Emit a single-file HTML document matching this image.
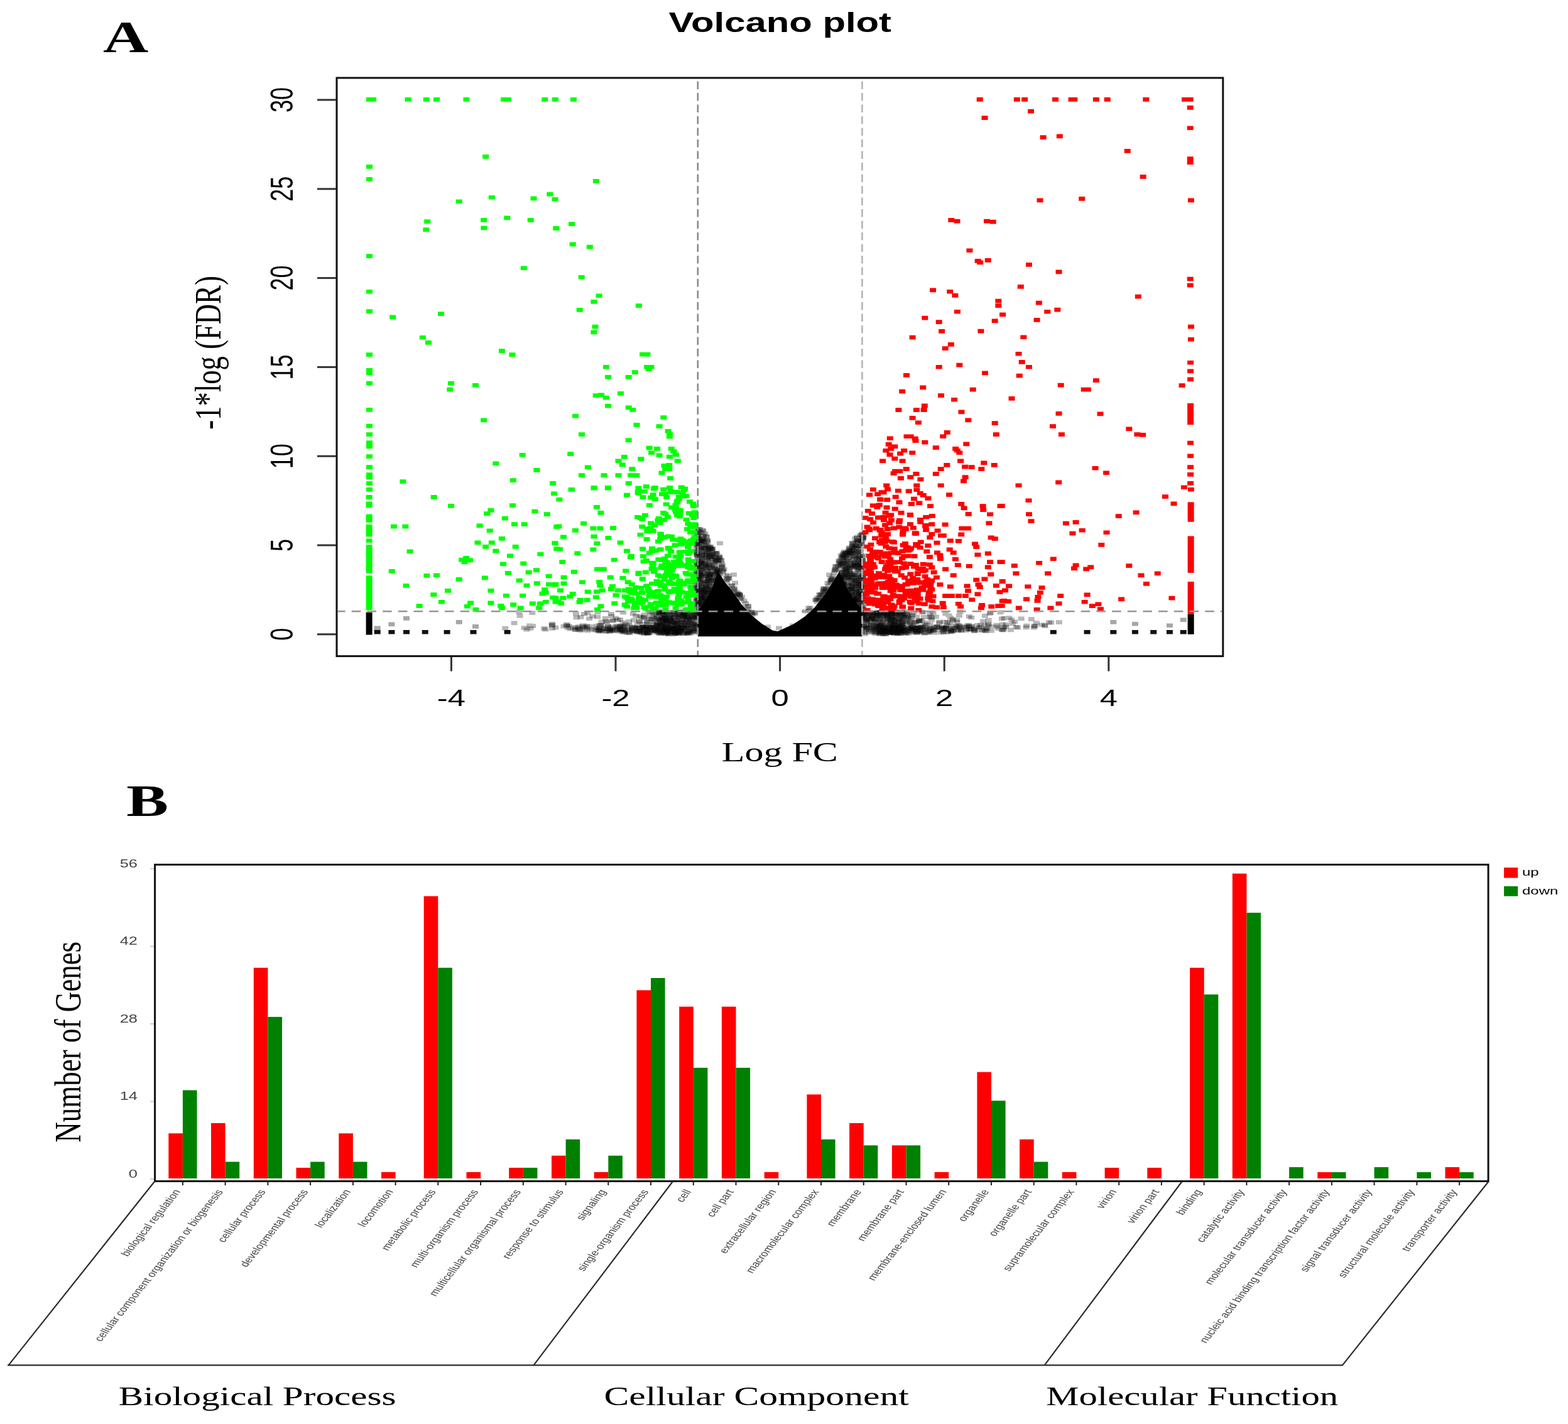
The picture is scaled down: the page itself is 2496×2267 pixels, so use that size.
<!DOCTYPE html>
<html><head><meta charset="utf-8"><title>Volcano plot and GO classification</title>
<style>html,body{margin:0;padding:0;background:#fff;overflow:hidden}svg{display:block}</style></head>
<body><svg width="2496" height="2267" viewBox="0 0 2496 2267">
<rect width="2496" height="2267" fill="#fff"/>
<text transform="translate(164.00,83.10) scale(1.4100,1)" font-family="'Liberation Serif', 'Times New Roman', serif" font-size="71" font-weight="bold" text-anchor="start" fill="#000">A</text>
<text transform="translate(1241.80,50.80) scale(1.3295,1)" font-family="'Liberation Sans', Arial, sans-serif" font-size="45" font-weight="bold" text-anchor="middle" fill="#000">Volcano plot</text>
<path d="M1143.0 910.0L1154.7 927.9L1164.7 939.4L1180.6 962.4L1195.0 978.2L1212.2 992.6L1229.5 1003.4L1238.0 1005.0L1262.5 994.0L1281.2 981.5L1297.0 966.7L1312.9 946.6L1325.8 926.4L1336.0 910.0L1350.0 940.0L1365.0 962.0L1372.0 972.0L1372.0 1013.2L1111.0 1013.2L1111.0 972.0L1119.0 962.0L1132.0 940.0Z" fill="#000"/>
<g fill="#000" fill-opacity="0.28"><path d="M1128.8 940.9h10v6.7h-10zM1122.7 916.0h10v6.7h-10zM1139.6 963.7h10v6.7h-10zM1109.1 921.9h10v6.7h-10zM1111.3 868.7h10v6.7h-10zM1115.9 922.4h10v6.7h-10zM1121.2 857.4h10v6.7h-10zM1123.0 965.1h10v6.7h-10zM1118.5 954.7h10v6.7h-10zM1122.3 871.9h10v6.7h-10zM1110.4 951.1h10v6.7h-10zM1138.6 964.5h10v6.7h-10zM1116.8 943.8h10v6.7h-10zM1119.5 930.8h10v6.7h-10zM1127.7 936.7h10v6.7h-10zM1105.0 879.1h10v6.7h-10zM1129.9 960.2h10v6.7h-10zM1135.3 960.5h10v6.7h-10zM1140.9 933.0h10v6.7h-10zM1134.0 932.0h10v6.7h-10zM1104.6 944.2h10v6.7h-10zM1107.3 867.6h10v6.7h-10zM1126.6 920.8h10v6.7h-10zM1110.1 910.1h10v6.7h-10zM1107.9 965.4h10v6.7h-10zM1107.7 969.2h10v6.7h-10zM1122.8 872.9h10v6.7h-10zM1130.1 954.9h10v6.7h-10zM1126.1 967.3h10v6.7h-10zM1117.0 856.8h10v6.7h-10zM1111.7 892.5h10v6.7h-10zM1108.8 858.3h10v6.7h-10zM1127.5 973.9h10v6.7h-10zM1123.9 911.5h10v6.7h-10zM1110.3 920.8h10v6.7h-10zM1120.5 905.3h10v6.7h-10zM1118.5 864.3h10v6.7h-10zM1106.0 938.8h10v6.7h-10zM1111.2 844.3h10v6.7h-10zM1106.8 940.5h10v6.7h-10zM1133.7 950.1h10v6.7h-10zM1104.7 938.9h10v6.7h-10zM1104.3 980.9h10v6.7h-10zM1140.6 905.2h10v6.7h-10zM1107.1 863.1h10v6.7h-10zM1139.6 954.9h10v6.7h-10zM1121.8 906.8h10v6.7h-10zM1115.6 940.3h10v6.7h-10zM1105.2 849.0h10v6.7h-10zM1121.9 869.2h10v6.7h-10zM1129.1 878.7h10v6.7h-10zM1103.9 901.5h10v6.7h-10zM1107.0 919.6h10v6.7h-10zM1109.7 897.9h10v6.7h-10zM1108.4 917.0h10v6.7h-10zM1351.9 968.2h10v6.7h-10zM1338.3 896.0h10v6.7h-10zM1352.3 963.5h10v6.7h-10zM1343.2 955.1h10v6.7h-10zM1340.1 974.9h10v6.7h-10zM1363.5 933.3h10v6.7h-10zM1354.6 922.4h10v6.7h-10zM1334.9 893.1h10v6.7h-10zM1367.6 926.7h10v6.7h-10zM1345.1 875.5h10v6.7h-10zM1369.3 963.1h10v6.7h-10zM1336.4 975.3h10v6.7h-10zM1362.6 889.4h10v6.7h-10zM1350.8 970.1h10v6.7h-10zM1362.3 930.6h10v6.7h-10zM1358.6 944.9h10v6.7h-10zM1351.4 929.6h10v6.7h-10zM1349.1 941.9h10v6.7h-10zM1358.3 962.5h10v6.7h-10zM1343.8 945.0h10v6.7h-10zM1340.0 980.6h10v6.7h-10zM1357.5 915.4h10v6.7h-10zM1356.8 883.6h10v6.7h-10zM1345.8 962.5h10v6.7h-10zM1342.9 978.4h10v6.7h-10zM1354.0 965.7h10v6.7h-10zM1345.9 963.7h10v6.7h-10zM1351.5 958.7h10v6.7h-10zM1335.7 953.2h10v6.7h-10zM1352.9 964.0h10v6.7h-10zM1358.3 926.6h10v6.7h-10zM1351.8 867.3h10v6.7h-10zM1362.4 973.7h10v6.7h-10zM1333.3 917.6h10v6.7h-10zM1359.2 946.8h10v6.7h-10zM1360.4 946.5h10v6.7h-10zM1353.6 886.8h10v6.7h-10zM1337.5 927.1h10v6.7h-10zM1355.2 952.5h10v6.7h-10zM1345.0 913.7h10v6.7h-10zM1365.1 876.3h10v6.7h-10zM1350.5 889.0h10v6.7h-10zM1355.4 877.8h10v6.7h-10zM1359.1 851.4h10v6.7h-10zM1346.6 900.5h10v6.7h-10zM1359.3 927.3h10v6.7h-10zM1339.3 898.8h10v6.7h-10zM1352.9 957.3h10v6.7h-10zM1367.8 941.2h10v6.7h-10zM1359.4 856.4h10v6.7h-10zM1154.9 917.5h10v6.7h-10zM1170.2 942.5h10v6.7h-10zM1172.5 944.4h10v6.7h-10zM1151.5 917.3h10v6.7h-10zM1145.9 906.7h10v6.7h-10zM1283.3 968.6h10v6.7h-10zM1304.7 940.9h10v6.7h-10zM1312.5 925.0h10v6.7h-10zM1338.3 877.2h10v6.7h-10zM1325.2 903.5h10v6.7h-10zM1338.1 880.2h10v6.7h-10zM1165.0 924.6h10v6.7h-10zM1083.6 997.5h10v6.7h-10zM1383.4 973.1h10v6.7h-10zM1388.8 1005.5h10v6.7h-10zM1103.5 985.0h10v6.7h-10zM1056.1 974.9h10v6.7h-10zM1414.5 979.3h10v6.7h-10zM1074.0 972.2h10v6.7h-10zM1067.2 981.9h10v6.7h-10zM1104.4 999.4h10v6.7h-10zM1061.8 971.3h10v6.7h-10zM1367.7 977.3h10v6.7h-10zM1377.2 978.8h10v6.7h-10zM1398.3 1002.1h10v6.7h-10zM1418.8 997.4h10v6.7h-10zM1425.3 993.1h10v6.7h-10zM1422.1 982.2h10v6.7h-10zM1088.1 1001.1h10v6.7h-10zM1392.7 994.3h10v6.7h-10zM1389.3 1002.7h10v6.7h-10zM1420.3 995.9h10v6.7h-10zM1080.9 982.1h10v6.7h-10zM1383.7 972.8h10v6.7h-10zM1053.8 979.7h10v6.7h-10zM1081.5 978.8h10v6.7h-10zM1053.7 977.0h10v6.7h-10zM1081.5 975.2h10v6.7h-10zM1430.2 981.7h10v6.7h-10zM1410.1 1002.6h10v6.7h-10zM1419.4 996.3h10v6.7h-10zM1390.1 979.9h10v6.7h-10zM1396.0 982.0h10v6.7h-10zM1371.7 983.1h10v6.7h-10zM1372.2 972.0h10v6.7h-10zM1104.4 990.4h10v6.7h-10zM1087.6 1002.5h10v6.7h-10zM1373.3 999.4h10v6.7h-10zM1072.8 980.3h10v6.7h-10zM1395.2 992.9h10v6.7h-10zM1095.7 980.4h10v6.7h-10zM1069.8 976.9h10v6.7h-10zM1097.5 1001.5h10v6.7h-10zM1395.1 976.1h10v6.7h-10zM1056.0 984.1h10v6.7h-10zM1429.8 978.2h10v6.7h-10zM1052.8 998.1h10v6.7h-10zM1052.5 1000.7h10v6.7h-10zM1045.5 972.3h10v6.7h-10zM1424.5 991.4h10v6.7h-10zM1067.2 986.7h10v6.7h-10zM1064.9 996.3h10v6.7h-10zM1404.9 976.8h10v6.7h-10zM1373.7 993.8h10v6.7h-10zM1043.7 1003.7h10v6.7h-10zM1054.5 1003.8h10v6.7h-10zM1502.6 1003.1h10v6.7h-10zM1572.5 994.0h10v6.7h-10zM1069.3 1000.5h10v6.7h-10zM1068.8 1000.4h10v6.7h-10zM1546.7 1000.8h10v6.7h-10zM1435.0 998.3h10v6.7h-10zM1021.2 997.7h10v6.7h-10zM1417.0 999.3h10v6.7h-10zM1449.6 1003.1h10v6.7h-10zM1456.6 1000.7h10v6.7h-10zM1450.1 997.0h10v6.7h-10zM1512.0 1001.6h10v6.7h-10zM997.6 1004.0h10v6.7h-10zM1015.0 998.6h10v6.7h-10zM1398.7 999.2h10v6.7h-10zM1519.7 998.0h10v6.7h-10zM1394.0 996.9h10v6.7h-10zM1443.8 997.6h10v6.7h-10zM1021.1 998.2h10v6.7h-10zM1423.0 1002.2h10v6.7h-10zM874.1 989.8h10v6.7h-10zM1494.0 995.0h10v6.7h-10zM1041.8 1002.8h10v6.7h-10zM964.5 1001.5h10v6.7h-10zM1020.4 1004.7h10v6.7h-10zM1519.8 1000.1h10v6.7h-10zM1658.2 993.4h10v6.7h-10zM1029.6 995.4h10v6.7h-10zM1534.3 992.4h10v6.7h-10zM1492.6 1003.6h10v6.7h-10zM1402.8 996.5h10v6.7h-10zM1007.9 996.0h10v6.7h-10zM1596.1 994.4h10v6.7h-10zM950.5 1001.9h10v6.7h-10zM1424.6 997.9h10v6.7h-10zM1041.6 999.1h10v6.7h-10zM1480.6 1000.7h10v6.7h-10zM1429.1 999.9h10v6.7h-10zM1001.5 999.9h10v6.7h-10zM874.0 997.0h10v6.7h-10zM1401.1 1001.1h10v6.7h-10zM1052.3 998.8h10v6.7h-10zM1537.9 998.3h10v6.7h-10zM1483.7 999.9h10v6.7h-10zM1024.0 999.2h10v6.7h-10zM1078.7 994.7h10v6.7h-10zM1430.6 988.7h10v6.7h-10zM1540.1 996.8h10v6.7h-10zM1458.0 996.0h10v6.7h-10zM1523.6 970.3h10v6.7h-10zM984.4 1000.3h10v6.7h-10zM1475.7 991.2h10v6.7h-10zM1438.8 973.5h10v6.7h-10zM986.3 996.3h10v6.7h-10zM1039.5 992.7h10v6.7h-10zM983.3 992.9h10v6.7h-10zM1417.5 991.7h10v6.7h-10zM1593.7 980.8h10v6.7h-10zM1004.0 984.1h10v6.7h-10zM1026.5 982.1h10v6.7h-10zM1443.3 987.4h10v6.7h-10zM1427.6 976.4h10v6.7h-10zM1518.6 987.1h10v6.7h-10zM933.1 998.5h10v6.7h-10zM971.0 984.4h10v6.7h-10zM1601.5 980.3h10v6.7h-10zM1055.7 973.2h10v6.7h-10zM1434.3 972.9h10v6.7h-10zM1022.4 1004.0h10v6.7h-10zM1468.7 991.9h10v6.7h-10zM1434.6 1004.9h10v6.7h-10zM1438.7 977.7h10v6.7h-10z"/><path d="M1110.9 924.1h10v6.7h-10zM1104.3 877.3h10v6.7h-10zM1104.4 895.0h10v6.7h-10zM1140.7 978.4h10v6.7h-10zM1107.6 895.4h10v6.7h-10zM1121.1 964.2h10v6.7h-10zM1111.0 947.8h10v6.7h-10zM1117.1 883.9h10v6.7h-10zM1105.1 953.6h10v6.7h-10zM1135.9 963.5h10v6.7h-10zM1111.6 845.3h10v6.7h-10zM1119.0 914.2h10v6.7h-10zM1105.6 932.0h10v6.7h-10zM1113.9 976.9h10v6.7h-10zM1126.8 886.5h10v6.7h-10zM1119.7 969.1h10v6.7h-10zM1107.8 973.4h10v6.7h-10zM1119.9 928.3h10v6.7h-10zM1122.7 930.4h10v6.7h-10zM1113.0 881.2h10v6.7h-10zM1132.9 917.2h10v6.7h-10zM1134.3 931.0h10v6.7h-10zM1104.6 894.2h10v6.7h-10zM1114.0 978.9h10v6.7h-10zM1134.8 921.3h10v6.7h-10zM1123.6 929.9h10v6.7h-10zM1118.3 899.3h10v6.7h-10zM1103.7 852.9h10v6.7h-10zM1107.7 854.9h10v6.7h-10zM1122.5 919.4h10v6.7h-10zM1119.9 930.2h10v6.7h-10zM1126.3 885.8h10v6.7h-10zM1138.5 943.3h10v6.7h-10zM1134.6 911.6h10v6.7h-10zM1103.1 953.7h10v6.7h-10zM1137.5 978.9h10v6.7h-10zM1125.1 911.9h10v6.7h-10zM1105.8 916.7h10v6.7h-10zM1113.3 888.5h10v6.7h-10zM1133.5 934.2h10v6.7h-10zM1103.5 976.7h10v6.7h-10zM1114.3 881.1h10v6.7h-10zM1132.3 935.6h10v6.7h-10zM1117.0 926.1h10v6.7h-10zM1140.5 937.9h10v6.7h-10zM1106.0 940.2h10v6.7h-10zM1112.8 939.9h10v6.7h-10zM1112.8 955.6h10v6.7h-10zM1113.4 858.3h10v6.7h-10zM1116.8 859.6h10v6.7h-10zM1113.2 968.9h10v6.7h-10zM1128.5 870.0h10v6.7h-10zM1117.6 846.2h10v6.7h-10zM1105.6 896.6h10v6.7h-10zM1103.2 981.5h10v6.7h-10zM1369.8 942.1h10v6.7h-10zM1352.6 975.1h10v6.7h-10zM1336.3 926.5h10v6.7h-10zM1341.9 910.5h10v6.7h-10zM1359.3 979.1h10v6.7h-10zM1360.4 950.3h10v6.7h-10zM1363.2 981.5h10v6.7h-10zM1346.8 936.1h10v6.7h-10zM1365.5 925.6h10v6.7h-10zM1368.2 961.6h10v6.7h-10zM1334.2 919.1h10v6.7h-10zM1365.0 930.2h10v6.7h-10zM1335.6 907.0h10v6.7h-10zM1340.7 884.4h10v6.7h-10zM1358.5 939.8h10v6.7h-10zM1345.7 964.6h10v6.7h-10zM1366.6 961.1h10v6.7h-10zM1362.0 965.6h10v6.7h-10zM1363.6 976.4h10v6.7h-10zM1351.0 872.9h10v6.7h-10zM1339.0 966.1h10v6.7h-10zM1346.9 946.3h10v6.7h-10zM1334.7 940.5h10v6.7h-10zM1354.8 882.8h10v6.7h-10zM1366.6 893.4h10v6.7h-10zM1367.8 914.4h10v6.7h-10zM1365.4 890.5h10v6.7h-10zM1366.3 972.4h10v6.7h-10zM1345.0 966.8h10v6.7h-10zM1365.9 858.8h10v6.7h-10zM1349.8 954.1h10v6.7h-10zM1368.0 852.8h10v6.7h-10zM1363.4 929.2h10v6.7h-10zM1362.1 966.1h10v6.7h-10zM1335.5 925.0h10v6.7h-10zM1352.3 861.1h10v6.7h-10zM1364.0 876.5h10v6.7h-10zM1340.7 948.2h10v6.7h-10zM1349.9 934.2h10v6.7h-10zM1355.1 874.3h10v6.7h-10zM1356.2 909.1h10v6.7h-10zM1358.6 952.0h10v6.7h-10zM1358.4 978.9h10v6.7h-10zM1338.8 973.0h10v6.7h-10zM1337.1 934.6h10v6.7h-10zM1346.4 874.1h10v6.7h-10zM1340.9 969.3h10v6.7h-10zM1351.5 898.0h10v6.7h-10zM1358.1 920.4h10v6.7h-10zM1364.2 886.6h10v6.7h-10zM1172.4 942.8h10v6.7h-10zM1182.3 956.8h10v6.7h-10zM1166.7 941.4h10v6.7h-10zM1138.7 884.4h10v6.7h-10zM1181.6 958.8h10v6.7h-10zM1324.1 905.2h10v6.7h-10zM1304.2 943.4h10v6.7h-10zM1338.8 874.7h10v6.7h-10zM1340.4 880.6h10v6.7h-10zM1300.7 942.9h10v6.7h-10zM1333.7 881.1h10v6.7h-10zM1315.0 911.6h10v6.7h-10zM1075.1 970.5h10v6.7h-10zM1432.2 980.0h10v6.7h-10zM1090.9 1003.9h10v6.7h-10zM1058.9 990.9h10v6.7h-10zM1045.4 998.9h10v6.7h-10zM1413.9 996.6h10v6.7h-10zM1092.9 985.0h10v6.7h-10zM1044.0 986.5h10v6.7h-10zM1053.1 1001.1h10v6.7h-10zM1041.8 990.7h10v6.7h-10zM1401.1 1006.2h10v6.7h-10zM1046.5 985.2h10v6.7h-10zM1096.3 981.8h10v6.7h-10zM1381.9 973.5h10v6.7h-10zM1431.6 1001.4h10v6.7h-10zM1428.0 970.4h10v6.7h-10zM1410.7 971.8h10v6.7h-10zM1381.9 982.1h10v6.7h-10zM1058.9 987.9h10v6.7h-10zM1052.5 989.3h10v6.7h-10zM1370.2 993.6h10v6.7h-10zM1081.3 995.9h10v6.7h-10zM1081.7 996.7h10v6.7h-10zM1061.4 983.8h10v6.7h-10zM1418.2 989.1h10v6.7h-10zM1048.4 993.5h10v6.7h-10zM1073.3 989.3h10v6.7h-10zM1369.6 972.5h10v6.7h-10zM1052.8 979.9h10v6.7h-10zM1079.2 987.4h10v6.7h-10zM1093.4 1002.8h10v6.7h-10zM1377.4 986.5h10v6.7h-10zM1396.2 990.6h10v6.7h-10zM1066.7 994.2h10v6.7h-10zM1076.4 974.7h10v6.7h-10zM1096.8 976.6h10v6.7h-10zM1078.8 974.0h10v6.7h-10zM1057.4 982.8h10v6.7h-10zM1422.9 994.5h10v6.7h-10zM1070.5 996.8h10v6.7h-10zM1389.3 972.0h10v6.7h-10zM1430.6 976.1h10v6.7h-10zM1402.9 972.8h10v6.7h-10zM1089.6 987.7h10v6.7h-10zM1049.1 976.5h10v6.7h-10zM1083.0 974.5h10v6.7h-10zM1068.7 975.1h10v6.7h-10zM1369.0 975.7h10v6.7h-10zM1089.4 995.0h10v6.7h-10zM1090.6 999.7h10v6.7h-10zM1081.0 970.6h10v6.7h-10zM1405.2 1000.2h10v6.7h-10zM1057.1 998.8h10v6.7h-10zM1452.5 1003.2h10v6.7h-10zM1041.6 996.4h10v6.7h-10zM1404.6 1000.6h10v6.7h-10zM1592.6 995.2h10v6.7h-10zM1035.2 999.0h10v6.7h-10zM981.1 999.0h10v6.7h-10zM1046.7 1004.7h10v6.7h-10zM1418.4 1003.6h10v6.7h-10zM1010.5 1000.3h10v6.7h-10zM1070.4 1003.2h10v6.7h-10zM1400.8 1001.5h10v6.7h-10zM1045.4 997.6h10v6.7h-10zM1509.0 1001.7h10v6.7h-10zM1073.4 998.9h10v6.7h-10zM1497.7 996.3h10v6.7h-10zM863.2 998.7h10v6.7h-10zM1668.2 987.8h10v6.7h-10zM1044.1 1004.8h10v6.7h-10zM1036.4 1003.0h10v6.7h-10zM1545.7 997.6h10v6.7h-10zM1020.0 1004.8h10v6.7h-10zM970.7 1001.1h10v6.7h-10zM1059.4 998.9h10v6.7h-10zM1056.0 1002.4h10v6.7h-10zM1411.1 995.8h10v6.7h-10zM1014.1 998.6h10v6.7h-10zM1025.9 994.9h10v6.7h-10zM1653.3 991.4h10v6.7h-10zM1056.2 1003.4h10v6.7h-10zM1074.0 1000.8h10v6.7h-10zM1454.4 1004.0h10v6.7h-10zM1014.8 998.5h10v6.7h-10zM1001.7 1001.5h10v6.7h-10zM1030.0 999.5h10v6.7h-10zM949.2 999.2h10v6.7h-10zM1031.3 1002.1h10v6.7h-10zM1427.6 1004.6h10v6.7h-10zM897.4 990.6h10v6.7h-10zM1062.6 998.2h10v6.7h-10zM1640.8 995.8h10v6.7h-10zM1049.7 999.3h10v6.7h-10zM1042.9 998.1h10v6.7h-10zM1533.0 1000.3h10v6.7h-10zM1016.5 1002.9h10v6.7h-10zM1530.4 994.4h10v6.7h-10zM1038.0 997.6h10v6.7h-10zM1017.7 994.7h10v6.7h-10zM1465.7 979.0h10v6.7h-10zM1568.6 983.7h10v6.7h-10zM1045.0 997.8h10v6.7h-10zM1467.9 979.3h10v6.7h-10zM1428.7 1001.3h10v6.7h-10zM1044.9 971.7h10v6.7h-10zM1040.5 1002.7h10v6.7h-10zM1423.8 974.6h10v6.7h-10zM1431.7 970.2h10v6.7h-10zM1537.7 978.1h10v6.7h-10zM1414.1 977.5h10v6.7h-10zM961.2 987.0h10v6.7h-10zM1413.5 980.4h10v6.7h-10zM1027.5 1004.2h10v6.7h-10zM946.2 978.7h10v6.7h-10zM986.2 989.2h10v6.7h-10zM1590.0 981.6h10v6.7h-10zM1065.6 987.9h10v6.7h-10zM1430.8 1002.7h10v6.7h-10zM1473.9 978.9h10v6.7h-10zM1429.7 991.9h10v6.7h-10zM822.6 977.1h10v6.7h-10zM1037.0 982.4h10v6.7h-10zM1056.6 997.2h10v6.7h-10zM996.8 991.9h10v6.7h-10zM986.2 987.5h10v6.7h-10z"/><path d="M1130.9 895.1h10v6.7h-10zM1117.2 981.4h10v6.7h-10zM1109.1 886.5h10v6.7h-10zM1104.4 889.9h10v6.7h-10zM1109.4 926.0h10v6.7h-10zM1108.4 943.3h10v6.7h-10zM1113.9 925.6h10v6.7h-10zM1111.3 973.1h10v6.7h-10zM1115.7 962.9h10v6.7h-10zM1130.0 904.9h10v6.7h-10zM1122.9 937.4h10v6.7h-10zM1123.0 965.9h10v6.7h-10zM1122.2 920.0h10v6.7h-10zM1127.6 902.6h10v6.7h-10zM1123.8 923.5h10v6.7h-10zM1111.1 858.8h10v6.7h-10zM1103.2 969.0h10v6.7h-10zM1112.8 883.6h10v6.7h-10zM1117.8 949.6h10v6.7h-10zM1134.4 979.6h10v6.7h-10zM1129.2 902.8h10v6.7h-10zM1133.7 941.6h10v6.7h-10zM1135.5 975.0h10v6.7h-10zM1107.4 935.7h10v6.7h-10zM1109.1 962.3h10v6.7h-10zM1132.3 897.5h10v6.7h-10zM1132.4 972.8h10v6.7h-10zM1109.1 879.7h10v6.7h-10zM1123.7 869.9h10v6.7h-10zM1107.9 974.7h10v6.7h-10zM1116.4 975.4h10v6.7h-10zM1107.3 921.9h10v6.7h-10zM1112.6 946.0h10v6.7h-10zM1104.5 892.7h10v6.7h-10zM1135.5 966.0h10v6.7h-10zM1140.0 968.5h10v6.7h-10zM1123.1 917.8h10v6.7h-10zM1135.8 920.8h10v6.7h-10zM1119.2 952.0h10v6.7h-10zM1127.4 870.3h10v6.7h-10zM1108.7 907.9h10v6.7h-10zM1124.9 924.4h10v6.7h-10zM1132.4 969.2h10v6.7h-10zM1111.6 893.3h10v6.7h-10zM1132.4 909.9h10v6.7h-10zM1136.3 962.8h10v6.7h-10zM1103.5 923.8h10v6.7h-10zM1132.0 952.5h10v6.7h-10zM1109.9 934.9h10v6.7h-10zM1135.8 915.9h10v6.7h-10zM1134.3 956.7h10v6.7h-10zM1114.4 841.7h10v6.7h-10zM1136.4 904.2h10v6.7h-10zM1112.4 853.7h10v6.7h-10zM1367.3 943.8h10v6.7h-10zM1356.3 898.0h10v6.7h-10zM1352.5 934.7h10v6.7h-10zM1369.9 919.6h10v6.7h-10zM1336.4 966.4h10v6.7h-10zM1357.6 916.7h10v6.7h-10zM1334.5 920.4h10v6.7h-10zM1338.4 970.0h10v6.7h-10zM1351.1 927.8h10v6.7h-10zM1357.4 866.1h10v6.7h-10zM1357.4 922.0h10v6.7h-10zM1356.7 917.7h10v6.7h-10zM1353.0 942.7h10v6.7h-10zM1336.5 938.5h10v6.7h-10zM1337.3 970.6h10v6.7h-10zM1360.8 897.2h10v6.7h-10zM1350.1 964.2h10v6.7h-10zM1356.5 958.4h10v6.7h-10zM1344.1 969.9h10v6.7h-10zM1336.2 920.9h10v6.7h-10zM1349.4 953.4h10v6.7h-10zM1333.0 935.0h10v6.7h-10zM1358.0 934.5h10v6.7h-10zM1360.7 919.2h10v6.7h-10zM1339.0 970.5h10v6.7h-10zM1364.0 926.2h10v6.7h-10zM1342.0 902.5h10v6.7h-10zM1352.3 935.5h10v6.7h-10zM1363.4 957.6h10v6.7h-10zM1366.0 848.1h10v6.7h-10zM1361.1 858.2h10v6.7h-10zM1340.0 912.8h10v6.7h-10zM1356.3 955.5h10v6.7h-10zM1342.9 880.7h10v6.7h-10zM1334.6 927.8h10v6.7h-10zM1335.0 955.8h10v6.7h-10zM1362.7 979.5h10v6.7h-10zM1366.9 971.6h10v6.7h-10zM1337.1 923.7h10v6.7h-10zM1355.6 921.1h10v6.7h-10zM1357.2 979.9h10v6.7h-10zM1352.9 916.1h10v6.7h-10zM1360.9 957.9h10v6.7h-10zM1361.5 903.6h10v6.7h-10zM1354.7 949.1h10v6.7h-10zM1362.5 900.0h10v6.7h-10zM1339.4 929.6h10v6.7h-10zM1351.3 871.8h10v6.7h-10zM1357.1 943.5h10v6.7h-10zM1369.3 852.6h10v6.7h-10zM1135.6 876.7h10v6.7h-10zM1191.6 972.3h10v6.7h-10zM1191.6 972.9h10v6.7h-10zM1195.4 972.5h10v6.7h-10zM1192.4 970.9h10v6.7h-10zM1186.1 961.6h10v6.7h-10zM1325.6 903.7h10v6.7h-10zM1293.9 951.4h10v6.7h-10zM1331.6 893.7h10v6.7h-10zM1317.8 923.0h10v6.7h-10zM1322.8 908.8h10v6.7h-10zM1340.8 876.8h10v6.7h-10zM1325.0 898.6h10v6.7h-10zM1049.9 994.8h10v6.7h-10zM1420.6 997.3h10v6.7h-10zM1057.3 999.2h10v6.7h-10zM1401.6 976.7h10v6.7h-10zM1400.3 973.8h10v6.7h-10zM1427.9 1004.5h10v6.7h-10zM1378.5 1003.8h10v6.7h-10zM1379.3 1002.3h10v6.7h-10zM1371.2 996.9h10v6.7h-10zM1384.0 998.0h10v6.7h-10zM1394.5 982.2h10v6.7h-10zM1428.4 1003.3h10v6.7h-10zM1432.0 986.8h10v6.7h-10zM1430.9 978.5h10v6.7h-10zM1430.6 992.5h10v6.7h-10zM1059.2 1006.4h10v6.7h-10zM1432.4 983.8h10v6.7h-10zM1397.0 988.2h10v6.7h-10zM1411.2 990.7h10v6.7h-10zM1399.0 1001.8h10v6.7h-10zM1432.6 994.9h10v6.7h-10zM1059.5 976.7h10v6.7h-10zM1414.0 973.9h10v6.7h-10zM1368.7 982.0h10v6.7h-10zM1102.2 992.6h10v6.7h-10zM1065.6 986.0h10v6.7h-10zM1378.7 983.0h10v6.7h-10zM1415.0 996.7h10v6.7h-10zM1373.4 972.9h10v6.7h-10zM1427.5 989.3h10v6.7h-10zM1072.5 1001.0h10v6.7h-10zM1374.0 976.0h10v6.7h-10zM1051.5 989.2h10v6.7h-10zM1411.2 996.0h10v6.7h-10zM1077.0 978.8h10v6.7h-10zM1383.9 997.7h10v6.7h-10zM1431.6 974.0h10v6.7h-10zM1068.6 987.7h10v6.7h-10zM1086.0 996.7h10v6.7h-10zM1379.9 980.7h10v6.7h-10zM1396.5 977.7h10v6.7h-10zM1067.8 1006.0h10v6.7h-10zM1427.1 985.9h10v6.7h-10zM1083.2 977.3h10v6.7h-10zM1417.5 978.4h10v6.7h-10zM1101.0 979.1h10v6.7h-10zM1384.3 1002.7h10v6.7h-10zM1081.3 976.4h10v6.7h-10zM1396.6 970.9h10v6.7h-10zM1420.7 990.0h10v6.7h-10zM1424.8 1005.4h10v6.7h-10zM1069.9 996.9h10v6.7h-10zM1422.1 999.4h10v6.7h-10zM1401.5 998.3h10v6.7h-10zM1524.9 999.6h10v6.7h-10zM1079.4 1000.5h10v6.7h-10zM1487.4 996.2h10v6.7h-10zM1040.7 1000.4h10v6.7h-10zM1074.7 997.1h10v6.7h-10zM1015.1 1003.2h10v6.7h-10zM1044.7 997.5h10v6.7h-10zM969.8 999.9h10v6.7h-10zM1450.2 999.9h10v6.7h-10zM1550.3 992.0h10v6.7h-10zM1548.7 993.8h10v6.7h-10zM898.3 993.0h10v6.7h-10zM1055.9 1000.2h10v6.7h-10zM1029.7 1000.0h10v6.7h-10zM1019.6 994.7h10v6.7h-10zM1418.8 999.4h10v6.7h-10zM1414.8 998.7h10v6.7h-10zM1456.2 995.4h10v6.7h-10zM1428.3 998.4h10v6.7h-10zM1427.2 1004.3h10v6.7h-10zM1046.8 994.4h10v6.7h-10zM1418.1 1003.4h10v6.7h-10zM1037.6 1001.2h10v6.7h-10zM1533.8 998.4h10v6.7h-10zM1509.9 1000.7h10v6.7h-10zM1044.9 1004.8h10v6.7h-10zM941.4 999.0h10v6.7h-10zM1397.6 1003.3h10v6.7h-10zM1416.8 997.0h10v6.7h-10zM1439.9 1001.5h10v6.7h-10zM1466.8 998.2h10v6.7h-10zM1023.6 999.3h10v6.7h-10zM1030.7 994.9h10v6.7h-10zM922.1 994.3h10v6.7h-10zM981.2 1001.5h10v6.7h-10zM892.5 993.8h10v6.7h-10zM1022.9 1003.9h10v6.7h-10zM1015.0 997.1h10v6.7h-10zM1028.5 1003.5h10v6.7h-10zM1480.5 999.9h10v6.7h-10zM962.9 994.0h10v6.7h-10zM1016.1 1001.5h10v6.7h-10zM1497.9 1002.0h10v6.7h-10zM1417.4 995.2h10v6.7h-10zM1486.1 994.1h10v6.7h-10zM1074.5 1002.8h10v6.7h-10zM1043.2 983.4h10v6.7h-10zM1053.2 993.8h10v6.7h-10zM1568.7 990.0h10v6.7h-10zM1443.4 987.6h10v6.7h-10zM1427.3 971.6h10v6.7h-10zM1446.0 994.0h10v6.7h-10zM1016.3 1004.5h10v6.7h-10zM982.1 982.9h10v6.7h-10zM1440.0 980.6h10v6.7h-10zM1431.7 995.8h10v6.7h-10zM951.3 991.9h10v6.7h-10zM1009.5 990.5h10v6.7h-10zM987.5 995.5h10v6.7h-10zM947.6 999.0h10v6.7h-10zM1496.1 997.1h10v6.7h-10zM1021.2 1000.7h10v6.7h-10zM1009.3 1000.4h10v6.7h-10zM842.3 972.2h10v6.7h-10zM1507.6 987.7h10v6.7h-10zM1424.7 1002.3h10v6.7h-10zM1012.7 994.8h10v6.7h-10zM1013.2 977.7h10v6.7h-10zM1454.4 995.6h10v6.7h-10zM1449.0 995.1h10v6.7h-10zM946.4 971.2h10v6.7h-10zM938.5 977.9h10v6.7h-10z"/><path d="M1120.5 960.9h10v6.7h-10zM1119.2 868.9h10v6.7h-10zM1104.2 864.0h10v6.7h-10zM1116.1 895.3h10v6.7h-10zM1108.2 892.5h10v6.7h-10zM1105.0 889.9h10v6.7h-10zM1110.5 895.6h10v6.7h-10zM1108.2 936.8h10v6.7h-10zM1135.9 966.1h10v6.7h-10zM1131.6 913.2h10v6.7h-10zM1106.9 951.5h10v6.7h-10zM1138.8 915.1h10v6.7h-10zM1105.1 846.5h10v6.7h-10zM1119.1 871.8h10v6.7h-10zM1120.8 941.6h10v6.7h-10zM1130.9 920.8h10v6.7h-10zM1125.3 958.2h10v6.7h-10zM1119.8 876.5h10v6.7h-10zM1125.6 910.0h10v6.7h-10zM1107.2 929.9h10v6.7h-10zM1106.3 838.7h10v6.7h-10zM1103.3 858.8h10v6.7h-10zM1137.2 904.0h10v6.7h-10zM1117.7 932.4h10v6.7h-10zM1130.5 909.3h10v6.7h-10zM1128.0 913.7h10v6.7h-10zM1135.7 970.2h10v6.7h-10zM1117.5 902.3h10v6.7h-10zM1134.2 888.0h10v6.7h-10zM1104.7 957.8h10v6.7h-10zM1136.6 901.8h10v6.7h-10zM1120.8 905.4h10v6.7h-10zM1108.1 893.7h10v6.7h-10zM1126.9 936.3h10v6.7h-10zM1119.2 960.4h10v6.7h-10zM1126.6 978.0h10v6.7h-10zM1118.1 936.1h10v6.7h-10zM1130.2 934.4h10v6.7h-10zM1126.6 970.8h10v6.7h-10zM1112.7 948.5h10v6.7h-10zM1136.2 928.5h10v6.7h-10zM1116.4 914.1h10v6.7h-10zM1127.1 943.9h10v6.7h-10zM1108.2 908.8h10v6.7h-10zM1136.0 919.4h10v6.7h-10zM1108.2 907.7h10v6.7h-10zM1124.4 974.4h10v6.7h-10zM1114.8 959.3h10v6.7h-10zM1116.9 975.8h10v6.7h-10zM1114.7 858.3h10v6.7h-10zM1115.6 899.3h10v6.7h-10zM1124.9 877.6h10v6.7h-10zM1116.2 871.8h10v6.7h-10zM1124.2 916.7h10v6.7h-10zM1355.6 901.0h10v6.7h-10zM1347.0 957.6h10v6.7h-10zM1341.8 964.4h10v6.7h-10zM1349.6 952.8h10v6.7h-10zM1364.8 946.8h10v6.7h-10zM1335.6 911.2h10v6.7h-10zM1353.5 951.3h10v6.7h-10zM1352.2 911.9h10v6.7h-10zM1346.5 941.2h10v6.7h-10zM1334.8 947.1h10v6.7h-10zM1366.5 901.4h10v6.7h-10zM1353.2 896.4h10v6.7h-10zM1347.5 873.0h10v6.7h-10zM1362.2 937.7h10v6.7h-10zM1352.8 931.5h10v6.7h-10zM1345.9 885.2h10v6.7h-10zM1333.4 974.5h10v6.7h-10zM1356.2 892.6h10v6.7h-10zM1352.7 978.1h10v6.7h-10zM1363.9 948.4h10v6.7h-10zM1362.9 949.3h10v6.7h-10zM1368.1 888.8h10v6.7h-10zM1351.4 973.2h10v6.7h-10zM1343.4 947.3h10v6.7h-10zM1339.3 957.1h10v6.7h-10zM1361.8 946.9h10v6.7h-10zM1359.2 868.9h10v6.7h-10zM1366.4 950.2h10v6.7h-10zM1365.5 948.1h10v6.7h-10zM1347.3 882.6h10v6.7h-10zM1335.3 923.1h10v6.7h-10zM1343.5 920.5h10v6.7h-10zM1346.1 902.3h10v6.7h-10zM1351.8 939.0h10v6.7h-10zM1352.8 971.6h10v6.7h-10zM1347.8 928.6h10v6.7h-10zM1351.4 861.0h10v6.7h-10zM1368.5 847.3h10v6.7h-10zM1353.2 979.5h10v6.7h-10zM1366.9 948.0h10v6.7h-10zM1361.2 975.5h10v6.7h-10zM1339.0 978.6h10v6.7h-10zM1342.5 900.1h10v6.7h-10zM1338.6 889.2h10v6.7h-10zM1339.7 949.3h10v6.7h-10zM1347.1 905.3h10v6.7h-10zM1349.3 897.5h10v6.7h-10zM1350.1 974.8h10v6.7h-10zM1363.7 883.7h10v6.7h-10zM1350.7 897.8h10v6.7h-10zM1145.5 902.4h10v6.7h-10zM1191.2 970.9h10v6.7h-10zM1140.8 884.3h10v6.7h-10zM1144.2 899.9h10v6.7h-10zM1151.4 912.2h10v6.7h-10zM1162.6 935.5h10v6.7h-10zM1318.7 919.5h10v6.7h-10zM1336.3 881.1h10v6.7h-10zM1305.9 935.6h10v6.7h-10zM1282.3 964.8h10v6.7h-10zM1282.3 964.4h10v6.7h-10zM1300.8 948.4h10v6.7h-10zM1235.0 996.6h10v6.7h-10zM1057.1 994.0h10v6.7h-10zM1080.9 976.0h10v6.7h-10zM1393.7 977.3h10v6.7h-10zM1390.7 998.4h10v6.7h-10zM1429.9 987.9h10v6.7h-10zM1076.9 1003.3h10v6.7h-10zM1042.6 991.8h10v6.7h-10zM1053.4 1005.5h10v6.7h-10zM1414.5 973.4h10v6.7h-10zM1040.7 980.8h10v6.7h-10zM1415.0 991.6h10v6.7h-10zM1099.1 996.4h10v6.7h-10zM1097.2 983.3h10v6.7h-10zM1070.9 975.4h10v6.7h-10zM1085.3 1005.4h10v6.7h-10zM1077.9 971.3h10v6.7h-10zM1377.9 980.1h10v6.7h-10zM1066.3 999.9h10v6.7h-10zM1099.8 973.7h10v6.7h-10zM1413.0 985.5h10v6.7h-10zM1418.8 975.0h10v6.7h-10zM1058.0 998.7h10v6.7h-10zM1049.1 990.5h10v6.7h-10zM1386.6 999.2h10v6.7h-10zM1408.3 978.2h10v6.7h-10zM1100.3 971.8h10v6.7h-10zM1088.9 983.1h10v6.7h-10zM1379.0 976.4h10v6.7h-10zM1065.8 975.2h10v6.7h-10zM1418.9 999.3h10v6.7h-10zM1049.1 992.4h10v6.7h-10zM1102.5 997.4h10v6.7h-10zM1079.2 974.1h10v6.7h-10zM1387.4 986.6h10v6.7h-10zM1095.8 987.6h10v6.7h-10zM1102.7 979.5h10v6.7h-10zM1429.1 997.1h10v6.7h-10zM1429.5 971.4h10v6.7h-10zM1105.0 990.6h10v6.7h-10zM1418.4 983.6h10v6.7h-10zM1094.5 971.2h10v6.7h-10zM1088.7 983.9h10v6.7h-10zM1369.3 989.8h10v6.7h-10zM1403.9 978.4h10v6.7h-10zM1051.4 970.7h10v6.7h-10zM1062.1 1003.4h10v6.7h-10zM1055.5 1000.8h10v6.7h-10zM1056.6 989.4h10v6.7h-10zM1092.3 1004.5h10v6.7h-10zM1390.1 977.2h10v6.7h-10zM1080.4 978.5h10v6.7h-10zM1401.5 1002.3h10v6.7h-10zM1494.6 1000.2h10v6.7h-10zM1404.2 1002.7h10v6.7h-10zM1077.6 999.8h10v6.7h-10zM1402.2 994.8h10v6.7h-10zM1051.5 997.2h10v6.7h-10zM799.3 996.7h10v6.7h-10zM949.7 995.7h10v6.7h-10zM1469.2 995.0h10v6.7h-10zM1020.9 1002.8h10v6.7h-10zM1056.4 995.9h10v6.7h-10zM977.8 994.2h10v6.7h-10zM1453.8 996.5h10v6.7h-10zM1428.9 1002.1h10v6.7h-10zM1444.7 1002.0h10v6.7h-10zM1581.6 991.8h10v6.7h-10zM1396.8 1000.0h10v6.7h-10zM1077.6 994.8h10v6.7h-10zM1496.4 996.6h10v6.7h-10zM1412.0 1004.2h10v6.7h-10zM1015.8 1001.5h10v6.7h-10zM1055.7 996.6h10v6.7h-10zM896.6 992.2h10v6.7h-10zM1438.4 1003.7h10v6.7h-10zM1001.1 994.6h10v6.7h-10zM1395.1 996.0h10v6.7h-10zM1417.2 998.8h10v6.7h-10zM1452.8 1001.4h10v6.7h-10zM1020.0 1001.7h10v6.7h-10zM1641.6 993.0h10v6.7h-10zM1012.7 995.7h10v6.7h-10zM1405.3 999.6h10v6.7h-10zM987.4 1002.9h10v6.7h-10zM1022.5 1003.8h10v6.7h-10zM966.0 998.0h10v6.7h-10zM1079.5 1001.2h10v6.7h-10zM1398.7 999.0h10v6.7h-10zM1027.7 997.9h10v6.7h-10zM1545.2 999.0h10v6.7h-10zM1399.6 999.6h10v6.7h-10zM1505.5 993.0h10v6.7h-10zM1024.2 996.4h10v6.7h-10zM1420.6 1000.1h10v6.7h-10zM1043.1 999.5h10v6.7h-10zM1445.9 999.4h10v6.7h-10zM1078.3 1004.8h10v6.7h-10zM1628.5 995.6h10v6.7h-10zM1018.2 1001.2h10v6.7h-10zM930.1 996.6h10v6.7h-10zM1452.9 986.5h10v6.7h-10zM1050.9 983.6h10v6.7h-10zM1502.3 994.6h10v6.7h-10zM1424.1 995.9h10v6.7h-10zM1051.2 980.2h10v6.7h-10zM912.6 979.9h10v6.7h-10zM1020.5 981.3h10v6.7h-10zM1562.9 977.1h10v6.7h-10zM1419.2 983.1h10v6.7h-10zM1418.0 971.3h10v6.7h-10zM1414.1 979.8h10v6.7h-10zM1030.5 997.3h10v6.7h-10zM1511.8 982.0h10v6.7h-10zM1012.9 986.7h10v6.7h-10zM1065.4 998.3h10v6.7h-10zM1430.2 999.0h10v6.7h-10zM1411.3 998.7h10v6.7h-10zM1455.9 1001.4h10v6.7h-10zM1049.9 996.2h10v6.7h-10zM1449.8 1000.7h10v6.7h-10zM1478.3 979.8h10v6.7h-10zM1462.4 985.2h10v6.7h-10zM1490.5 986.5h10v6.7h-10zM910.6 999.3h10v6.7h-10zM1048.6 970.3h10v6.7h-10zM1007.2 977.0h10v6.7h-10z"/><path d="M1122.2 864.9h10v6.7h-10zM1108.9 960.5h10v6.7h-10zM1136.1 935.2h10v6.7h-10zM1137.4 972.2h10v6.7h-10zM1103.5 948.8h10v6.7h-10zM1124.0 952.7h10v6.7h-10zM1140.7 910.9h10v6.7h-10zM1127.6 882.9h10v6.7h-10zM1103.6 927.5h10v6.7h-10zM1121.2 858.6h10v6.7h-10zM1130.2 968.9h10v6.7h-10zM1115.9 959.4h10v6.7h-10zM1132.5 978.7h10v6.7h-10zM1122.5 977.4h10v6.7h-10zM1112.2 903.4h10v6.7h-10zM1108.8 869.5h10v6.7h-10zM1139.6 928.1h10v6.7h-10zM1106.3 938.0h10v6.7h-10zM1139.0 909.1h10v6.7h-10zM1129.2 971.4h10v6.7h-10zM1125.3 966.1h10v6.7h-10zM1115.3 958.7h10v6.7h-10zM1114.5 963.4h10v6.7h-10zM1105.5 916.1h10v6.7h-10zM1139.4 912.6h10v6.7h-10zM1114.8 936.4h10v6.7h-10zM1110.8 874.1h10v6.7h-10zM1108.6 852.6h10v6.7h-10zM1106.3 956.5h10v6.7h-10zM1133.6 951.5h10v6.7h-10zM1119.3 876.0h10v6.7h-10zM1109.4 910.7h10v6.7h-10zM1115.5 848.9h10v6.7h-10zM1129.8 963.8h10v6.7h-10zM1128.1 899.4h10v6.7h-10zM1105.3 963.0h10v6.7h-10zM1107.8 870.5h10v6.7h-10zM1107.4 957.3h10v6.7h-10zM1124.4 969.1h10v6.7h-10zM1117.7 885.1h10v6.7h-10zM1104.3 961.8h10v6.7h-10zM1109.7 839.9h10v6.7h-10zM1113.7 910.7h10v6.7h-10zM1113.4 840.6h10v6.7h-10zM1113.5 860.2h10v6.7h-10zM1120.5 884.3h10v6.7h-10zM1105.1 980.5h10v6.7h-10zM1140.1 959.0h10v6.7h-10zM1108.3 877.4h10v6.7h-10zM1137.9 917.0h10v6.7h-10zM1136.9 926.6h10v6.7h-10zM1107.2 867.0h10v6.7h-10zM1115.2 874.8h10v6.7h-10zM1103.4 910.7h10v6.7h-10zM1341.9 917.3h10v6.7h-10zM1347.6 954.5h10v6.7h-10zM1363.9 888.3h10v6.7h-10zM1362.5 929.5h10v6.7h-10zM1348.7 893.0h10v6.7h-10zM1347.0 958.9h10v6.7h-10zM1361.5 960.2h10v6.7h-10zM1369.9 849.6h10v6.7h-10zM1340.4 963.3h10v6.7h-10zM1335.7 969.1h10v6.7h-10zM1338.7 951.9h10v6.7h-10zM1355.7 874.0h10v6.7h-10zM1366.0 903.3h10v6.7h-10zM1350.1 942.5h10v6.7h-10zM1354.4 878.7h10v6.7h-10zM1358.9 859.0h10v6.7h-10zM1348.2 976.3h10v6.7h-10zM1362.1 967.5h10v6.7h-10zM1337.3 976.8h10v6.7h-10zM1355.0 912.5h10v6.7h-10zM1360.6 879.3h10v6.7h-10zM1362.9 926.7h10v6.7h-10zM1369.1 915.6h10v6.7h-10zM1343.8 959.5h10v6.7h-10zM1335.0 908.9h10v6.7h-10zM1338.6 909.3h10v6.7h-10zM1358.1 958.7h10v6.7h-10zM1349.6 881.7h10v6.7h-10zM1360.9 881.3h10v6.7h-10zM1357.5 866.4h10v6.7h-10zM1359.8 946.1h10v6.7h-10zM1360.4 891.9h10v6.7h-10zM1357.6 886.9h10v6.7h-10zM1342.3 894.2h10v6.7h-10zM1353.7 869.2h10v6.7h-10zM1359.4 950.5h10v6.7h-10zM1367.4 898.9h10v6.7h-10zM1363.4 938.2h10v6.7h-10zM1336.5 914.2h10v6.7h-10zM1362.5 956.6h10v6.7h-10zM1369.8 966.7h10v6.7h-10zM1357.0 935.4h10v6.7h-10zM1364.5 858.0h10v6.7h-10zM1348.1 907.7h10v6.7h-10zM1341.3 883.5h10v6.7h-10zM1341.3 959.7h10v6.7h-10zM1342.6 878.9h10v6.7h-10zM1335.8 956.4h10v6.7h-10zM1360.4 976.8h10v6.7h-10zM1368.1 933.3h10v6.7h-10zM1163.9 932.8h10v6.7h-10zM1139.9 881.8h10v6.7h-10zM1160.9 933.7h10v6.7h-10zM1191.3 972.4h10v6.7h-10zM1151.2 920.4h10v6.7h-10zM1135.7 878.2h10v6.7h-10zM1342.0 877.1h10v6.7h-10zM1330.3 890.8h10v6.7h-10zM1306.1 933.1h10v6.7h-10zM1320.0 917.8h10v6.7h-10zM1311.4 933.5h10v6.7h-10zM1339.3 882.3h10v6.7h-10zM1217.0 994.6h10v6.7h-10zM1394.8 976.6h10v6.7h-10zM1402.7 994.2h10v6.7h-10zM1387.7 983.5h10v6.7h-10zM1419.8 998.5h10v6.7h-10zM1404.0 1001.2h10v6.7h-10zM1053.7 981.9h10v6.7h-10zM1395.2 993.7h10v6.7h-10zM1074.4 988.5h10v6.7h-10zM1069.8 973.0h10v6.7h-10zM1094.0 1000.9h10v6.7h-10zM1429.9 972.7h10v6.7h-10zM1424.4 990.4h10v6.7h-10zM1089.5 976.9h10v6.7h-10zM1373.8 973.3h10v6.7h-10zM1375.5 996.1h10v6.7h-10zM1068.6 1006.1h10v6.7h-10zM1082.3 973.8h10v6.7h-10zM1100.4 994.4h10v6.7h-10zM1091.2 992.0h10v6.7h-10zM1370.4 980.5h10v6.7h-10zM1430.8 983.1h10v6.7h-10zM1082.4 995.3h10v6.7h-10zM1085.3 971.1h10v6.7h-10zM1426.9 998.0h10v6.7h-10zM1403.3 992.4h10v6.7h-10zM1374.9 982.6h10v6.7h-10zM1407.5 1000.2h10v6.7h-10zM1104.8 974.1h10v6.7h-10zM1413.1 989.6h10v6.7h-10zM1082.7 977.0h10v6.7h-10zM1093.8 985.5h10v6.7h-10zM1089.3 1003.3h10v6.7h-10zM1062.6 986.1h10v6.7h-10zM1098.2 979.9h10v6.7h-10zM1044.4 973.9h10v6.7h-10zM1429.2 991.6h10v6.7h-10zM1407.4 999.0h10v6.7h-10zM1432.3 989.5h10v6.7h-10zM1105.0 975.2h10v6.7h-10zM1427.7 977.0h10v6.7h-10zM1100.8 990.0h10v6.7h-10zM1070.3 992.8h10v6.7h-10zM1414.9 971.3h10v6.7h-10zM1104.6 996.6h10v6.7h-10zM1051.3 973.0h10v6.7h-10zM1062.4 974.7h10v6.7h-10zM1041.0 989.0h10v6.7h-10zM1380.3 977.4h10v6.7h-10zM1390.0 978.0h10v6.7h-10zM1410.2 992.2h10v6.7h-10zM1381.0 978.0h10v6.7h-10zM1418.3 995.5h10v6.7h-10zM956.7 997.0h10v6.7h-10zM1029.8 995.0h10v6.7h-10zM925.8 994.7h10v6.7h-10zM1496.8 1003.3h10v6.7h-10zM1457.1 998.6h10v6.7h-10zM979.3 999.6h10v6.7h-10zM1567.9 991.3h10v6.7h-10zM1056.6 998.7h10v6.7h-10zM1425.7 997.7h10v6.7h-10zM1476.6 1000.6h10v6.7h-10zM1076.3 996.1h10v6.7h-10zM1069.8 1002.3h10v6.7h-10zM953.0 999.7h10v6.7h-10zM959.9 995.9h10v6.7h-10zM1439.7 1001.7h10v6.7h-10zM1409.7 995.8h10v6.7h-10zM1458.1 1001.1h10v6.7h-10zM1434.8 999.0h10v6.7h-10zM1070.7 1002.6h10v6.7h-10zM1001.5 996.7h10v6.7h-10zM1416.1 1001.6h10v6.7h-10zM1436.0 1003.8h10v6.7h-10zM1447.4 997.5h10v6.7h-10zM1055.6 999.5h10v6.7h-10zM1026.3 1005.0h10v6.7h-10zM1058.8 1000.9h10v6.7h-10zM1433.1 1000.5h10v6.7h-10zM1027.7 1004.3h10v6.7h-10zM1074.2 997.0h10v6.7h-10zM1028.3 1000.0h10v6.7h-10zM907.3 996.5h10v6.7h-10zM1397.8 1002.2h10v6.7h-10zM996.6 1003.6h10v6.7h-10zM1416.5 996.0h10v6.7h-10zM1003.0 999.2h10v6.7h-10zM1004.2 995.3h10v6.7h-10zM1054.8 994.6h10v6.7h-10zM1476.2 998.0h10v6.7h-10zM966.8 999.5h10v6.7h-10zM1516.3 992.9h10v6.7h-10zM1074.9 995.0h10v6.7h-10zM980.2 996.9h10v6.7h-10zM1412.0 1003.6h10v6.7h-10zM1061.8 1003.0h10v6.7h-10zM1476.8 997.9h10v6.7h-10zM1482.7 995.2h10v6.7h-10zM1401.2 999.2h10v6.7h-10zM1054.8 999.5h10v6.7h-10zM1053.3 975.8h10v6.7h-10zM1511.6 984.3h10v6.7h-10zM1407.3 972.5h10v6.7h-10zM1541.3 979.9h10v6.7h-10zM1460.5 1002.4h10v6.7h-10zM1498.9 986.7h10v6.7h-10zM1057.1 993.5h10v6.7h-10zM1470.9 987.7h10v6.7h-10zM1440.5 974.4h10v6.7h-10zM1009.4 1003.1h10v6.7h-10zM962.8 996.7h10v6.7h-10zM967.7 974.0h10v6.7h-10zM1059.8 978.0h10v6.7h-10zM1058.1 981.4h10v6.7h-10zM1035.3 979.3h10v6.7h-10zM1439.0 974.5h10v6.7h-10zM1032.1 1000.3h10v6.7h-10zM1459.3 999.2h10v6.7h-10zM1477.8 984.0h10v6.7h-10zM1428.8 995.9h10v6.7h-10zM1030.2 975.1h10v6.7h-10zM1436.8 983.9h10v6.7h-10zM1476.8 1001.6h10v6.7h-10zM1058.0 994.2h10v6.7h-10zM1448.7 994.2h10v6.7h-10zM1453.1 988.1h10v6.7h-10z"/><path d="M1111.8 958.9h10v6.7h-10zM1116.1 939.8h10v6.7h-10zM1139.0 923.2h10v6.7h-10zM1104.8 965.6h10v6.7h-10zM1110.4 953.1h10v6.7h-10zM1128.5 876.5h10v6.7h-10zM1138.2 981.5h10v6.7h-10zM1110.5 952.5h10v6.7h-10zM1121.1 972.9h10v6.7h-10zM1121.8 977.2h10v6.7h-10zM1105.3 854.3h10v6.7h-10zM1115.1 892.8h10v6.7h-10zM1127.1 975.6h10v6.7h-10zM1120.7 897.2h10v6.7h-10zM1120.9 889.8h10v6.7h-10zM1131.1 977.7h10v6.7h-10zM1118.9 936.9h10v6.7h-10zM1115.3 973.9h10v6.7h-10zM1123.0 948.7h10v6.7h-10zM1140.6 963.9h10v6.7h-10zM1110.5 947.8h10v6.7h-10zM1116.4 952.9h10v6.7h-10zM1139.5 940.4h10v6.7h-10zM1125.5 872.4h10v6.7h-10zM1135.3 887.6h10v6.7h-10zM1106.3 914.4h10v6.7h-10zM1114.2 849.6h10v6.7h-10zM1109.8 944.4h10v6.7h-10zM1118.0 950.7h10v6.7h-10zM1123.5 896.1h10v6.7h-10zM1134.0 906.7h10v6.7h-10zM1103.2 861.2h10v6.7h-10zM1114.3 965.9h10v6.7h-10zM1138.9 972.4h10v6.7h-10zM1119.0 930.1h10v6.7h-10zM1126.1 948.7h10v6.7h-10zM1123.8 970.9h10v6.7h-10zM1130.4 980.8h10v6.7h-10zM1136.1 973.6h10v6.7h-10zM1125.1 965.7h10v6.7h-10zM1129.3 883.3h10v6.7h-10zM1103.8 906.7h10v6.7h-10zM1136.2 961.3h10v6.7h-10zM1119.9 922.5h10v6.7h-10zM1113.5 971.8h10v6.7h-10zM1127.3 969.5h10v6.7h-10zM1130.5 941.7h10v6.7h-10zM1113.6 922.5h10v6.7h-10zM1138.0 955.3h10v6.7h-10zM1126.8 976.3h10v6.7h-10zM1123.9 879.6h10v6.7h-10zM1106.4 949.4h10v6.7h-10zM1124.9 882.7h10v6.7h-10zM1127.8 949.9h10v6.7h-10zM1337.6 892.5h10v6.7h-10zM1355.7 934.9h10v6.7h-10zM1356.7 927.4h10v6.7h-10zM1338.5 959.1h10v6.7h-10zM1355.9 962.4h10v6.7h-10zM1351.4 934.9h10v6.7h-10zM1347.1 878.8h10v6.7h-10zM1342.7 903.8h10v6.7h-10zM1353.6 974.4h10v6.7h-10zM1339.7 942.5h10v6.7h-10zM1363.3 865.9h10v6.7h-10zM1348.9 956.1h10v6.7h-10zM1341.4 967.5h10v6.7h-10zM1360.8 859.8h10v6.7h-10zM1354.3 887.0h10v6.7h-10zM1343.8 934.0h10v6.7h-10zM1336.3 921.0h10v6.7h-10zM1362.5 873.8h10v6.7h-10zM1362.1 978.8h10v6.7h-10zM1362.3 966.6h10v6.7h-10zM1366.5 862.0h10v6.7h-10zM1346.0 900.4h10v6.7h-10zM1366.3 865.9h10v6.7h-10zM1348.6 936.9h10v6.7h-10zM1347.2 907.0h10v6.7h-10zM1350.4 959.0h10v6.7h-10zM1362.9 921.7h10v6.7h-10zM1356.3 868.0h10v6.7h-10zM1355.7 953.7h10v6.7h-10zM1362.9 938.1h10v6.7h-10zM1347.8 941.3h10v6.7h-10zM1349.2 933.8h10v6.7h-10zM1344.3 980.9h10v6.7h-10zM1368.5 855.8h10v6.7h-10zM1365.8 945.5h10v6.7h-10zM1357.0 898.8h10v6.7h-10zM1357.9 895.8h10v6.7h-10zM1355.9 932.2h10v6.7h-10zM1364.4 956.3h10v6.7h-10zM1364.0 973.8h10v6.7h-10zM1343.1 958.5h10v6.7h-10zM1367.7 936.3h10v6.7h-10zM1342.6 894.2h10v6.7h-10zM1349.5 952.2h10v6.7h-10zM1347.2 980.1h10v6.7h-10zM1341.7 891.8h10v6.7h-10zM1350.4 915.3h10v6.7h-10zM1344.8 926.5h10v6.7h-10zM1346.6 968.6h10v6.7h-10zM1369.7 931.1h10v6.7h-10zM1138.9 890.4h10v6.7h-10zM1135.9 887.1h10v6.7h-10zM1170.3 945.9h10v6.7h-10zM1155.5 917.6h10v6.7h-10zM1152.1 924.8h10v6.7h-10zM1172.7 949.2h10v6.7h-10zM1336.2 887.9h10v6.7h-10zM1293.4 952.1h10v6.7h-10zM1332.4 892.1h10v6.7h-10zM1335.5 883.6h10v6.7h-10zM1317.3 917.2h10v6.7h-10zM1333.0 888.0h10v6.7h-10zM1257.0 992.6h10v6.7h-10zM1405.0 1006.1h10v6.7h-10zM1390.0 975.8h10v6.7h-10zM1398.2 973.8h10v6.7h-10zM1040.9 990.7h10v6.7h-10zM1419.9 991.1h10v6.7h-10zM1397.5 983.3h10v6.7h-10zM1393.0 1000.9h10v6.7h-10zM1425.9 993.8h10v6.7h-10zM1045.3 990.7h10v6.7h-10zM1415.6 1004.3h10v6.7h-10zM1085.1 992.8h10v6.7h-10zM1384.2 979.9h10v6.7h-10zM1398.7 1003.3h10v6.7h-10zM1061.2 979.4h10v6.7h-10zM1404.2 972.0h10v6.7h-10zM1426.4 985.1h10v6.7h-10zM1096.5 1000.7h10v6.7h-10zM1063.4 991.1h10v6.7h-10zM1373.1 981.5h10v6.7h-10zM1098.4 994.8h10v6.7h-10zM1404.4 999.3h10v6.7h-10zM1056.4 979.8h10v6.7h-10zM1377.7 996.3h10v6.7h-10zM1068.2 994.8h10v6.7h-10zM1374.2 997.0h10v6.7h-10zM1388.8 994.5h10v6.7h-10zM1085.3 986.5h10v6.7h-10zM1421.7 981.5h10v6.7h-10zM1397.2 999.3h10v6.7h-10zM1087.8 983.4h10v6.7h-10zM1074.7 986.9h10v6.7h-10zM1089.4 995.6h10v6.7h-10zM1405.0 997.6h10v6.7h-10zM1428.6 1005.5h10v6.7h-10zM1069.1 991.3h10v6.7h-10zM1049.3 1002.8h10v6.7h-10zM1409.8 977.1h10v6.7h-10zM1383.1 979.5h10v6.7h-10zM1105.8 971.6h10v6.7h-10zM1084.5 972.8h10v6.7h-10zM1398.8 991.5h10v6.7h-10zM1393.8 1002.7h10v6.7h-10zM1398.7 983.4h10v6.7h-10zM1428.6 1000.5h10v6.7h-10zM1412.1 981.6h10v6.7h-10zM1076.4 1005.3h10v6.7h-10zM1050.9 974.1h10v6.7h-10zM1100.0 970.9h10v6.7h-10zM1090.3 978.1h10v6.7h-10zM1379.9 971.1h10v6.7h-10zM1056.4 988.7h10v6.7h-10zM1419.7 997.0h10v6.7h-10zM1424.9 1003.6h10v6.7h-10zM1039.8 994.7h10v6.7h-10zM1680.9 987.2h10v6.7h-10zM1026.3 999.7h10v6.7h-10zM1408.0 1001.3h10v6.7h-10zM1009.3 1001.0h10v6.7h-10zM1071.4 998.7h10v6.7h-10zM960.0 1001.5h10v6.7h-10zM1079.5 997.4h10v6.7h-10zM1052.0 1003.9h10v6.7h-10zM1423.6 1003.5h10v6.7h-10zM916.4 998.2h10v6.7h-10zM1062.6 994.6h10v6.7h-10zM1496.8 998.5h10v6.7h-10zM1427.0 994.5h10v6.7h-10zM928.9 993.3h10v6.7h-10zM1606.7 989.8h10v6.7h-10zM1062.2 995.8h10v6.7h-10zM1048.9 1001.6h10v6.7h-10zM987.6 993.4h10v6.7h-10zM1025.1 1004.6h10v6.7h-10zM1523.7 994.3h10v6.7h-10zM965.3 999.8h10v6.7h-10zM1051.4 999.2h10v6.7h-10zM898.5 996.1h10v6.7h-10zM954.6 1001.0h10v6.7h-10zM1537.2 991.7h10v6.7h-10zM1439.6 1001.3h10v6.7h-10zM1474.4 1001.5h10v6.7h-10zM1417.6 995.1h10v6.7h-10zM1441.4 999.5h10v6.7h-10zM1664.8 987.5h10v6.7h-10zM1416.2 996.4h10v6.7h-10zM861.2 997.1h10v6.7h-10zM874.1 992.0h10v6.7h-10zM1012.3 1003.1h10v6.7h-10zM963.7 1000.0h10v6.7h-10zM1418.0 996.0h10v6.7h-10zM1603.9 999.5h10v6.7h-10zM1455.8 996.1h10v6.7h-10zM1562.8 1001.0h10v6.7h-10zM1072.6 1003.8h10v6.7h-10zM1449.4 994.7h10v6.7h-10zM1520.9 1000.4h10v6.7h-10zM995.0 998.8h10v6.7h-10zM1441.1 1000.8h10v6.7h-10zM1551.4 999.9h10v6.7h-10zM1050.9 995.3h10v6.7h-10zM1433.7 975.4h10v6.7h-10zM1413.2 975.5h10v6.7h-10zM1058.0 986.9h10v6.7h-10zM1458.0 985.0h10v6.7h-10zM1518.0 983.9h10v6.7h-10zM1414.8 984.2h10v6.7h-10zM1416.0 1001.4h10v6.7h-10zM1461.4 995.3h10v6.7h-10zM1434.4 1000.0h10v6.7h-10zM1027.0 970.8h10v6.7h-10zM1423.7 975.4h10v6.7h-10zM1541.0 998.2h10v6.7h-10zM996.0 986.1h10v6.7h-10zM1059.6 988.3h10v6.7h-10zM1557.0 998.8h10v6.7h-10zM1570.8 973.4h10v6.7h-10zM1062.1 983.9h10v6.7h-10zM1063.4 998.3h10v6.7h-10zM959.6 985.7h10v6.7h-10zM1475.9 978.8h10v6.7h-10zM1416.6 1004.4h10v6.7h-10zM1441.2 981.3h10v6.7h-10zM1454.2 978.6h10v6.7h-10zM1447.3 992.4h10v6.7h-10zM1021.0 975.2h10v6.7h-10zM1502.3 992.4h10v6.7h-10z"/><path d="M1137.1 937.8h10v6.7h-10zM1103.8 930.7h10v6.7h-10zM1105.4 972.9h10v6.7h-10zM1130.0 960.4h10v6.7h-10zM1119.2 851.6h10v6.7h-10zM1118.6 896.9h10v6.7h-10zM1110.2 867.0h10v6.7h-10zM1105.0 862.9h10v6.7h-10zM1113.1 969.1h10v6.7h-10zM1123.2 929.9h10v6.7h-10zM1122.0 927.5h10v6.7h-10zM1140.3 920.3h10v6.7h-10zM1136.6 962.8h10v6.7h-10zM1108.6 932.4h10v6.7h-10zM1125.3 913.4h10v6.7h-10zM1113.1 878.3h10v6.7h-10zM1136.2 960.1h10v6.7h-10zM1134.8 966.2h10v6.7h-10zM1112.3 867.3h10v6.7h-10zM1119.0 970.7h10v6.7h-10zM1124.0 928.1h10v6.7h-10zM1111.3 881.0h10v6.7h-10zM1139.1 927.8h10v6.7h-10zM1112.3 909.1h10v6.7h-10zM1111.6 928.9h10v6.7h-10zM1130.0 882.4h10v6.7h-10zM1116.4 947.3h10v6.7h-10zM1124.7 965.8h10v6.7h-10zM1134.5 956.3h10v6.7h-10zM1127.2 978.7h10v6.7h-10zM1131.9 934.1h10v6.7h-10zM1131.5 980.9h10v6.7h-10zM1123.7 883.9h10v6.7h-10zM1122.0 927.6h10v6.7h-10zM1119.7 907.4h10v6.7h-10zM1124.7 901.4h10v6.7h-10zM1125.6 870.1h10v6.7h-10zM1124.0 868.0h10v6.7h-10zM1126.2 880.8h10v6.7h-10zM1103.6 870.4h10v6.7h-10zM1117.9 949.0h10v6.7h-10zM1140.5 923.3h10v6.7h-10zM1128.9 975.7h10v6.7h-10zM1114.5 936.5h10v6.7h-10zM1103.9 895.5h10v6.7h-10zM1111.1 974.2h10v6.7h-10zM1106.6 906.0h10v6.7h-10zM1138.8 931.1h10v6.7h-10zM1103.9 879.7h10v6.7h-10zM1111.8 890.3h10v6.7h-10zM1120.2 939.8h10v6.7h-10zM1137.9 907.5h10v6.7h-10zM1124.8 877.1h10v6.7h-10zM1123.9 933.6h10v6.7h-10zM1362.0 967.3h10v6.7h-10zM1344.9 951.0h10v6.7h-10zM1366.1 965.8h10v6.7h-10zM1346.6 951.3h10v6.7h-10zM1334.6 916.6h10v6.7h-10zM1361.0 972.7h10v6.7h-10zM1365.5 870.6h10v6.7h-10zM1342.4 909.0h10v6.7h-10zM1355.3 864.5h10v6.7h-10zM1353.8 974.6h10v6.7h-10zM1366.7 862.0h10v6.7h-10zM1337.2 951.2h10v6.7h-10zM1334.2 974.8h10v6.7h-10zM1360.4 874.8h10v6.7h-10zM1346.6 932.7h10v6.7h-10zM1336.1 971.7h10v6.7h-10zM1360.1 899.5h10v6.7h-10zM1339.0 913.8h10v6.7h-10zM1364.0 900.6h10v6.7h-10zM1364.2 848.7h10v6.7h-10zM1344.2 890.3h10v6.7h-10zM1357.7 875.5h10v6.7h-10zM1353.6 951.6h10v6.7h-10zM1357.0 979.7h10v6.7h-10zM1368.6 978.7h10v6.7h-10zM1357.8 938.5h10v6.7h-10zM1350.2 877.5h10v6.7h-10zM1364.5 932.2h10v6.7h-10zM1335.5 903.9h10v6.7h-10zM1366.6 861.4h10v6.7h-10zM1354.8 933.3h10v6.7h-10zM1359.2 892.4h10v6.7h-10zM1353.1 862.7h10v6.7h-10zM1368.0 954.3h10v6.7h-10zM1356.7 930.2h10v6.7h-10zM1350.5 952.5h10v6.7h-10zM1356.6 975.4h10v6.7h-10zM1362.6 942.4h10v6.7h-10zM1336.8 967.8h10v6.7h-10zM1334.1 955.0h10v6.7h-10zM1348.3 900.3h10v6.7h-10zM1366.8 921.1h10v6.7h-10zM1356.8 978.5h10v6.7h-10zM1336.5 956.1h10v6.7h-10zM1354.1 948.4h10v6.7h-10zM1346.5 918.2h10v6.7h-10zM1353.5 975.9h10v6.7h-10zM1357.5 893.6h10v6.7h-10zM1339.7 972.8h10v6.7h-10zM1341.0 945.2h10v6.7h-10zM1143.2 888.7h10v6.7h-10zM1145.7 905.6h10v6.7h-10zM1144.0 900.3h10v6.7h-10zM1186.2 966.7h10v6.7h-10zM1168.5 944.2h10v6.7h-10zM1134.3 883.7h10v6.7h-10zM1306.9 934.1h10v6.7h-10zM1332.5 894.8h10v6.7h-10zM1307.5 937.9h10v6.7h-10zM1315.8 923.8h10v6.7h-10zM1330.3 899.5h10v6.7h-10zM1295.5 955.0h10v6.7h-10zM1042.2 1002.2h10v6.7h-10zM1407.1 973.8h10v6.7h-10zM1424.9 1001.4h10v6.7h-10zM1387.8 974.7h10v6.7h-10zM1059.4 972.7h10v6.7h-10zM1088.9 996.4h10v6.7h-10zM1083.8 978.6h10v6.7h-10zM1404.8 1006.2h10v6.7h-10zM1045.0 983.2h10v6.7h-10zM1056.9 975.3h10v6.7h-10zM1061.3 1005.2h10v6.7h-10zM1426.5 977.7h10v6.7h-10zM1373.8 988.5h10v6.7h-10zM1047.4 1005.2h10v6.7h-10zM1397.7 976.6h10v6.7h-10zM1391.1 972.0h10v6.7h-10zM1104.9 999.1h10v6.7h-10zM1067.3 977.4h10v6.7h-10zM1072.3 972.4h10v6.7h-10zM1389.3 996.8h10v6.7h-10zM1067.7 980.2h10v6.7h-10zM1074.2 994.2h10v6.7h-10zM1382.7 978.0h10v6.7h-10zM1423.2 994.4h10v6.7h-10zM1388.7 983.1h10v6.7h-10zM1077.0 970.4h10v6.7h-10zM1389.5 991.3h10v6.7h-10zM1074.2 984.1h10v6.7h-10zM1423.8 999.1h10v6.7h-10zM1385.8 979.4h10v6.7h-10zM1081.2 985.4h10v6.7h-10zM1072.9 976.1h10v6.7h-10zM1391.7 977.8h10v6.7h-10zM1049.2 1003.6h10v6.7h-10zM1081.7 999.9h10v6.7h-10zM1076.7 973.2h10v6.7h-10zM1412.8 985.1h10v6.7h-10zM1100.6 975.1h10v6.7h-10zM1428.8 976.2h10v6.7h-10zM1089.3 1005.6h10v6.7h-10zM1374.1 994.4h10v6.7h-10zM1394.5 975.6h10v6.7h-10zM1053.5 984.7h10v6.7h-10zM1059.7 972.1h10v6.7h-10zM1393.4 986.6h10v6.7h-10zM1068.7 996.4h10v6.7h-10zM1383.2 977.8h10v6.7h-10zM1375.5 983.3h10v6.7h-10zM1391.9 991.4h10v6.7h-10zM1070.6 987.1h10v6.7h-10zM1071.0 983.3h10v6.7h-10zM1055.4 998.5h10v6.7h-10zM1458.2 1002.3h10v6.7h-10zM1467.1 1003.7h10v6.7h-10zM813.5 988.5h10v6.7h-10zM1400.3 997.4h10v6.7h-10zM1023.3 996.4h10v6.7h-10zM951.5 992.4h10v6.7h-10zM1394.8 995.6h10v6.7h-10zM1416.1 995.0h10v6.7h-10zM1034.3 995.2h10v6.7h-10zM1074.0 1002.2h10v6.7h-10zM1522.1 992.4h10v6.7h-10zM960.1 1001.8h10v6.7h-10zM1454.2 1003.9h10v6.7h-10zM1523.9 997.1h10v6.7h-10zM1429.1 995.5h10v6.7h-10zM977.8 994.9h10v6.7h-10zM1408.7 1002.1h10v6.7h-10zM1056.4 996.2h10v6.7h-10zM1019.2 998.8h10v6.7h-10zM1407.5 1000.7h10v6.7h-10zM1612.8 995.0h10v6.7h-10zM1005.8 996.1h10v6.7h-10zM1069.5 1004.9h10v6.7h-10zM1500.6 996.1h10v6.7h-10zM1582.2 994.6h10v6.7h-10zM945.1 993.1h10v6.7h-10zM1419.1 998.1h10v6.7h-10zM1454.3 997.3h10v6.7h-10zM1020.4 1000.8h10v6.7h-10zM1429.7 1002.1h10v6.7h-10zM1449.4 998.5h10v6.7h-10zM1409.7 1002.0h10v6.7h-10zM1404.0 996.5h10v6.7h-10zM1428.2 994.6h10v6.7h-10zM1471.9 1004.4h10v6.7h-10zM1396.0 997.5h10v6.7h-10zM1067.0 1000.0h10v6.7h-10zM1445.8 995.7h10v6.7h-10zM968.6 994.5h10v6.7h-10zM1545.6 1001.3h10v6.7h-10zM1001.8 997.4h10v6.7h-10zM1067.2 1002.2h10v6.7h-10zM1409.5 1003.1h10v6.7h-10zM1556.3 991.5h10v6.7h-10zM1396.1 1004.1h10v6.7h-10zM1642.4 993.5h10v6.7h-10zM1477.0 998.6h10v6.7h-10zM1522.7 997.7h10v6.7h-10zM1058.8 998.6h10v6.7h-10zM1033.7 971.8h10v6.7h-10zM1478.6 996.2h10v6.7h-10zM1486.6 994.3h10v6.7h-10zM1407.2 989.6h10v6.7h-10zM1036.7 1000.6h10v6.7h-10zM958.7 980.9h10v6.7h-10zM1558.7 1000.3h10v6.7h-10zM1423.9 1004.9h10v6.7h-10zM1027.9 992.8h10v6.7h-10zM1471.1 1002.0h10v6.7h-10zM1054.5 979.7h10v6.7h-10zM968.4 977.4h10v6.7h-10zM1445.7 981.7h10v6.7h-10zM1063.0 998.7h10v6.7h-10zM1620.7 981.5h10v6.7h-10zM1449.4 996.5h10v6.7h-10zM1424.3 982.8h10v6.7h-10zM1417.4 995.7h10v6.7h-10zM987.1 971.9h10v6.7h-10zM1025.3 989.3h10v6.7h-10zM1459.9 997.1h10v6.7h-10zM1033.4 986.7h10v6.7h-10zM1035.4 975.4h10v6.7h-10zM821.2 970.8h10v6.7h-10zM1446.1 977.0h10v6.7h-10zM1032.7 981.5h10v6.7h-10z"/><path d="M1122.8 970.4h10v6.7h-10zM1119.9 850.8h10v6.7h-10zM1118.1 939.9h10v6.7h-10zM1140.4 945.4h10v6.7h-10zM1135.6 889.7h10v6.7h-10zM1111.2 878.5h10v6.7h-10zM1105.2 971.5h10v6.7h-10zM1121.8 941.1h10v6.7h-10zM1130.0 883.9h10v6.7h-10zM1103.8 932.8h10v6.7h-10zM1107.6 898.9h10v6.7h-10zM1137.7 962.3h10v6.7h-10zM1104.3 970.4h10v6.7h-10zM1106.6 872.5h10v6.7h-10zM1107.6 842.9h10v6.7h-10zM1128.7 909.3h10v6.7h-10zM1117.4 941.0h10v6.7h-10zM1110.8 977.7h10v6.7h-10zM1124.3 915.8h10v6.7h-10zM1111.8 878.7h10v6.7h-10zM1127.5 896.8h10v6.7h-10zM1125.6 867.4h10v6.7h-10zM1117.2 893.2h10v6.7h-10zM1112.3 884.8h10v6.7h-10zM1108.0 922.5h10v6.7h-10zM1128.2 904.9h10v6.7h-10zM1128.0 917.3h10v6.7h-10zM1112.7 953.0h10v6.7h-10zM1106.4 899.1h10v6.7h-10zM1112.5 933.6h10v6.7h-10zM1123.8 881.0h10v6.7h-10zM1119.8 864.0h10v6.7h-10zM1138.2 966.5h10v6.7h-10zM1112.1 878.9h10v6.7h-10zM1134.4 947.5h10v6.7h-10zM1121.3 977.1h10v6.7h-10zM1106.5 894.9h10v6.7h-10zM1109.5 914.6h10v6.7h-10zM1132.0 907.8h10v6.7h-10zM1123.9 869.7h10v6.7h-10zM1109.0 925.4h10v6.7h-10zM1105.7 854.3h10v6.7h-10zM1132.0 902.4h10v6.7h-10zM1105.1 880.9h10v6.7h-10zM1111.3 880.1h10v6.7h-10zM1131.5 905.7h10v6.7h-10zM1107.3 878.6h10v6.7h-10zM1103.3 874.0h10v6.7h-10zM1112.2 959.5h10v6.7h-10zM1119.3 896.2h10v6.7h-10zM1136.5 937.7h10v6.7h-10zM1136.5 953.0h10v6.7h-10zM1107.3 928.4h10v6.7h-10zM1140.3 950.2h10v6.7h-10zM1334.8 973.4h10v6.7h-10zM1353.1 946.0h10v6.7h-10zM1334.6 969.6h10v6.7h-10zM1341.8 934.3h10v6.7h-10zM1346.6 925.3h10v6.7h-10zM1362.9 857.3h10v6.7h-10zM1344.8 875.7h10v6.7h-10zM1353.6 968.8h10v6.7h-10zM1348.1 935.7h10v6.7h-10zM1351.4 963.2h10v6.7h-10zM1341.6 906.4h10v6.7h-10zM1337.5 965.9h10v6.7h-10zM1368.8 942.8h10v6.7h-10zM1357.0 881.4h10v6.7h-10zM1348.2 892.4h10v6.7h-10zM1341.7 940.6h10v6.7h-10zM1338.6 951.2h10v6.7h-10zM1357.9 978.6h10v6.7h-10zM1340.3 897.7h10v6.7h-10zM1356.2 854.1h10v6.7h-10zM1346.4 977.9h10v6.7h-10zM1352.0 969.1h10v6.7h-10zM1360.8 925.9h10v6.7h-10zM1358.0 963.6h10v6.7h-10zM1345.3 890.7h10v6.7h-10zM1343.2 958.5h10v6.7h-10zM1368.8 947.6h10v6.7h-10zM1354.4 950.0h10v6.7h-10zM1363.5 943.3h10v6.7h-10zM1347.9 877.4h10v6.7h-10zM1365.1 896.8h10v6.7h-10zM1343.2 892.3h10v6.7h-10zM1366.3 914.6h10v6.7h-10zM1349.2 979.9h10v6.7h-10zM1342.0 893.7h10v6.7h-10zM1367.1 883.1h10v6.7h-10zM1342.7 974.4h10v6.7h-10zM1346.5 870.7h10v6.7h-10zM1344.2 916.1h10v6.7h-10zM1364.4 951.4h10v6.7h-10zM1357.2 855.7h10v6.7h-10zM1368.8 952.3h10v6.7h-10zM1357.3 942.0h10v6.7h-10zM1345.7 975.5h10v6.7h-10zM1335.4 896.3h10v6.7h-10zM1350.5 947.3h10v6.7h-10zM1351.3 869.3h10v6.7h-10zM1337.4 915.3h10v6.7h-10zM1355.1 896.9h10v6.7h-10zM1340.5 966.4h10v6.7h-10zM1138.6 891.6h10v6.7h-10zM1196.7 973.3h10v6.7h-10zM1160.3 929.0h10v6.7h-10zM1174.0 950.2h10v6.7h-10zM1153.8 913.6h10v6.7h-10zM1143.6 894.0h10v6.7h-10zM1325.9 897.9h10v6.7h-10zM1305.3 938.0h10v6.7h-10zM1335.5 887.4h10v6.7h-10zM1302.2 943.3h10v6.7h-10zM1276.8 969.8h10v6.7h-10zM1330.8 889.0h10v6.7h-10zM1415.8 974.1h10v6.7h-10zM1388.8 975.6h10v6.7h-10zM1416.1 981.9h10v6.7h-10zM1374.3 985.1h10v6.7h-10zM1387.1 994.5h10v6.7h-10zM1072.2 989.5h10v6.7h-10zM1092.8 1000.6h10v6.7h-10zM1415.0 993.6h10v6.7h-10zM1389.2 992.4h10v6.7h-10zM1373.5 974.8h10v6.7h-10zM1054.1 985.6h10v6.7h-10zM1421.1 970.5h10v6.7h-10zM1091.8 982.7h10v6.7h-10zM1398.1 980.4h10v6.7h-10zM1427.8 1000.6h10v6.7h-10zM1402.9 975.1h10v6.7h-10zM1421.8 1002.8h10v6.7h-10zM1400.3 985.6h10v6.7h-10zM1095.7 995.4h10v6.7h-10zM1382.0 991.9h10v6.7h-10zM1412.9 993.1h10v6.7h-10zM1072.4 985.1h10v6.7h-10zM1411.6 983.4h10v6.7h-10zM1047.5 990.9h10v6.7h-10zM1072.4 1002.0h10v6.7h-10zM1075.6 998.7h10v6.7h-10zM1082.2 991.9h10v6.7h-10zM1387.6 981.8h10v6.7h-10zM1083.6 1005.5h10v6.7h-10zM1089.6 981.2h10v6.7h-10zM1396.0 1006.4h10v6.7h-10zM1045.0 999.2h10v6.7h-10zM1098.3 998.3h10v6.7h-10zM1048.2 970.9h10v6.7h-10zM1073.0 991.4h10v6.7h-10zM1067.5 980.7h10v6.7h-10zM1087.6 988.4h10v6.7h-10zM1088.9 984.1h10v6.7h-10zM1088.3 977.9h10v6.7h-10zM1413.8 985.3h10v6.7h-10zM1428.3 983.0h10v6.7h-10zM1067.5 997.8h10v6.7h-10zM1406.6 974.8h10v6.7h-10zM1084.8 974.6h10v6.7h-10zM1101.6 994.5h10v6.7h-10zM1402.9 1001.5h10v6.7h-10zM1418.7 987.1h10v6.7h-10zM1045.4 982.5h10v6.7h-10zM1425.6 972.1h10v6.7h-10zM1371.7 982.2h10v6.7h-10zM1389.3 998.1h10v6.7h-10zM1367.4 997.0h10v6.7h-10zM833.6 998.7h10v6.7h-10zM1564.7 1001.1h10v6.7h-10zM1017.7 994.9h10v6.7h-10zM1466.6 1004.7h10v6.7h-10zM915.7 997.1h10v6.7h-10zM1412.1 1003.9h10v6.7h-10zM1053.2 1000.0h10v6.7h-10zM1069.5 1002.6h10v6.7h-10zM1062.9 1003.6h10v6.7h-10zM943.8 996.7h10v6.7h-10zM989.8 1001.2h10v6.7h-10zM930.2 994.7h10v6.7h-10zM1518.1 994.5h10v6.7h-10zM1454.4 1000.6h10v6.7h-10zM1440.6 999.0h10v6.7h-10zM1069.3 1001.3h10v6.7h-10zM1070.4 1005.0h10v6.7h-10zM1037.4 994.9h10v6.7h-10zM879.4 995.7h10v6.7h-10zM1048.9 996.4h10v6.7h-10zM921.6 999.7h10v6.7h-10zM1512.1 999.0h10v6.7h-10zM1538.6 993.4h10v6.7h-10zM1422.6 995.9h10v6.7h-10zM1010.6 996.5h10v6.7h-10zM1025.1 999.0h10v6.7h-10zM1451.9 995.8h10v6.7h-10zM1644.8 988.2h10v6.7h-10zM1395.0 999.0h10v6.7h-10zM1059.9 1002.1h10v6.7h-10zM838.3 992.6h10v6.7h-10zM1078.7 998.4h10v6.7h-10zM1443.8 994.3h10v6.7h-10zM1415.0 998.9h10v6.7h-10zM990.4 1000.6h10v6.7h-10zM996.7 999.1h10v6.7h-10zM1477.4 997.5h10v6.7h-10zM1397.4 997.5h10v6.7h-10zM1038.1 1001.1h10v6.7h-10zM998.1 1000.3h10v6.7h-10zM1426.0 1001.5h10v6.7h-10zM969.1 998.8h10v6.7h-10zM1046.9 995.2h10v6.7h-10zM1395.5 1003.6h10v6.7h-10zM1025.7 1003.8h10v6.7h-10zM1076.3 996.0h10v6.7h-10zM1077.1 1004.9h10v6.7h-10zM1409.8 1001.4h10v6.7h-10zM1022.0 998.1h10v6.7h-10zM843.0 993.3h10v6.7h-10zM1444.1 979.9h10v6.7h-10zM1476.7 1002.0h10v6.7h-10zM1050.0 988.7h10v6.7h-10zM969.7 984.7h10v6.7h-10zM1453.5 995.7h10v6.7h-10zM933.1 981.4h10v6.7h-10zM919.5 979.0h10v6.7h-10zM1500.4 973.7h10v6.7h-10zM1505.6 976.4h10v6.7h-10zM1451.8 996.1h10v6.7h-10zM1419.9 971.5h10v6.7h-10zM1412.4 987.3h10v6.7h-10zM1464.3 971.5h10v6.7h-10zM1610.1 986.5h10v6.7h-10zM1039.7 976.1h10v6.7h-10zM1407.6 980.1h10v6.7h-10zM1037.1 972.6h10v6.7h-10zM1454.5 1000.2h10v6.7h-10zM1438.5 977.9h10v6.7h-10zM1406.9 1003.8h10v6.7h-10zM935.3 993.7h10v6.7h-10zM1482.2 1004.1h10v6.7h-10zM1480.8 999.8h10v6.7h-10zM1507.9 980.0h10v6.7h-10zM1571.7 972.0h10v6.7h-10z"/><path d="M1125.4 925.5h10v6.7h-10zM1121.5 968.5h10v6.7h-10zM1128.9 871.7h10v6.7h-10zM1105.9 857.2h10v6.7h-10zM1136.8 968.6h10v6.7h-10zM1115.7 965.9h10v6.7h-10zM1114.2 954.1h10v6.7h-10zM1110.8 898.0h10v6.7h-10zM1109.2 911.3h10v6.7h-10zM1111.5 978.5h10v6.7h-10zM1108.2 916.4h10v6.7h-10zM1135.2 963.4h10v6.7h-10zM1113.1 944.8h10v6.7h-10zM1118.4 900.9h10v6.7h-10zM1112.1 968.1h10v6.7h-10zM1135.3 942.0h10v6.7h-10zM1120.4 922.4h10v6.7h-10zM1137.6 919.1h10v6.7h-10zM1136.4 937.1h10v6.7h-10zM1122.2 929.7h10v6.7h-10zM1140.9 932.1h10v6.7h-10zM1116.3 938.1h10v6.7h-10zM1111.4 953.2h10v6.7h-10zM1104.3 892.3h10v6.7h-10zM1112.9 951.9h10v6.7h-10zM1117.6 869.4h10v6.7h-10zM1112.4 951.2h10v6.7h-10zM1129.0 920.2h10v6.7h-10zM1119.1 976.5h10v6.7h-10zM1110.4 858.1h10v6.7h-10zM1120.5 940.0h10v6.7h-10zM1124.4 979.8h10v6.7h-10zM1127.4 880.8h10v6.7h-10zM1106.0 937.9h10v6.7h-10zM1109.2 972.3h10v6.7h-10zM1114.4 945.5h10v6.7h-10zM1112.6 932.0h10v6.7h-10zM1124.4 977.8h10v6.7h-10zM1134.4 949.1h10v6.7h-10zM1120.9 883.8h10v6.7h-10zM1117.9 966.4h10v6.7h-10zM1113.4 948.1h10v6.7h-10zM1122.3 955.5h10v6.7h-10zM1114.7 902.1h10v6.7h-10zM1111.3 951.7h10v6.7h-10zM1118.4 945.6h10v6.7h-10zM1106.4 958.4h10v6.7h-10zM1127.9 925.4h10v6.7h-10zM1122.0 980.0h10v6.7h-10zM1110.2 891.4h10v6.7h-10zM1133.2 887.9h10v6.7h-10zM1104.3 979.7h10v6.7h-10zM1121.9 909.4h10v6.7h-10zM1130.3 969.3h10v6.7h-10zM1345.0 952.7h10v6.7h-10zM1355.7 896.3h10v6.7h-10zM1363.8 917.9h10v6.7h-10zM1345.6 916.5h10v6.7h-10zM1343.9 954.6h10v6.7h-10zM1350.1 927.6h10v6.7h-10zM1353.9 958.6h10v6.7h-10zM1348.5 933.2h10v6.7h-10zM1345.0 939.2h10v6.7h-10zM1358.0 950.6h10v6.7h-10zM1344.8 941.0h10v6.7h-10zM1369.9 974.7h10v6.7h-10zM1367.9 913.2h10v6.7h-10zM1346.9 914.3h10v6.7h-10zM1337.7 893.3h10v6.7h-10zM1362.0 942.4h10v6.7h-10zM1338.2 913.2h10v6.7h-10zM1338.0 957.8h10v6.7h-10zM1341.8 927.1h10v6.7h-10zM1348.5 964.3h10v6.7h-10zM1365.9 896.5h10v6.7h-10zM1367.4 917.3h10v6.7h-10zM1360.0 971.8h10v6.7h-10zM1368.6 917.8h10v6.7h-10zM1340.3 976.6h10v6.7h-10zM1366.9 915.5h10v6.7h-10zM1358.6 946.5h10v6.7h-10zM1354.2 920.6h10v6.7h-10zM1340.9 903.6h10v6.7h-10zM1345.6 946.1h10v6.7h-10zM1362.8 981.3h10v6.7h-10zM1358.9 938.7h10v6.7h-10zM1349.8 963.6h10v6.7h-10zM1347.2 956.5h10v6.7h-10zM1347.2 973.1h10v6.7h-10zM1335.3 942.8h10v6.7h-10zM1337.9 885.2h10v6.7h-10zM1343.8 937.0h10v6.7h-10zM1338.5 959.5h10v6.7h-10zM1365.5 923.9h10v6.7h-10zM1367.1 971.3h10v6.7h-10zM1349.3 873.2h10v6.7h-10zM1358.7 942.7h10v6.7h-10zM1334.1 966.2h10v6.7h-10zM1367.8 853.5h10v6.7h-10zM1334.9 969.8h10v6.7h-10zM1353.8 957.7h10v6.7h-10zM1350.8 980.2h10v6.7h-10zM1336.0 972.7h10v6.7h-10zM1349.9 981.6h10v6.7h-10zM1159.5 928.9h10v6.7h-10zM1152.9 918.7h10v6.7h-10zM1139.6 884.0h10v6.7h-10zM1171.9 943.0h10v6.7h-10zM1179.5 953.3h10v6.7h-10zM1133.1 877.0h10v6.7h-10zM1302.5 944.5h10v6.7h-10zM1336.7 885.5h10v6.7h-10zM1295.7 948.8h10v6.7h-10zM1300.5 949.2h10v6.7h-10zM1335.3 884.5h10v6.7h-10zM1320.8 914.2h10v6.7h-10zM1398.3 971.7h10v6.7h-10zM1088.4 993.2h10v6.7h-10zM1370.5 974.9h10v6.7h-10zM1071.9 988.9h10v6.7h-10zM1379.6 986.6h10v6.7h-10zM1367.8 994.1h10v6.7h-10zM1065.4 995.4h10v6.7h-10zM1045.6 991.9h10v6.7h-10zM1054.4 997.0h10v6.7h-10zM1066.8 971.0h10v6.7h-10zM1048.2 984.6h10v6.7h-10zM1085.0 979.0h10v6.7h-10zM1391.6 973.1h10v6.7h-10zM1083.4 972.6h10v6.7h-10zM1069.6 991.7h10v6.7h-10zM1082.2 984.5h10v6.7h-10zM1384.9 974.5h10v6.7h-10zM1078.8 986.7h10v6.7h-10zM1046.3 980.8h10v6.7h-10zM1077.6 1000.8h10v6.7h-10zM1087.7 970.9h10v6.7h-10zM1385.5 988.2h10v6.7h-10zM1088.0 1004.2h10v6.7h-10zM1055.3 992.9h10v6.7h-10zM1085.4 991.3h10v6.7h-10zM1099.7 1003.1h10v6.7h-10zM1062.5 982.3h10v6.7h-10zM1407.7 978.1h10v6.7h-10zM1371.7 1003.8h10v6.7h-10zM1382.1 998.6h10v6.7h-10zM1384.0 976.3h10v6.7h-10zM1417.6 985.8h10v6.7h-10zM1388.9 1002.5h10v6.7h-10zM1408.4 983.5h10v6.7h-10zM1401.6 995.6h10v6.7h-10zM1045.4 1002.5h10v6.7h-10zM1396.0 996.2h10v6.7h-10zM1075.5 980.5h10v6.7h-10zM1387.8 993.1h10v6.7h-10zM1383.5 996.0h10v6.7h-10zM1044.5 978.2h10v6.7h-10zM1399.5 992.1h10v6.7h-10zM1417.0 1004.8h10v6.7h-10zM1419.1 1005.3h10v6.7h-10zM1376.2 995.4h10v6.7h-10zM1425.6 997.7h10v6.7h-10zM1097.5 992.5h10v6.7h-10zM1072.1 996.0h10v6.7h-10zM1081.9 1002.6h10v6.7h-10zM1392.3 973.1h10v6.7h-10zM1368.2 990.3h10v6.7h-10zM1055.8 983.3h10v6.7h-10zM1049.3 1002.9h10v6.7h-10zM1414.9 999.3h10v6.7h-10zM1541.8 993.9h10v6.7h-10zM1438.9 998.6h10v6.7h-10zM1415.0 1000.1h10v6.7h-10zM1500.9 996.6h10v6.7h-10zM1398.3 995.4h10v6.7h-10zM1012.9 1001.5h10v6.7h-10zM1425.3 1000.8h10v6.7h-10zM1057.2 1001.9h10v6.7h-10zM1072.5 994.4h10v6.7h-10zM988.6 995.6h10v6.7h-10zM1423.5 1003.5h10v6.7h-10zM1072.2 995.1h10v6.7h-10zM1020.5 994.7h10v6.7h-10zM1436.7 994.4h10v6.7h-10zM1045.9 998.6h10v6.7h-10zM1043.7 998.8h10v6.7h-10zM1038.0 998.7h10v6.7h-10zM1071.2 998.3h10v6.7h-10zM1074.3 1001.7h10v6.7h-10zM1436.5 1000.3h10v6.7h-10zM1058.7 995.8h10v6.7h-10zM1460.4 1000.6h10v6.7h-10zM1393.6 994.5h10v6.7h-10zM1423.8 998.4h10v6.7h-10zM1061.2 999.3h10v6.7h-10zM1060.5 998.9h10v6.7h-10zM1053.7 1001.2h10v6.7h-10zM1403.2 1002.8h10v6.7h-10zM918.4 1000.0h10v6.7h-10zM1502.5 999.0h10v6.7h-10zM1069.8 1002.7h10v6.7h-10zM1429.6 1000.3h10v6.7h-10zM989.5 1002.5h10v6.7h-10zM1440.7 996.0h10v6.7h-10zM1508.3 1002.6h10v6.7h-10zM1445.2 997.9h10v6.7h-10zM916.1 994.3h10v6.7h-10zM1467.2 999.1h10v6.7h-10zM1512.9 1000.1h10v6.7h-10zM1039.2 999.4h10v6.7h-10zM1057.5 1003.1h10v6.7h-10zM1556.0 995.1h10v6.7h-10zM1615.0 995.5h10v6.7h-10zM1060.5 1000.7h10v6.7h-10zM1071.6 996.0h10v6.7h-10zM977.8 999.0h10v6.7h-10zM1463.9 994.2h10v6.7h-10zM1509.9 998.0h10v6.7h-10zM1417.5 994.5h10v6.7h-10zM1562.0 992.0h10v6.7h-10zM1045.4 976.3h10v6.7h-10zM1046.7 988.5h10v6.7h-10zM1443.0 989.1h10v6.7h-10zM943.2 1000.0h10v6.7h-10zM1457.7 984.7h10v6.7h-10zM962.0 997.5h10v6.7h-10zM1052.3 996.6h10v6.7h-10zM975.3 980.8h10v6.7h-10zM990.4 992.5h10v6.7h-10zM1415.6 973.9h10v6.7h-10zM1058.0 986.2h10v6.7h-10zM1409.2 977.8h10v6.7h-10zM993.7 992.8h10v6.7h-10zM1018.6 990.3h10v6.7h-10zM1426.2 994.2h10v6.7h-10zM1447.3 975.8h10v6.7h-10zM1041.1 980.2h10v6.7h-10zM1562.7 999.3h10v6.7h-10zM1030.7 982.3h10v6.7h-10zM1024.1 989.2h10v6.7h-10zM911.9 973.8h10v6.7h-10zM1587.6 971.6h10v6.7h-10zM1032.0 992.8h10v6.7h-10z"/><path d="M1109.3 884.5h10v6.7h-10zM1112.9 936.3h10v6.7h-10zM1124.1 895.5h10v6.7h-10zM1138.7 957.1h10v6.7h-10zM1115.9 875.6h10v6.7h-10zM1118.3 880.7h10v6.7h-10zM1103.6 979.6h10v6.7h-10zM1129.9 941.5h10v6.7h-10zM1125.6 911.8h10v6.7h-10zM1106.3 883.3h10v6.7h-10zM1135.7 939.2h10v6.7h-10zM1113.3 856.6h10v6.7h-10zM1113.4 948.9h10v6.7h-10zM1112.2 900.1h10v6.7h-10zM1121.7 935.1h10v6.7h-10zM1122.7 964.0h10v6.7h-10zM1114.1 953.7h10v6.7h-10zM1103.6 842.3h10v6.7h-10zM1121.5 978.2h10v6.7h-10zM1108.9 884.3h10v6.7h-10zM1118.6 937.2h10v6.7h-10zM1117.7 922.1h10v6.7h-10zM1136.3 903.2h10v6.7h-10zM1116.0 947.3h10v6.7h-10zM1125.3 971.9h10v6.7h-10zM1122.0 910.5h10v6.7h-10zM1116.4 966.6h10v6.7h-10zM1103.0 908.8h10v6.7h-10zM1129.3 974.9h10v6.7h-10zM1110.7 917.2h10v6.7h-10zM1134.6 958.3h10v6.7h-10zM1115.7 869.4h10v6.7h-10zM1131.2 964.9h10v6.7h-10zM1109.2 949.9h10v6.7h-10zM1119.8 901.2h10v6.7h-10zM1136.6 908.0h10v6.7h-10zM1124.1 927.0h10v6.7h-10zM1108.2 959.2h10v6.7h-10zM1113.2 872.2h10v6.7h-10zM1129.1 900.4h10v6.7h-10zM1126.2 969.2h10v6.7h-10zM1122.0 897.9h10v6.7h-10zM1116.3 944.1h10v6.7h-10zM1123.9 954.1h10v6.7h-10zM1110.6 915.6h10v6.7h-10zM1115.8 948.9h10v6.7h-10zM1119.1 963.2h10v6.7h-10zM1116.8 959.1h10v6.7h-10zM1116.1 944.2h10v6.7h-10zM1127.4 957.5h10v6.7h-10zM1132.6 910.4h10v6.7h-10zM1131.4 891.9h10v6.7h-10zM1116.3 973.8h10v6.7h-10zM1115.1 915.6h10v6.7h-10zM1353.3 947.8h10v6.7h-10zM1366.6 902.4h10v6.7h-10zM1337.6 964.9h10v6.7h-10zM1333.7 917.8h10v6.7h-10zM1357.0 921.1h10v6.7h-10zM1348.4 966.9h10v6.7h-10zM1363.0 865.4h10v6.7h-10zM1355.1 864.5h10v6.7h-10zM1362.5 903.6h10v6.7h-10zM1340.8 906.6h10v6.7h-10zM1338.7 938.7h10v6.7h-10zM1352.5 976.2h10v6.7h-10zM1334.9 948.9h10v6.7h-10zM1339.1 949.5h10v6.7h-10zM1365.2 898.8h10v6.7h-10zM1335.3 954.4h10v6.7h-10zM1341.4 892.5h10v6.7h-10zM1367.7 965.9h10v6.7h-10zM1366.6 931.1h10v6.7h-10zM1349.9 943.4h10v6.7h-10zM1366.1 944.0h10v6.7h-10zM1357.7 972.0h10v6.7h-10zM1334.3 958.3h10v6.7h-10zM1358.6 954.3h10v6.7h-10zM1349.2 910.1h10v6.7h-10zM1343.7 935.3h10v6.7h-10zM1347.6 960.7h10v6.7h-10zM1364.3 903.7h10v6.7h-10zM1336.5 896.4h10v6.7h-10zM1354.0 911.4h10v6.7h-10zM1345.2 978.2h10v6.7h-10zM1360.7 979.2h10v6.7h-10zM1345.3 875.7h10v6.7h-10zM1364.1 964.3h10v6.7h-10zM1358.6 876.1h10v6.7h-10zM1369.5 898.6h10v6.7h-10zM1336.8 959.0h10v6.7h-10zM1333.3 919.8h10v6.7h-10zM1369.2 943.6h10v6.7h-10zM1368.0 889.6h10v6.7h-10zM1361.5 911.1h10v6.7h-10zM1366.5 905.6h10v6.7h-10zM1335.4 907.8h10v6.7h-10zM1341.4 965.9h10v6.7h-10zM1368.9 881.0h10v6.7h-10zM1363.9 949.6h10v6.7h-10zM1368.6 969.8h10v6.7h-10zM1335.3 889.6h10v6.7h-10zM1334.3 895.4h10v6.7h-10zM1368.6 896.8h10v6.7h-10zM1183.7 965.3h10v6.7h-10zM1185.5 961.5h10v6.7h-10zM1167.1 939.1h10v6.7h-10zM1138.3 889.4h10v6.7h-10zM1169.5 940.9h10v6.7h-10zM1147.6 903.2h10v6.7h-10zM1318.6 920.8h10v6.7h-10zM1313.7 929.9h10v6.7h-10zM1299.2 943.3h10v6.7h-10zM1339.0 878.7h10v6.7h-10zM1310.0 933.6h10v6.7h-10zM1337.2 884.0h10v6.7h-10zM1386.3 989.6h10v6.7h-10zM1082.7 992.7h10v6.7h-10zM1397.2 994.1h10v6.7h-10zM1048.2 982.3h10v6.7h-10zM1411.1 1001.2h10v6.7h-10zM1056.9 997.8h10v6.7h-10zM1091.5 1003.4h10v6.7h-10zM1386.9 986.3h10v6.7h-10zM1392.8 993.3h10v6.7h-10zM1102.1 1001.9h10v6.7h-10zM1393.3 972.2h10v6.7h-10zM1407.4 1000.7h10v6.7h-10zM1432.7 991.0h10v6.7h-10zM1096.9 976.9h10v6.7h-10zM1096.8 989.4h10v6.7h-10zM1430.8 997.6h10v6.7h-10zM1084.6 971.4h10v6.7h-10zM1102.0 991.1h10v6.7h-10zM1094.9 1004.8h10v6.7h-10zM1402.9 970.5h10v6.7h-10zM1367.6 1003.1h10v6.7h-10zM1078.4 982.3h10v6.7h-10zM1369.5 971.5h10v6.7h-10zM1046.8 990.5h10v6.7h-10zM1426.4 1002.2h10v6.7h-10zM1077.5 988.0h10v6.7h-10zM1393.9 998.0h10v6.7h-10zM1381.9 990.4h10v6.7h-10zM1097.9 1000.7h10v6.7h-10zM1391.5 987.9h10v6.7h-10zM1066.5 983.7h10v6.7h-10zM1091.6 978.1h10v6.7h-10zM1054.8 970.3h10v6.7h-10zM1075.1 1001.7h10v6.7h-10zM1080.7 990.6h10v6.7h-10zM1059.0 1005.7h10v6.7h-10zM1387.0 996.5h10v6.7h-10zM1062.6 1002.7h10v6.7h-10zM1422.5 975.8h10v6.7h-10zM1391.7 970.5h10v6.7h-10zM1075.6 978.9h10v6.7h-10zM1400.5 994.7h10v6.7h-10zM1410.9 996.4h10v6.7h-10zM1053.5 997.8h10v6.7h-10zM1405.4 1002.0h10v6.7h-10zM1411.4 1002.0h10v6.7h-10zM1087.3 979.6h10v6.7h-10zM1398.0 973.3h10v6.7h-10zM1071.9 985.3h10v6.7h-10zM1387.1 1004.0h10v6.7h-10zM1054.6 980.4h10v6.7h-10zM1057.9 982.2h10v6.7h-10zM1572.9 1000.9h10v6.7h-10zM1427.4 999.7h10v6.7h-10zM1465.6 1003.8h10v6.7h-10zM1418.8 1004.7h10v6.7h-10zM1459.8 995.4h10v6.7h-10zM1450.5 999.0h10v6.7h-10zM1415.2 1002.3h10v6.7h-10zM1525.3 1000.8h10v6.7h-10zM1039.1 999.9h10v6.7h-10zM1426.9 996.5h10v6.7h-10zM1005.3 1001.0h10v6.7h-10zM1066.4 997.9h10v6.7h-10zM986.9 1000.1h10v6.7h-10zM1405.3 997.8h10v6.7h-10zM901.1 993.5h10v6.7h-10zM829.5 996.3h10v6.7h-10zM1539.3 998.7h10v6.7h-10zM982.9 997.0h10v6.7h-10zM1393.8 1004.0h10v6.7h-10zM1590.0 999.4h10v6.7h-10zM1500.8 996.8h10v6.7h-10zM1590.8 990.6h10v6.7h-10zM1424.4 1005.0h10v6.7h-10zM1073.4 1004.0h10v6.7h-10zM1069.0 1003.8h10v6.7h-10zM1001.9 998.0h10v6.7h-10zM1057.9 1003.4h10v6.7h-10zM1059.0 996.6h10v6.7h-10zM1500.0 998.3h10v6.7h-10zM1399.7 1000.6h10v6.7h-10zM1405.1 999.5h10v6.7h-10zM1059.8 995.6h10v6.7h-10zM1467.6 998.1h10v6.7h-10zM1473.4 1002.6h10v6.7h-10zM1514.9 995.8h10v6.7h-10zM1397.1 1003.7h10v6.7h-10zM1018.2 994.9h10v6.7h-10zM1063.8 997.5h10v6.7h-10zM1017.8 995.6h10v6.7h-10zM902.6 997.7h10v6.7h-10zM1074.9 1004.4h10v6.7h-10zM839.5 997.0h10v6.7h-10zM989.7 998.0h10v6.7h-10zM1034.7 1000.5h10v6.7h-10zM1036.8 999.6h10v6.7h-10zM1461.8 1002.6h10v6.7h-10zM911.8 999.1h10v6.7h-10zM921.3 997.6h10v6.7h-10zM1475.5 973.3h10v6.7h-10zM1066.1 1000.7h10v6.7h-10zM1407.8 983.0h10v6.7h-10zM925.0 973.9h10v6.7h-10zM1522.0 976.8h10v6.7h-10zM1063.3 989.3h10v6.7h-10zM1002.7 973.9h10v6.7h-10zM1629.2 992.8h10v6.7h-10zM1451.0 987.3h10v6.7h-10zM1066.1 998.0h10v6.7h-10zM1008.9 1002.1h10v6.7h-10zM1409.8 982.7h10v6.7h-10zM1467.4 990.8h10v6.7h-10zM1036.4 997.7h10v6.7h-10zM978.2 983.5h10v6.7h-10zM958.8 998.2h10v6.7h-10zM1462.9 970.8h10v6.7h-10zM1035.4 986.8h10v6.7h-10zM1414.4 981.5h10v6.7h-10zM1636.8 982.2h10v6.7h-10zM1407.2 981.1h10v6.7h-10zM1457.7 986.3h10v6.7h-10zM1016.3 979.5h10v6.7h-10zM1440.2 997.0h10v6.7h-10zM1419.7 973.6h10v6.7h-10zM1441.9 1004.8h10v6.7h-10zM1473.4 1003.4h10v6.7h-10z"/><path d="M1125.5 883.0h10v6.7h-10zM1119.2 959.6h10v6.7h-10zM1139.3 944.7h10v6.7h-10zM1114.4 948.7h10v6.7h-10zM1126.0 866.9h10v6.7h-10zM1137.3 904.5h10v6.7h-10zM1116.0 962.5h10v6.7h-10zM1125.2 963.0h10v6.7h-10zM1108.8 839.1h10v6.7h-10zM1133.1 894.4h10v6.7h-10zM1119.9 877.0h10v6.7h-10zM1138.5 977.6h10v6.7h-10zM1138.1 933.4h10v6.7h-10zM1116.0 864.9h10v6.7h-10zM1140.5 899.6h10v6.7h-10zM1131.2 955.4h10v6.7h-10zM1124.1 914.5h10v6.7h-10zM1121.9 936.1h10v6.7h-10zM1126.7 920.9h10v6.7h-10zM1125.9 943.5h10v6.7h-10zM1107.3 872.0h10v6.7h-10zM1120.9 856.9h10v6.7h-10zM1133.1 926.4h10v6.7h-10zM1124.3 878.6h10v6.7h-10zM1112.4 911.4h10v6.7h-10zM1105.5 901.4h10v6.7h-10zM1109.9 943.4h10v6.7h-10zM1132.5 965.3h10v6.7h-10zM1134.5 955.4h10v6.7h-10zM1108.2 903.4h10v6.7h-10zM1110.7 870.6h10v6.7h-10zM1110.2 920.1h10v6.7h-10zM1110.0 905.7h10v6.7h-10zM1139.9 921.3h10v6.7h-10zM1116.2 935.9h10v6.7h-10zM1106.1 849.0h10v6.7h-10zM1123.2 890.6h10v6.7h-10zM1105.2 959.3h10v6.7h-10zM1139.0 955.2h10v6.7h-10zM1108.5 913.1h10v6.7h-10zM1110.4 862.2h10v6.7h-10zM1124.4 896.2h10v6.7h-10zM1118.4 934.4h10v6.7h-10zM1115.9 975.6h10v6.7h-10zM1135.8 940.4h10v6.7h-10zM1111.4 857.6h10v6.7h-10zM1125.4 933.0h10v6.7h-10zM1111.7 980.6h10v6.7h-10zM1120.5 961.9h10v6.7h-10zM1140.8 901.6h10v6.7h-10zM1109.9 968.3h10v6.7h-10zM1104.4 950.1h10v6.7h-10zM1136.4 888.8h10v6.7h-10zM1140.0 918.2h10v6.7h-10zM1368.9 909.4h10v6.7h-10zM1359.7 928.9h10v6.7h-10zM1345.5 885.2h10v6.7h-10zM1354.2 892.9h10v6.7h-10zM1346.0 964.2h10v6.7h-10zM1365.9 928.9h10v6.7h-10zM1350.9 954.4h10v6.7h-10zM1362.7 969.5h10v6.7h-10zM1359.3 906.1h10v6.7h-10zM1338.4 966.8h10v6.7h-10zM1345.0 973.7h10v6.7h-10zM1345.9 906.0h10v6.7h-10zM1349.6 911.7h10v6.7h-10zM1368.0 887.9h10v6.7h-10zM1366.0 932.2h10v6.7h-10zM1355.2 899.7h10v6.7h-10zM1369.1 911.4h10v6.7h-10zM1360.6 973.0h10v6.7h-10zM1359.3 951.8h10v6.7h-10zM1340.9 912.0h10v6.7h-10zM1351.5 919.5h10v6.7h-10zM1360.7 870.3h10v6.7h-10zM1338.1 910.7h10v6.7h-10zM1339.0 904.2h10v6.7h-10zM1349.0 877.0h10v6.7h-10zM1342.6 946.1h10v6.7h-10zM1360.5 976.3h10v6.7h-10zM1364.0 962.0h10v6.7h-10zM1369.1 950.9h10v6.7h-10zM1362.4 895.5h10v6.7h-10zM1335.6 980.4h10v6.7h-10zM1367.0 977.0h10v6.7h-10zM1362.7 885.2h10v6.7h-10zM1339.5 881.7h10v6.7h-10zM1345.9 880.3h10v6.7h-10zM1347.5 897.2h10v6.7h-10zM1359.3 979.2h10v6.7h-10zM1333.9 957.8h10v6.7h-10zM1333.3 960.1h10v6.7h-10zM1359.1 925.2h10v6.7h-10zM1365.9 960.7h10v6.7h-10zM1359.1 853.0h10v6.7h-10zM1346.8 868.3h10v6.7h-10zM1362.7 968.4h10v6.7h-10zM1359.7 915.6h10v6.7h-10zM1334.1 898.1h10v6.7h-10zM1337.1 968.7h10v6.7h-10zM1352.0 948.5h10v6.7h-10zM1338.2 924.9h10v6.7h-10zM1348.1 910.2h10v6.7h-10zM1142.5 900.1h10v6.7h-10zM1169.4 942.0h10v6.7h-10zM1172.7 943.9h10v6.7h-10zM1142.3 898.1h10v6.7h-10zM1176.1 947.1h10v6.7h-10zM1192.8 975.4h10v6.7h-10zM1284.8 964.5h10v6.7h-10zM1309.5 935.0h10v6.7h-10zM1297.5 951.1h10v6.7h-10zM1318.6 920.0h10v6.7h-10zM1336.6 878.5h10v6.7h-10zM1141.0 861.6h10v6.7h-10zM1057.8 1001.7h10v6.7h-10zM1090.9 973.4h10v6.7h-10zM1054.6 974.9h10v6.7h-10zM1391.1 993.3h10v6.7h-10zM1432.8 986.1h10v6.7h-10zM1401.2 1000.1h10v6.7h-10zM1085.1 988.1h10v6.7h-10zM1057.7 972.0h10v6.7h-10zM1070.6 996.4h10v6.7h-10zM1059.5 983.6h10v6.7h-10zM1046.0 986.1h10v6.7h-10zM1399.4 996.5h10v6.7h-10zM1052.9 978.9h10v6.7h-10zM1093.6 988.3h10v6.7h-10zM1384.9 993.1h10v6.7h-10zM1371.6 1006.1h10v6.7h-10zM1413.0 1004.0h10v6.7h-10zM1416.9 997.7h10v6.7h-10zM1050.4 982.9h10v6.7h-10zM1099.3 988.2h10v6.7h-10zM1049.2 983.3h10v6.7h-10zM1402.2 996.4h10v6.7h-10zM1411.2 971.4h10v6.7h-10zM1066.9 997.2h10v6.7h-10zM1090.1 975.4h10v6.7h-10zM1413.3 987.7h10v6.7h-10zM1075.9 976.3h10v6.7h-10zM1068.7 979.1h10v6.7h-10zM1385.6 973.0h10v6.7h-10zM1369.1 979.1h10v6.7h-10zM1418.2 995.8h10v6.7h-10zM1414.9 998.2h10v6.7h-10zM1103.4 979.0h10v6.7h-10zM1059.2 980.0h10v6.7h-10zM1430.8 994.8h10v6.7h-10zM1097.5 989.3h10v6.7h-10zM1100.2 977.4h10v6.7h-10zM1063.3 981.5h10v6.7h-10zM1378.5 1000.8h10v6.7h-10zM1097.7 975.7h10v6.7h-10zM1374.6 984.0h10v6.7h-10zM1040.6 999.1h10v6.7h-10zM1051.8 974.0h10v6.7h-10zM1382.2 980.9h10v6.7h-10zM1400.6 1001.3h10v6.7h-10zM1055.7 995.3h10v6.7h-10zM1388.7 996.2h10v6.7h-10zM1428.0 989.1h10v6.7h-10zM1041.5 991.4h10v6.7h-10zM1063.0 998.3h10v6.7h-10zM1090.6 980.9h10v6.7h-10zM1402.4 984.7h10v6.7h-10zM1422.6 1004.9h10v6.7h-10zM1062.9 998.3h10v6.7h-10zM1402.0 996.6h10v6.7h-10zM1054.9 1004.6h10v6.7h-10zM1023.2 994.4h10v6.7h-10zM1475.6 997.4h10v6.7h-10zM954.6 998.0h10v6.7h-10zM1425.1 994.9h10v6.7h-10zM962.8 993.6h10v6.7h-10zM1487.6 994.6h10v6.7h-10zM1034.7 995.0h10v6.7h-10zM1068.4 1003.3h10v6.7h-10zM1066.5 996.1h10v6.7h-10zM1522.5 995.4h10v6.7h-10zM930.8 1000.6h10v6.7h-10zM1077.8 1002.1h10v6.7h-10zM1048.3 1001.7h10v6.7h-10zM1591.9 999.7h10v6.7h-10zM1404.7 1002.3h10v6.7h-10zM992.7 1000.3h10v6.7h-10zM992.7 1004.3h10v6.7h-10zM985.1 1002.6h10v6.7h-10zM1435.6 996.7h10v6.7h-10zM1403.9 1004.5h10v6.7h-10zM995.4 1003.0h10v6.7h-10zM1399.2 1004.9h10v6.7h-10zM1427.4 995.5h10v6.7h-10zM982.6 998.7h10v6.7h-10zM1079.2 1003.6h10v6.7h-10zM981.8 995.4h10v6.7h-10zM1031.2 1000.0h10v6.7h-10zM1075.8 1004.1h10v6.7h-10zM1394.4 1004.9h10v6.7h-10zM1424.0 999.9h10v6.7h-10zM1071.1 1002.7h10v6.7h-10zM1455.3 1003.3h10v6.7h-10zM1073.0 997.4h10v6.7h-10zM1422.7 995.9h10v6.7h-10zM1428.3 997.6h10v6.7h-10zM1511.9 996.3h10v6.7h-10zM1073.3 994.8h10v6.7h-10zM1456.0 1001.2h10v6.7h-10zM949.2 995.6h10v6.7h-10zM1017.3 1002.1h10v6.7h-10zM911.3 995.3h10v6.7h-10zM1408.5 997.6h10v6.7h-10zM969.7 996.2h10v6.7h-10zM1413.4 999.8h10v6.7h-10zM1421.2 998.6h10v6.7h-10zM1060.2 988.6h10v6.7h-10zM976.3 992.7h10v6.7h-10zM1537.1 994.4h10v6.7h-10zM1045.2 972.5h10v6.7h-10zM1564.7 997.4h10v6.7h-10zM1043.4 998.6h10v6.7h-10zM965.6 1001.8h10v6.7h-10zM1559.9 985.4h10v6.7h-10zM1052.5 988.4h10v6.7h-10zM1420.4 972.9h10v6.7h-10zM1407.3 975.8h10v6.7h-10zM1484.9 978.5h10v6.7h-10zM1424.5 990.4h10v6.7h-10zM1025.3 986.7h10v6.7h-10zM1459.9 983.9h10v6.7h-10zM1438.4 971.6h10v6.7h-10zM1436.5 975.5h10v6.7h-10zM948.6 1001.2h10v6.7h-10zM949.7 991.8h10v6.7h-10zM1435.4 970.3h10v6.7h-10zM1480.4 972.2h10v6.7h-10zM1408.6 991.6h10v6.7h-10zM995.6 1002.6h10v6.7h-10zM1510.0 1001.1h10v6.7h-10zM1438.2 1005.0h10v6.7h-10z"/><path d="M1124.4 910.7h10v6.7h-10zM1132.2 976.5h10v6.7h-10zM1117.9 947.9h10v6.7h-10zM1131.8 939.1h10v6.7h-10zM1126.9 966.1h10v6.7h-10zM1128.9 870.5h10v6.7h-10zM1103.1 875.6h10v6.7h-10zM1105.2 886.7h10v6.7h-10zM1122.6 921.6h10v6.7h-10zM1104.6 849.7h10v6.7h-10zM1109.2 956.2h10v6.7h-10zM1118.5 894.2h10v6.7h-10zM1112.5 942.5h10v6.7h-10zM1126.2 965.9h10v6.7h-10zM1132.3 901.2h10v6.7h-10zM1121.1 957.6h10v6.7h-10zM1115.2 913.6h10v6.7h-10zM1132.4 973.9h10v6.7h-10zM1116.0 981.3h10v6.7h-10zM1140.8 909.4h10v6.7h-10zM1107.1 957.6h10v6.7h-10zM1139.5 938.1h10v6.7h-10zM1109.3 893.3h10v6.7h-10zM1109.6 866.0h10v6.7h-10zM1111.1 941.1h10v6.7h-10zM1111.6 903.5h10v6.7h-10zM1127.2 870.7h10v6.7h-10zM1104.6 899.9h10v6.7h-10zM1120.2 943.3h10v6.7h-10zM1128.5 952.0h10v6.7h-10zM1110.8 910.4h10v6.7h-10zM1103.3 933.5h10v6.7h-10zM1115.2 964.4h10v6.7h-10zM1104.0 865.3h10v6.7h-10zM1105.8 885.5h10v6.7h-10zM1120.0 948.9h10v6.7h-10zM1116.5 870.3h10v6.7h-10zM1116.4 892.3h10v6.7h-10zM1104.7 953.6h10v6.7h-10zM1123.5 969.5h10v6.7h-10zM1133.9 889.0h10v6.7h-10zM1139.4 931.7h10v6.7h-10zM1110.0 858.4h10v6.7h-10zM1125.2 974.0h10v6.7h-10zM1110.5 945.5h10v6.7h-10zM1114.8 854.4h10v6.7h-10zM1128.0 934.9h10v6.7h-10zM1106.4 957.3h10v6.7h-10zM1137.3 905.3h10v6.7h-10zM1122.7 889.0h10v6.7h-10zM1140.8 968.3h10v6.7h-10zM1111.8 928.9h10v6.7h-10zM1130.8 970.2h10v6.7h-10zM1117.6 914.0h10v6.7h-10zM1367.7 846.1h10v6.7h-10zM1350.6 934.4h10v6.7h-10zM1352.2 875.9h10v6.7h-10zM1351.7 866.1h10v6.7h-10zM1354.4 918.4h10v6.7h-10zM1351.2 925.0h10v6.7h-10zM1363.2 865.4h10v6.7h-10zM1342.5 968.5h10v6.7h-10zM1354.9 963.4h10v6.7h-10zM1340.7 974.2h10v6.7h-10zM1338.6 967.1h10v6.7h-10zM1351.4 958.3h10v6.7h-10zM1360.5 899.9h10v6.7h-10zM1364.2 911.5h10v6.7h-10zM1369.1 853.6h10v6.7h-10zM1334.5 980.1h10v6.7h-10zM1362.3 981.4h10v6.7h-10zM1362.7 966.3h10v6.7h-10zM1362.0 919.2h10v6.7h-10zM1364.2 914.4h10v6.7h-10zM1351.7 977.7h10v6.7h-10zM1368.4 925.5h10v6.7h-10zM1366.0 977.4h10v6.7h-10zM1363.6 940.3h10v6.7h-10zM1347.3 919.4h10v6.7h-10zM1334.5 960.4h10v6.7h-10zM1347.5 912.8h10v6.7h-10zM1359.3 884.8h10v6.7h-10zM1346.3 963.4h10v6.7h-10zM1364.1 894.2h10v6.7h-10zM1337.9 929.4h10v6.7h-10zM1359.6 955.6h10v6.7h-10zM1369.7 928.7h10v6.7h-10zM1354.7 894.9h10v6.7h-10zM1354.7 926.9h10v6.7h-10zM1363.5 962.0h10v6.7h-10zM1363.1 890.7h10v6.7h-10zM1363.0 966.0h10v6.7h-10zM1348.3 870.1h10v6.7h-10zM1344.1 900.7h10v6.7h-10zM1352.7 962.6h10v6.7h-10zM1369.6 954.9h10v6.7h-10zM1338.3 915.4h10v6.7h-10zM1343.3 950.3h10v6.7h-10zM1363.4 882.5h10v6.7h-10zM1337.3 924.8h10v6.7h-10zM1352.4 976.6h10v6.7h-10zM1360.9 856.9h10v6.7h-10zM1360.9 891.4h10v6.7h-10zM1357.7 913.0h10v6.7h-10zM1164.1 935.2h10v6.7h-10zM1138.0 888.3h10v6.7h-10zM1135.1 877.6h10v6.7h-10zM1133.8 880.2h10v6.7h-10zM1145.0 896.3h10v6.7h-10zM1142.7 888.1h10v6.7h-10zM1341.7 876.8h10v6.7h-10zM1328.7 897.5h10v6.7h-10zM1323.7 903.2h10v6.7h-10zM1307.4 938.5h10v6.7h-10zM1298.5 948.7h10v6.7h-10zM1163.0 911.6h10v6.7h-10zM1430.1 1002.6h10v6.7h-10zM1409.0 974.2h10v6.7h-10zM1083.5 997.4h10v6.7h-10zM1412.9 1001.9h10v6.7h-10zM1379.4 973.4h10v6.7h-10zM1426.5 999.1h10v6.7h-10zM1398.8 990.5h10v6.7h-10zM1391.3 975.5h10v6.7h-10zM1421.1 1000.6h10v6.7h-10zM1378.0 999.9h10v6.7h-10zM1378.8 992.5h10v6.7h-10zM1372.8 972.7h10v6.7h-10zM1423.9 991.9h10v6.7h-10zM1095.1 972.7h10v6.7h-10zM1056.0 985.1h10v6.7h-10zM1092.3 988.0h10v6.7h-10zM1431.6 1002.4h10v6.7h-10zM1090.0 1003.1h10v6.7h-10zM1408.3 1004.3h10v6.7h-10zM1093.1 982.1h10v6.7h-10zM1048.8 980.4h10v6.7h-10zM1413.4 978.1h10v6.7h-10zM1090.8 994.2h10v6.7h-10zM1080.3 992.7h10v6.7h-10zM1067.4 992.8h10v6.7h-10zM1094.7 987.9h10v6.7h-10zM1057.8 1005.4h10v6.7h-10zM1396.7 971.2h10v6.7h-10zM1048.9 970.5h10v6.7h-10zM1048.5 993.5h10v6.7h-10zM1418.8 981.8h10v6.7h-10zM1063.4 993.0h10v6.7h-10zM1044.9 992.2h10v6.7h-10zM1409.4 982.6h10v6.7h-10zM1421.9 992.2h10v6.7h-10zM1095.9 998.4h10v6.7h-10zM1382.4 1002.3h10v6.7h-10zM1093.3 971.6h10v6.7h-10zM1091.9 994.2h10v6.7h-10zM1413.9 977.1h10v6.7h-10zM1383.6 981.6h10v6.7h-10zM1105.0 1003.0h10v6.7h-10zM1068.1 992.7h10v6.7h-10zM1407.0 994.6h10v6.7h-10zM1421.1 998.6h10v6.7h-10zM1087.4 978.4h10v6.7h-10zM1064.0 989.0h10v6.7h-10zM1376.5 973.0h10v6.7h-10zM1394.7 1000.2h10v6.7h-10zM1399.3 1005.2h10v6.7h-10zM1414.7 993.7h10v6.7h-10zM1092.9 995.2h10v6.7h-10zM1054.7 1002.7h10v6.7h-10zM1063.3 997.4h10v6.7h-10zM1049.7 997.7h10v6.7h-10zM974.0 1001.4h10v6.7h-10zM1078.3 1001.5h10v6.7h-10zM1447.0 996.9h10v6.7h-10zM1414.4 996.4h10v6.7h-10zM1048.5 998.5h10v6.7h-10zM1593.0 997.7h10v6.7h-10zM1070.2 1004.6h10v6.7h-10zM1407.7 998.2h10v6.7h-10zM1404.2 1000.9h10v6.7h-10zM948.4 999.1h10v6.7h-10zM1075.5 1004.9h10v6.7h-10zM981.4 995.1h10v6.7h-10zM1452.5 1001.8h10v6.7h-10zM1658.2 991.8h10v6.7h-10zM1046.0 1003.5h10v6.7h-10zM924.4 992.5h10v6.7h-10zM1005.4 996.6h10v6.7h-10zM1076.7 1000.4h10v6.7h-10zM1533.0 995.3h10v6.7h-10zM1461.8 994.4h10v6.7h-10zM976.5 997.1h10v6.7h-10zM1026.2 1005.0h10v6.7h-10zM922.6 992.2h10v6.7h-10zM1400.8 1002.7h10v6.7h-10zM1489.8 996.2h10v6.7h-10zM1043.5 1000.7h10v6.7h-10zM1566.7 997.5h10v6.7h-10zM980.3 998.1h10v6.7h-10zM1041.0 994.6h10v6.7h-10zM1417.4 1002.2h10v6.7h-10zM1078.0 999.6h10v6.7h-10zM1396.1 998.1h10v6.7h-10zM1596.6 991.0h10v6.7h-10zM1018.8 995.3h10v6.7h-10zM1023.5 997.4h10v6.7h-10zM1025.7 1002.2h10v6.7h-10zM1399.6 1004.2h10v6.7h-10zM1432.1 995.8h10v6.7h-10zM1076.5 997.7h10v6.7h-10zM1006.2 997.7h10v6.7h-10zM1553.9 995.6h10v6.7h-10zM1419.8 1003.0h10v6.7h-10zM982.0 993.7h10v6.7h-10zM1464.7 998.9h10v6.7h-10zM1044.4 997.9h10v6.7h-10zM947.0 1000.7h10v6.7h-10zM1503.1 987.1h10v6.7h-10zM1020.0 978.9h10v6.7h-10zM1490.1 988.2h10v6.7h-10zM1449.7 971.9h10v6.7h-10zM1520.5 992.6h10v6.7h-10zM930.4 972.7h10v6.7h-10zM1481.4 999.3h10v6.7h-10zM984.6 1000.0h10v6.7h-10zM990.4 990.2h10v6.7h-10zM1042.4 971.2h10v6.7h-10zM1438.9 986.9h10v6.7h-10zM1507.2 999.0h10v6.7h-10zM1605.3 983.3h10v6.7h-10zM1006.8 1001.7h10v6.7h-10zM1420.8 985.2h10v6.7h-10zM1012.8 985.4h10v6.7h-10zM952.7 986.8h10v6.7h-10zM1048.9 1000.8h10v6.7h-10zM1589.7 998.6h10v6.7h-10zM1434.5 978.5h10v6.7h-10zM1584.2 997.2h10v6.7h-10zM1413.5 970.8h10v6.7h-10zM873.5 991.7h10v6.7h-10zM1408.3 979.3h10v6.7h-10zM1040.1 972.5h10v6.7h-10z"/></g>
<path d="M595.7 1002.9h10v6.7h-10zM618.4 1002.9h10v6.7h-10zM642.0 1002.9h10v6.7h-10zM671.7 1002.9h10v6.7h-10zM706.6 1002.9h10v6.7h-10zM748.5 1002.9h10v6.7h-10zM802.6 1002.9h10v6.7h-10zM1671.8 1002.9h10v6.7h-10zM1725.6 1002.9h10v6.7h-10zM1767.3 1002.9h10v6.7h-10zM1801.9 1002.9h10v6.7h-10zM1831.2 1002.9h10v6.7h-10zM1856.9 1002.9h10v6.7h-10zM1878.7 1002.9h10v6.7h-10z" fill="#111"/>
<path d="M642.0 981.0h10v6.7h-10zM618.4 990.6h10v6.7h-10zM725.8 987.1h10v6.7h-10zM752.0 994.1h10v6.7h-10zM595.7 996.6h10v6.7h-10zM1767.3 987.1h10v6.7h-10zM1801.9 989.9h10v6.7h-10zM1856.9 992.4h10v6.7h-10zM1878.7 983.6h10v6.7h-10z" fill="#000" fill-opacity="0.35"/>
<rect x="582.6" y="974.8" width="10" height="35.8" fill="#000"/>
<rect x="1890.6" y="977.5" width="10" height="32.3" fill="#000"/>
<g fill="#00ff00"><path d="M583.0 155.0h10v6.7h-10zM589.1 155.0h10v6.7h-10zM644.6 155.0h10v6.7h-10zM673.8 155.0h10v6.7h-10zM690.0 155.0h10v6.7h-10zM737.5 155.0h10v6.7h-10zM797.0 155.0h10v6.7h-10zM803.9 155.0h10v6.7h-10zM862.3 155.0h10v6.7h-10zM878.9 155.0h10v6.7h-10zM768.1 246.1h10v6.7h-10zM583.0 262.0h10v6.7h-10zM583.0 281.9h10v6.7h-10zM725.8 317.4h10v6.7h-10zM777.8 310.9h10v6.7h-10zM844.5 312.6h10v6.7h-10zM870.4 305.7h10v6.7h-10zM878.6 313.9h10v6.7h-10zM675.2 349.3h10v6.7h-10zM765.1 347.0h10v6.7h-10zM802.3 343.6h10v6.7h-10zM839.7 347.0h10v6.7h-10zM907.9 155.0h10v6.7h-10zM943.9 285.1h10v6.7h-10zM673.4 362.3h10v6.7h-10zM765.4 359.6h10v6.7h-10zM880.3 360.0h10v6.7h-10zM583.0 404.2h10v6.7h-10zM828.8 423.4h10v6.7h-10zM583.0 460.9h10v6.7h-10zM583.0 492.3h10v6.7h-10zM620.2 501.6h10v6.7h-10zM697.0 496.3h10v6.7h-10zM667.8 533.9h10v6.7h-10zM676.9 542.1h10v6.7h-10zM793.9 555.2h10v6.7h-10zM810.5 561.3h10v6.7h-10zM583.0 561.3h10v6.7h-10zM905.0 353.2h10v6.7h-10zM906.7 385.5h10v6.7h-10zM933.8 389.8h10v6.7h-10zM920.7 437.9h10v6.7h-10zM948.6 467.4h10v6.7h-10zM940.4 477.0h10v6.7h-10zM917.7 490.1h10v6.7h-10zM1011.8 483.3h10v6.7h-10zM942.5 516.8h10v6.7h-10zM940.4 525.5h10v6.7h-10zM1018.1 560.8h10v6.7h-10zM1025.4 560.8h10v6.7h-10zM583.0 586.1h10v6.7h-10zM583.0 590.5h10v6.7h-10zM583.0 606.7h10v6.7h-10zM583.0 649.0h10v6.7h-10zM583.0 674.8h10v6.7h-10zM583.0 688.3h10v6.7h-10zM583.0 701.3h10v6.7h-10zM583.0 707.5h10v6.7h-10zM583.0 723.2h10v6.7h-10zM583.0 740.3h10v6.7h-10zM583.0 752.3h10v6.7h-10zM583.0 756.7h10v6.7h-10zM583.0 766.3h10v6.7h-10zM583.0 776.1h10v6.7h-10zM713.1 606.7h10v6.7h-10zM711.3 616.7h10v6.7h-10zM752.0 610.0h10v6.7h-10zM765.1 665.6h10v6.7h-10zM826.7 720.9h10v6.7h-10zM784.3 734.5h10v6.7h-10zM849.4 745.0h10v6.7h-10zM811.9 761.2h10v6.7h-10zM636.4 763.3h10v6.7h-10zM875.1 766.0h10v6.7h-10zM960.0 580.9h10v6.7h-10zM1025.1 580.9h10v6.7h-10zM1031.5 580.9h10v6.7h-10zM1027.5 584.4h10v6.7h-10zM1005.7 589.3h10v6.7h-10zM963.1 596.9h10v6.7h-10zM995.7 596.9h10v6.7h-10zM943.7 626.3h10v6.7h-10zM952.1 625.4h10v6.7h-10zM960.0 629.8h10v6.7h-10zM983.0 623.1h10v6.7h-10zM963.1 642.9h10v6.7h-10zM995.7 645.5h10v6.7h-10zM1002.2 649.0h10v6.7h-10zM911.1 658.9h10v6.7h-10zM1051.3 661.2h10v6.7h-10zM1008.5 673.1h10v6.7h-10zM1044.6 675.2h10v6.7h-10zM1058.6 683.0h10v6.7h-10zM1060.9 687.4h10v6.7h-10zM1060.9 691.7h10v6.7h-10zM921.0 688.3h10v6.7h-10zM995.7 697.5h10v6.7h-10zM1028.6 709.7h10v6.7h-10zM1041.1 711.0h10v6.7h-10zM1032.1 717.4h10v6.7h-10zM1044.6 721.4h10v6.7h-10zM1063.8 711.0h10v6.7h-10zM1067.3 715.3h10v6.7h-10zM1070.8 720.6h10v6.7h-10zM1060.9 723.7h10v6.7h-10zM903.2 719.2h10v6.7h-10zM988.8 724.0h10v6.7h-10zM979.5 730.5h10v6.7h-10zM985.8 736.6h10v6.7h-10zM1015.3 727.2h10v6.7h-10zM1073.8 730.5h10v6.7h-10zM930.8 740.6h10v6.7h-10zM1001.3 743.3h10v6.7h-10zM1052.5 738.0h10v6.7h-10zM1060.3 737.1h10v6.7h-10zM1054.2 743.3h10v6.7h-10zM1060.3 743.3h10v6.7h-10zM1048.5 749.4h10v6.7h-10zM921.0 753.2h10v6.7h-10zM956.5 753.2h10v6.7h-10zM979.5 753.2h10v6.7h-10zM999.2 753.2h10v6.7h-10zM1008.3 753.2h10v6.7h-10zM1062.1 758.1h10v6.7h-10zM995.7 766.0h10v6.7h-10zM904.6 776.1h10v6.7h-10zM940.7 772.9h10v6.7h-10zM963.1 772.9h10v6.7h-10zM1011.5 776.1h10v6.7h-10zM1023.7 771.2h10v6.7h-10zM1037.7 772.9h10v6.7h-10zM685.7 788.1h10v6.7h-10zM713.1 802.1h10v6.7h-10zM811.0 801.2h10v6.7h-10zM776.4 809.1h10v6.7h-10zM770.3 814.3h10v6.7h-10zM846.3 810.8h10v6.7h-10zM865.8 815.2h10v6.7h-10zM798.8 821.8h10v6.7h-10zM621.9 834.8h10v6.7h-10zM640.3 834.8h10v6.7h-10zM758.5 833.5h10v6.7h-10zM814.0 831.3h10v6.7h-10zM829.7 831.3h10v6.7h-10zM774.7 841.4h10v6.7h-10zM881.2 835.3h10v6.7h-10zM793.9 854.0h10v6.7h-10zM755.5 860.6h10v6.7h-10zM777.8 860.6h10v6.7h-10zM768.1 867.1h10v6.7h-10zM815.7 867.1h10v6.7h-10zM784.3 873.7h10v6.7h-10zM878.6 861.5h10v6.7h-10zM881.2 870.2h10v6.7h-10zM647.6 874.6h10v6.7h-10zM807.0 881.6h10v6.7h-10zM855.4 878.9h10v6.7h-10zM730.2 887.7h10v6.7h-10zM737.2 885.0h10v6.7h-10zM743.3 888.5h10v6.7h-10zM734.5 891.2h10v6.7h-10zM796.0 894.6h10v6.7h-10zM828.3 893.8h10v6.7h-10zM618.8 906.0h10v6.7h-10zM803.9 909.1h10v6.7h-10zM836.7 907.7h10v6.7h-10zM848.9 904.3h10v6.7h-10zM868.6 913.9h10v6.7h-10zM674.3 913.0h10v6.7h-10zM690.0 912.5h10v6.7h-10zM725.8 919.1h10v6.7h-10zM766.8 916.5h10v6.7h-10zM821.8 920.8h10v6.7h-10zM833.5 928.7h10v6.7h-10zM849.8 925.2h10v6.7h-10zM869.0 927.0h10v6.7h-10zM878.6 927.8h10v6.7h-10zM641.5 929.0h10v6.7h-10zM708.0 937.1h10v6.7h-10zM776.4 937.1h10v6.7h-10zM862.0 935.2h10v6.7h-10zM685.3 943.2h10v6.7h-10zM800.9 944.9h10v6.7h-10zM827.1 944.9h10v6.7h-10zM858.5 941.8h10v6.7h-10zM863.7 940.0h10v6.7h-10zM875.1 947.9h10v6.7h-10zM697.9 954.9h10v6.7h-10zM744.1 956.6h10v6.7h-10zM738.9 961.9h10v6.7h-10zM776.4 956.6h10v6.7h-10zM792.2 961.0h10v6.7h-10zM793.9 964.5h10v6.7h-10zM812.2 959.3h10v6.7h-10zM823.6 964.5h10v6.7h-10zM842.8 957.5h10v6.7h-10zM855.0 957.5h10v6.7h-10zM853.3 964.5h10v6.7h-10zM863.7 954.9h10v6.7h-10zM879.5 954.9h10v6.7h-10zM662.6 961.3h10v6.7h-10zM752.3 967.1h10v6.7h-10zM905.0 776.0h10v6.7h-10zM940.5 773.8h10v6.7h-10zM962.9 773.8h10v6.7h-10zM877.2 782.6h10v6.7h-10zM885.4 791.9h10v6.7h-10zM944.9 803.9h10v6.7h-10zM951.4 813.1h10v6.7h-10zM924.1 830.1h10v6.7h-10zM884.3 834.4h10v6.7h-10zM939.4 837.7h10v6.7h-10zM950.3 837.7h10v6.7h-10zM971.1 837.2h10v6.7h-10zM911.0 841.0h10v6.7h-10zM891.9 851.4h10v6.7h-10zM940.5 850.8h10v6.7h-10zM963.4 853.0h10v6.7h-10zM878.3 861.2h10v6.7h-10zM885.9 871.0h10v6.7h-10zM945.4 861.7h10v6.7h-10zM939.4 871.6h10v6.7h-10zM982.6 860.6h10v6.7h-10zM914.3 877.6h10v6.7h-10zM992.9 873.7h10v6.7h-10zM890.3 891.2h10v6.7h-10zM972.7 887.9h10v6.7h-10zM946.0 902.7h10v6.7h-10zM955.8 902.7h10v6.7h-10zM908.8 907.0h10v6.7h-10zM892.5 915.8h10v6.7h-10zM892.5 925.6h10v6.7h-10zM879.4 926.7h10v6.7h-10zM922.0 923.4h10v6.7h-10zM966.7 915.8h10v6.7h-10zM986.4 916.9h10v6.7h-10zM949.2 922.9h10v6.7h-10zM950.3 928.9h10v6.7h-10zM970.0 930.0h10v6.7h-10zM887.0 936.5h10v6.7h-10zM930.7 938.7h10v6.7h-10zM944.9 938.7h10v6.7h-10zM953.6 936.5h10v6.7h-10zM967.8 934.3h10v6.7h-10zM978.7 936.5h10v6.7h-10zM989.6 936.5h10v6.7h-10zM906.7 942.0h10v6.7h-10zM879.4 948.5h10v6.7h-10zM891.4 948.5h10v6.7h-10zM902.3 946.4h10v6.7h-10zM883.7 955.1h10v6.7h-10zM888.1 957.3h10v6.7h-10zM918.7 951.8h10v6.7h-10zM929.6 951.8h10v6.7h-10zM917.6 955.1h10v6.7h-10zM943.8 947.4h10v6.7h-10zM975.5 944.2h10v6.7h-10zM989.6 946.4h10v6.7h-10zM973.3 957.3h10v6.7h-10zM989.6 959.5h10v6.7h-10zM951.4 961.6h10v6.7h-10zM946.0 967.1h10v6.7h-10zM993.0 784.7h10v6.7h-10zM1020.7 779.0h10v6.7h-10zM1011.2 781.8h10v6.7h-10zM1010.7 780.3h10v6.7h-10zM1011.4 773.5h10v6.7h-10zM1018.5 788.2h10v6.7h-10zM1034.5 784.2h10v6.7h-10zM1049.0 783.2h10v6.7h-10zM1037.9 791.2h10v6.7h-10zM1030.9 788.8h10v6.7h-10zM1035.8 774.5h10v6.7h-10zM1056.2 788.0h10v6.7h-10zM1053.6 783.3h10v6.7h-10zM1062.8 779.1h10v6.7h-10zM1061.0 772.9h10v6.7h-10zM1051.2 775.8h10v6.7h-10zM1063.6 780.2h10v6.7h-10zM1081.7 780.7h10v6.7h-10zM1076.0 787.5h10v6.7h-10zM1084.0 776.5h10v6.7h-10zM1081.5 782.2h10v6.7h-10zM1087.5 786.2h10v6.7h-10zM1075.8 791.3h10v6.7h-10zM1072.4 780.0h10v6.7h-10zM1085.1 774.7h10v6.7h-10zM1079.8 772.4h10v6.7h-10zM1083.4 786.9h10v6.7h-10zM1028.9 801.1h10v6.7h-10zM1064.0 804.6h10v6.7h-10zM1069.9 808.1h10v6.7h-10zM1055.7 799.4h10v6.7h-10zM1070.5 800.9h10v6.7h-10zM1073.4 794.0h10v6.7h-10zM1071.2 807.0h10v6.7h-10zM1072.6 796.6h10v6.7h-10zM1077.8 809.1h10v6.7h-10zM1099.0 802.6h10v6.7h-10zM1098.3 798.8h10v6.7h-10zM1093.0 795.2h10v6.7h-10zM1014.7 821.3h10v6.7h-10zM1021.8 816.9h10v6.7h-10zM1010.1 820.0h10v6.7h-10zM1017.4 823.0h10v6.7h-10zM1043.8 822.0h10v6.7h-10zM1042.4 825.2h10v6.7h-10zM1031.1 829.6h10v6.7h-10zM1045.6 829.1h10v6.7h-10zM1057.8 819.6h10v6.7h-10zM1052.1 824.3h10v6.7h-10zM1051.2 813.0h10v6.7h-10zM1054.2 814.9h10v6.7h-10zM1071.1 811.7h10v6.7h-10zM1073.0 813.7h10v6.7h-10zM1077.3 812.2h10v6.7h-10zM1087.5 823.9h10v6.7h-10zM1073.0 816.7h10v6.7h-10zM1076.9 818.9h10v6.7h-10zM1099.3 821.3h10v6.7h-10zM1091.7 813.7h10v6.7h-10zM1096.9 816.9h10v6.7h-10zM1090.5 830.7h10v6.7h-10zM1100.6 814.6h10v6.7h-10zM1100.9 812.2h10v6.7h-10zM1100.6 831.2h10v6.7h-10zM1017.3 835.0h10v6.7h-10zM1025.4 842.3h10v6.7h-10zM1025.6 838.2h10v6.7h-10zM1014.5 847.9h10v6.7h-10zM1047.1 847.8h10v6.7h-10zM1046.4 846.4h10v6.7h-10zM1034.5 842.0h10v6.7h-10zM1037.1 832.2h10v6.7h-10zM1030.6 837.2h10v6.7h-10zM1063.9 850.8h10v6.7h-10zM1058.9 850.4h10v6.7h-10zM1089.1 838.9h10v6.7h-10zM1094.5 835.6h10v6.7h-10zM1094.1 844.1h10v6.7h-10zM1099.6 844.7h10v6.7h-10zM1099.6 835.2h10v6.7h-10zM1018.0 870.6h10v6.7h-10zM1024.5 855.1h10v6.7h-10zM1033.0 869.7h10v6.7h-10zM1046.1 854.6h10v6.7h-10zM1046.5 871.3h10v6.7h-10zM1043.1 858.7h10v6.7h-10zM1052.6 851.9h10v6.7h-10zM1069.4 864.6h10v6.7h-10zM1060.5 870.3h10v6.7h-10zM1058.7 869.1h10v6.7h-10zM1066.5 855.9h10v6.7h-10zM1075.9 856.5h10v6.7h-10zM1081.7 856.8h10v6.7h-10zM1078.4 854.3h10v6.7h-10zM1088.2 858.7h10v6.7h-10zM1079.2 863.3h10v6.7h-10zM1088.1 860.1h10v6.7h-10zM1088.4 861.7h10v6.7h-10zM1100.5 852.0h10v6.7h-10zM1098.8 855.3h10v6.7h-10zM1090.1 867.6h10v6.7h-10zM1093.4 861.1h10v6.7h-10zM1096.5 862.0h10v6.7h-10zM1092.1 862.9h10v6.7h-10zM1095.0 857.2h10v6.7h-10zM998.9 883.9h10v6.7h-10zM1000.1 881.9h10v6.7h-10zM1019.0 882.3h10v6.7h-10zM1019.6 890.5h10v6.7h-10zM1024.0 889.2h10v6.7h-10zM1028.8 876.8h10v6.7h-10zM1048.9 888.4h10v6.7h-10zM1032.7 874.1h10v6.7h-10zM1038.8 873.1h10v6.7h-10zM1034.8 873.1h10v6.7h-10zM1043.4 887.3h10v6.7h-10zM1053.1 886.0h10v6.7h-10zM1063.2 874.5h10v6.7h-10zM1067.7 891.0h10v6.7h-10zM1054.4 890.7h10v6.7h-10zM1058.0 881.4h10v6.7h-10zM1086.6 874.9h10v6.7h-10zM1078.6 882.0h10v6.7h-10zM1076.8 875.6h10v6.7h-10zM1076.4 886.1h10v6.7h-10zM1070.4 882.7h10v6.7h-10zM1090.4 878.3h10v6.7h-10zM1091.3 891.4h10v6.7h-10zM1092.1 877.0h10v6.7h-10zM1090.8 887.2h10v6.7h-10zM1095.4 874.2h10v6.7h-10zM1098.4 889.9h10v6.7h-10zM1093.0 890.0h10v6.7h-10zM991.2 905.4h10v6.7h-10zM1011.4 910.4h10v6.7h-10zM1022.7 907.7h10v6.7h-10zM1011.7 908.8h10v6.7h-10zM1047.3 900.7h10v6.7h-10zM1036.8 902.7h10v6.7h-10zM1048.5 897.0h10v6.7h-10zM1032.6 902.2h10v6.7h-10zM1034.8 893.8h10v6.7h-10zM1033.2 892.7h10v6.7h-10zM1034.0 897.9h10v6.7h-10zM1036.1 906.8h10v6.7h-10zM1060.0 895.2h10v6.7h-10zM1056.9 892.0h10v6.7h-10zM1055.0 892.0h10v6.7h-10zM1064.7 902.7h10v6.7h-10zM1053.8 901.1h10v6.7h-10zM1068.7 893.8h10v6.7h-10zM1066.4 900.3h10v6.7h-10zM1059.9 908.3h10v6.7h-10zM1057.9 901.8h10v6.7h-10zM1063.8 911.3h10v6.7h-10zM1056.9 908.3h10v6.7h-10zM1064.1 904.4h10v6.7h-10zM1077.0 892.7h10v6.7h-10zM1072.6 893.1h10v6.7h-10zM1084.8 896.8h10v6.7h-10zM1073.3 893.3h10v6.7h-10zM1086.8 909.1h10v6.7h-10zM1083.4 897.3h10v6.7h-10zM1074.8 897.5h10v6.7h-10zM1079.2 894.8h10v6.7h-10zM1078.9 896.9h10v6.7h-10zM1089.2 911.1h10v6.7h-10zM1094.9 911.0h10v6.7h-10zM1096.2 898.8h10v6.7h-10zM1090.0 899.3h10v6.7h-10zM1099.5 901.7h10v6.7h-10zM1094.0 901.7h10v6.7h-10zM1090.1 896.9h10v6.7h-10zM1091.8 899.6h10v6.7h-10zM1090.8 892.1h10v6.7h-10zM994.7 923.4h10v6.7h-10zM1000.6 926.7h10v6.7h-10zM1024.3 929.2h10v6.7h-10zM1017.8 918.2h10v6.7h-10zM1033.0 926.1h10v6.7h-10zM1042.9 912.5h10v6.7h-10zM1046.7 929.5h10v6.7h-10zM1042.5 926.3h10v6.7h-10zM1046.2 914.4h10v6.7h-10zM1040.5 921.7h10v6.7h-10zM1046.7 927.7h10v6.7h-10zM1046.5 923.3h10v6.7h-10zM1063.7 925.5h10v6.7h-10zM1054.6 912.3h10v6.7h-10zM1052.7 918.9h10v6.7h-10zM1052.1 928.4h10v6.7h-10zM1061.2 924.2h10v6.7h-10zM1062.5 925.3h10v6.7h-10zM1059.8 911.7h10v6.7h-10zM1066.0 926.6h10v6.7h-10zM1060.1 922.4h10v6.7h-10zM1063.2 913.0h10v6.7h-10zM1064.7 916.7h10v6.7h-10zM1075.3 926.2h10v6.7h-10zM1074.1 926.4h10v6.7h-10zM1089.5 921.5h10v6.7h-10zM1077.7 921.2h10v6.7h-10zM1083.7 927.0h10v6.7h-10zM1082.3 924.5h10v6.7h-10zM1071.5 914.6h10v6.7h-10zM1075.1 926.5h10v6.7h-10zM1076.1 923.0h10v6.7h-10zM1070.2 912.9h10v6.7h-10zM1075.4 925.1h10v6.7h-10zM1083.8 925.2h10v6.7h-10zM1100.3 920.9h10v6.7h-10zM1099.3 914.0h10v6.7h-10zM1090.4 920.8h10v6.7h-10zM1099.0 917.0h10v6.7h-10zM1094.2 930.6h10v6.7h-10zM1094.2 923.3h10v6.7h-10zM1092.8 922.1h10v6.7h-10zM992.7 948.1h10v6.7h-10zM1000.2 949.4h10v6.7h-10zM1004.1 936.3h10v6.7h-10zM1008.0 941.4h10v6.7h-10zM999.8 940.7h10v6.7h-10zM996.0 934.5h10v6.7h-10zM996.9 938.0h10v6.7h-10zM1006.8 931.7h10v6.7h-10zM1026.8 934.1h10v6.7h-10zM1028.5 945.9h10v6.7h-10zM1028.0 937.4h10v6.7h-10zM1017.4 939.5h10v6.7h-10zM1030.0 943.4h10v6.7h-10zM1017.2 940.2h10v6.7h-10zM1015.5 932.6h10v6.7h-10zM1012.0 948.3h10v6.7h-10zM1015.7 950.4h10v6.7h-10zM1035.3 941.9h10v6.7h-10zM1033.8 939.1h10v6.7h-10zM1049.1 949.3h10v6.7h-10zM1046.2 944.3h10v6.7h-10zM1048.3 950.5h10v6.7h-10zM1041.0 946.0h10v6.7h-10zM1031.0 946.3h10v6.7h-10zM1039.0 946.7h10v6.7h-10zM1042.9 937.4h10v6.7h-10zM1068.5 934.2h10v6.7h-10zM1059.4 938.5h10v6.7h-10zM1056.0 946.4h10v6.7h-10zM1069.5 936.9h10v6.7h-10zM1063.1 937.7h10v6.7h-10zM1061.1 939.5h10v6.7h-10zM1053.3 934.9h10v6.7h-10zM1054.2 949.8h10v6.7h-10zM1074.4 949.8h10v6.7h-10zM1089.9 940.6h10v6.7h-10zM1072.8 935.5h10v6.7h-10zM1071.8 938.5h10v6.7h-10zM1071.8 936.4h10v6.7h-10zM1075.2 943.0h10v6.7h-10zM1087.7 946.6h10v6.7h-10zM1078.3 939.9h10v6.7h-10zM1080.5 939.2h10v6.7h-10zM1076.8 932.9h10v6.7h-10zM1100.1 944.2h10v6.7h-10zM1095.4 936.6h10v6.7h-10zM1098.0 940.6h10v6.7h-10zM1090.6 945.8h10v6.7h-10zM995.0 953.8h10v6.7h-10zM993.1 962.1h10v6.7h-10zM1004.4 964.6h10v6.7h-10zM1005.3 960.8h10v6.7h-10zM1001.0 952.4h10v6.7h-10zM1005.6 956.3h10v6.7h-10zM1008.4 964.6h10v6.7h-10zM1012.6 956.7h10v6.7h-10zM1022.7 965.6h10v6.7h-10zM1012.2 953.1h10v6.7h-10zM1020.5 963.3h10v6.7h-10zM1017.8 956.1h10v6.7h-10zM1022.0 951.9h10v6.7h-10zM1039.5 956.3h10v6.7h-10zM1044.1 957.8h10v6.7h-10zM1030.4 961.6h10v6.7h-10zM1043.5 960.1h10v6.7h-10zM1035.1 965.0h10v6.7h-10zM1048.5 956.2h10v6.7h-10zM1030.7 958.4h10v6.7h-10zM1038.4 965.3h10v6.7h-10zM1034.0 967.6h10v6.7h-10zM1060.1 955.8h10v6.7h-10zM1069.4 957.9h10v6.7h-10zM1066.4 956.3h10v6.7h-10zM1054.4 966.9h10v6.7h-10zM1059.9 955.4h10v6.7h-10zM1054.5 960.0h10v6.7h-10zM1052.9 959.5h10v6.7h-10zM1052.8 952.7h10v6.7h-10zM1051.2 959.5h10v6.7h-10zM1076.6 955.4h10v6.7h-10zM1088.7 966.6h10v6.7h-10zM1070.6 964.9h10v6.7h-10zM1077.6 959.1h10v6.7h-10zM1076.6 955.0h10v6.7h-10zM1070.1 957.2h10v6.7h-10zM1074.1 958.8h10v6.7h-10zM1086.4 968.1h10v6.7h-10zM1078.6 952.6h10v6.7h-10zM1079.5 959.1h10v6.7h-10zM1088.4 955.5h10v6.7h-10zM1098.2 967.9h10v6.7h-10zM1090.7 952.9h10v6.7h-10zM1096.8 957.1h10v6.7h-10zM1095.2 966.0h10v6.7h-10zM1096.3 957.2h10v6.7h-10zM1090.1 966.8h10v6.7h-10zM1094.7 961.2h10v6.7h-10z"/><rect x="582.6" y="788.0" width="10" height="7.0"/><rect x="582.6" y="798.5" width="10" height="9.5"/><rect x="582.6" y="818.6" width="10" height="13.1"/><rect x="582.6" y="835.0" width="10" height="19.4"/><rect x="582.6" y="857.8" width="10" height="6.2"/><rect x="582.6" y="867.4" width="10" height="45.4"/><rect x="582.6" y="916.3" width="10" height="55.0"/></g>
<g fill="#ff0000"><path d="M1554.7 155.0h10v6.7h-10zM1562.5 184.3h10v6.7h-10zM1509.3 347.0h10v6.7h-10zM1518.5 348.8h10v6.7h-10zM1566.0 348.8h10v6.7h-10zM1575.6 349.7h10v6.7h-10zM1613.8 155.0h10v6.7h-10zM1626.1 155.0h10v6.7h-10zM1675.0 155.0h10v6.7h-10zM1700.6 155.0h10v6.7h-10zM1705.3 155.0h10v6.7h-10zM1739.9 155.0h10v6.7h-10zM1757.7 155.0h10v6.7h-10zM1819.3 155.0h10v6.7h-10zM1881.0 155.0h10v6.7h-10zM1889.7 155.0h10v6.7h-10zM1889.7 168.1h10v6.7h-10zM1636.0 173.8h10v6.7h-10zM1889.7 200.4h10v6.7h-10zM1655.6 215.2h10v6.7h-10zM1681.8 213.5h10v6.7h-10zM1789.7 237.0h10v6.7h-10zM1889.7 249.3h10v6.7h-10zM1889.7 255.4h10v6.7h-10zM1814.6 278.1h10v6.7h-10zM1650.5 315.6h10v6.7h-10zM1717.2 313.0h10v6.7h-10zM1890.9 315.6h10v6.7h-10zM1538.4 395.4h10v6.7h-10zM1551.7 412.0h10v6.7h-10zM1555.2 414.6h10v6.7h-10zM1567.7 411.1h10v6.7h-10zM1480.1 458.6h10v6.7h-10zM1507.2 460.9h10v6.7h-10zM1515.4 467.0h10v6.7h-10zM1584.3 475.7h10v6.7h-10zM1584.3 483.3h10v6.7h-10zM1518.9 492.9h10v6.7h-10zM1467.3 502.8h10v6.7h-10zM1489.7 509.3h10v6.7h-10zM1578.7 507.5h10v6.7h-10zM1494.1 524.1h10v6.7h-10zM1556.4 523.8h10v6.7h-10zM1447.6 533.7h10v6.7h-10zM1508.9 545.1h10v6.7h-10zM1499.7 551.3h10v6.7h-10zM1633.0 418.1h10v6.7h-10zM1680.5 429.5h10v6.7h-10zM1619.8 453.0h10v6.7h-10zM1889.7 440.8h10v6.7h-10zM1889.7 450.8h10v6.7h-10zM1806.8 468.8h10v6.7h-10zM1648.8 478.7h10v6.7h-10zM1662.2 492.9h10v6.7h-10zM1678.3 489.7h10v6.7h-10zM1591.1 497.6h10v6.7h-10zM1645.6 506.0h10v6.7h-10zM1890.9 516.8h10v6.7h-10zM1624.3 533.4h10v6.7h-10zM1890.9 536.9h10v6.7h-10zM1616.5 559.9h10v6.7h-10zM1489.7 580.9h10v6.7h-10zM1522.3 577.7h10v6.7h-10zM1438.0 594.0h10v6.7h-10zM1563.0 590.5h10v6.7h-10zM1464.2 613.5h10v6.7h-10zM1431.2 619.8h10v6.7h-10zM1543.7 616.7h10v6.7h-10zM1493.0 626.3h10v6.7h-10zM1514.1 632.9h10v6.7h-10zM1466.8 642.5h10v6.7h-10zM1425.4 649.3h10v6.7h-10zM1453.9 649.3h10v6.7h-10zM1465.6 649.3h10v6.7h-10zM1525.5 652.5h10v6.7h-10zM1447.6 662.1h10v6.7h-10zM1456.9 669.4h10v6.7h-10zM1536.3 665.6h10v6.7h-10zM1578.7 670.3h10v6.7h-10zM1502.8 685.1h10v6.7h-10zM1496.2 691.4h10v6.7h-10zM1580.8 688.3h10v6.7h-10zM1411.8 694.4h10v6.7h-10zM1438.5 691.4h10v6.7h-10zM1444.7 691.4h10v6.7h-10zM1451.6 694.7h10v6.7h-10zM1452.5 698.2h10v6.7h-10zM1467.3 700.8h10v6.7h-10zM1409.7 704.0h10v6.7h-10zM1419.3 707.5h10v6.7h-10zM1413.2 711.0h10v6.7h-10zM1405.4 713.9h10v6.7h-10zM1434.2 713.9h10v6.7h-10zM1428.1 718.8h10v6.7h-10zM1411.5 720.6h10v6.7h-10zM1419.3 726.7h10v6.7h-10zM1447.3 717.4h10v6.7h-10zM1484.8 709.2h10v6.7h-10zM1516.2 711.0h10v6.7h-10zM1518.9 713.9h10v6.7h-10zM1522.3 717.4h10v6.7h-10zM1533.3 703.6h10v6.7h-10zM1400.1 730.5h10v6.7h-10zM1431.6 730.5h10v6.7h-10zM1524.1 730.5h10v6.7h-10zM1561.3 733.6h10v6.7h-10zM1577.7 737.1h10v6.7h-10zM1502.3 737.1h10v6.7h-10zM1492.7 743.3h10v6.7h-10zM1531.1 739.8h10v6.7h-10zM1541.6 740.3h10v6.7h-10zM1557.3 743.3h10v6.7h-10zM1420.2 746.7h10v6.7h-10zM1427.2 746.7h10v6.7h-10zM1437.7 743.3h10v6.7h-10zM1417.6 750.2h10v6.7h-10zM1453.4 751.1h10v6.7h-10zM1484.8 751.1h10v6.7h-10zM1428.9 758.1h10v6.7h-10zM1444.3 756.3h10v6.7h-10zM1460.4 759.8h10v6.7h-10zM1531.6 756.3h10v6.7h-10zM1529.0 762.5h10v6.7h-10zM1406.2 769.4h10v6.7h-10zM1408.0 775.6h10v6.7h-10zM1454.3 769.4h10v6.7h-10zM1454.3 776.4h10v6.7h-10zM1492.7 769.4h10v6.7h-10zM1384.9 775.9h10v6.7h-10zM1621.7 573.0h10v6.7h-10zM1632.9 580.9h10v6.7h-10zM1617.7 594.8h10v6.7h-10zM1605.5 631.0h10v6.7h-10zM1683.7 609.7h10v6.7h-10zM1720.7 616.7h10v6.7h-10zM1726.8 616.7h10v6.7h-10zM1739.9 602.3h10v6.7h-10zM1876.6 610.2h10v6.7h-10zM1890.1 573.9h10v6.7h-10zM1890.1 587.5h10v6.7h-10zM1890.1 600.6h10v6.7h-10zM1680.5 655.1h10v6.7h-10zM1746.5 655.6h10v6.7h-10zM1670.9 675.2h10v6.7h-10zM1684.9 688.3h10v6.7h-10zM1792.3 679.5h10v6.7h-10zM1805.4 688.3h10v6.7h-10zM1814.1 689.1h10v6.7h-10zM1890.1 642.0h10v6.7h-10zM1890.1 646.3h10v6.7h-10zM1890.1 650.7h10v6.7h-10zM1890.1 656.0h10v6.7h-10zM1890.1 660.3h10v6.7h-10zM1890.1 665.6h10v6.7h-10zM1890.1 669.6h10v6.7h-10zM1890.1 701.7h10v6.7h-10zM1890.1 722.6h10v6.7h-10zM1738.5 741.9h10v6.7h-10zM1756.1 749.4h10v6.7h-10zM1890.1 740.3h10v6.7h-10zM1890.1 752.0h10v6.7h-10zM1680.2 764.6h10v6.7h-10zM1616.5 769.4h10v6.7h-10zM1890.1 766.0h10v6.7h-10zM1879.9 772.4h10v6.7h-10zM1890.9 775.9h10v6.7h-10zM1849.9 787.3h10v6.7h-10zM1863.5 798.6h10v6.7h-10zM1632.5 793.4h10v6.7h-10zM1589.7 802.1h10v6.7h-10zM1633.0 815.2h10v6.7h-10zM1636.5 826.2h10v6.7h-10zM1691.9 829.7h10v6.7h-10zM1707.6 828.0h10v6.7h-10zM1717.6 840.9h10v6.7h-10zM1702.4 845.8h10v6.7h-10zM1756.5 844.4h10v6.7h-10zM1775.7 818.2h10v6.7h-10zM1803.6 812.6h10v6.7h-10zM1748.3 864.1h10v6.7h-10zM1671.8 886.4h10v6.7h-10zM1649.1 892.9h10v6.7h-10zM1589.7 891.2h10v6.7h-10zM1609.8 897.3h10v6.7h-10zM1612.4 909.5h10v6.7h-10zM1663.1 909.5h10v6.7h-10zM1707.6 896.4h10v6.7h-10zM1705.0 901.6h10v6.7h-10zM1724.2 902.5h10v6.7h-10zM1731.2 899.5h10v6.7h-10zM1792.3 897.3h10v6.7h-10zM1811.5 912.6h10v6.7h-10zM1837.7 909.5h10v6.7h-10zM1819.9 926.1h10v6.7h-10zM1590.6 922.6h10v6.7h-10zM1601.1 929.6h10v6.7h-10zM1595.0 936.6h10v6.7h-10zM1631.3 930.4h10v6.7h-10zM1653.5 932.2h10v6.7h-10zM1650.9 940.0h10v6.7h-10zM1647.4 947.0h10v6.7h-10zM1629.0 950.5h10v6.7h-10zM1646.5 953.1h10v6.7h-10zM1683.2 945.3h10v6.7h-10zM1725.6 943.5h10v6.7h-10zM1780.1 950.5h10v6.7h-10zM1860.4 948.8h10v6.7h-10zM1680.5 957.5h10v6.7h-10zM1721.6 954.9h10v6.7h-10zM1733.8 961.3h10v6.7h-10zM1743.4 958.4h10v6.7h-10zM1746.9 966.2h10v6.7h-10zM1616.8 964.5h10v6.7h-10zM1667.4 964.5h10v6.7h-10zM1645.6 967.1h10v6.7h-10zM1593.2 953.1h10v6.7h-10zM1600.2 954.0h10v6.7h-10zM1589.7 961.0h10v6.7h-10zM1506.1 784.3h10v6.7h-10zM1476.1 802.3h10v6.7h-10zM1525.2 799.0h10v6.7h-10zM1529.6 805.6h10v6.7h-10zM1559.6 802.3h10v6.7h-10zM1560.2 808.3h10v6.7h-10zM1587.5 802.3h10v6.7h-10zM1536.7 815.1h10v6.7h-10zM1571.1 815.4h10v6.7h-10zM1478.8 818.1h10v6.7h-10zM1478.3 831.2h10v6.7h-10zM1499.6 831.8h10v6.7h-10zM1569.4 829.6h10v6.7h-10zM1526.3 837.8h10v6.7h-10zM1536.1 837.8h10v6.7h-10zM1487.6 841.6h10v6.7h-10zM1478.3 847.1h10v6.7h-10zM1493.0 849.3h10v6.7h-10zM1496.8 849.3h10v6.7h-10zM1525.2 847.6h10v6.7h-10zM1572.7 852.5h10v6.7h-10zM1578.7 854.2h10v6.7h-10zM1486.5 860.7h10v6.7h-10zM1507.8 857.5h10v6.7h-10zM1520.9 858.0h10v6.7h-10zM1547.1 862.4h10v6.7h-10zM1549.2 867.3h10v6.7h-10zM1487.0 876.6h10v6.7h-10zM1491.4 880.4h10v6.7h-10zM1506.7 871.6h10v6.7h-10zM1512.7 876.6h10v6.7h-10zM1491.9 886.4h10v6.7h-10zM1515.9 886.9h10v6.7h-10zM1551.4 879.8h10v6.7h-10zM1567.8 877.7h10v6.7h-10zM1571.1 891.3h10v6.7h-10zM1567.8 899.5h10v6.7h-10zM1587.5 891.3h10v6.7h-10zM1519.8 896.2h10v6.7h-10zM1537.8 897.9h10v6.7h-10zM1478.3 900.0h10v6.7h-10zM1481.6 907.7h10v6.7h-10zM1500.1 902.8h10v6.7h-10zM1485.9 915.9h10v6.7h-10zM1512.7 912.6h10v6.7h-10zM1478.3 920.8h10v6.7h-10zM1572.2 911.0h10v6.7h-10zM1562.4 918.6h10v6.7h-10zM1549.2 919.7h10v6.7h-10zM1552.5 927.3h10v6.7h-10zM1491.4 927.3h10v6.7h-10zM1507.8 930.6h10v6.7h-10zM1534.5 929.5h10v6.7h-10zM1554.7 931.2h10v6.7h-10zM1536.1 937.2h10v6.7h-10zM1580.9 929.0h10v6.7h-10zM1590.7 921.9h10v6.7h-10zM1478.3 935.0h10v6.7h-10zM1586.4 939.3h10v6.7h-10zM1551.4 942.6h10v6.7h-10zM1480.5 945.9h10v6.7h-10zM1500.1 945.3h10v6.7h-10zM1509.9 945.3h10v6.7h-10zM1520.9 945.3h10v6.7h-10zM1531.8 945.3h10v6.7h-10zM1542.2 951.4h10v6.7h-10zM1479.4 953.5h10v6.7h-10zM1495.7 956.8h10v6.7h-10zM1520.9 957.9h10v6.7h-10zM1524.1 962.3h10v6.7h-10zM1485.9 963.4h10v6.7h-10zM1496.8 963.4h10v6.7h-10zM1558.0 960.1h10v6.7h-10zM1556.9 964.5h10v6.7h-10zM1573.3 962.3h10v6.7h-10zM1584.2 961.2h10v6.7h-10zM1590.7 953.5h10v6.7h-10zM1478.3 962.3h10v6.7h-10zM1379.1 784.4h10v6.7h-10zM1398.6 780.3h10v6.7h-10zM1396.1 791.4h10v6.7h-10zM1396.5 792.1h10v6.7h-10zM1392.1 783.2h10v6.7h-10zM1407.2 792.3h10v6.7h-10zM1401.6 780.6h10v6.7h-10zM1424.9 777.9h10v6.7h-10zM1420.7 787.7h10v6.7h-10zM1426.5 796.3h10v6.7h-10zM1459.8 781.9h10v6.7h-10zM1441.7 778.6h10v6.7h-10zM1450.0 790.8h10v6.7h-10zM1464.7 785.0h10v6.7h-10zM1472.4 790.1h10v6.7h-10zM1376.9 809.9h10v6.7h-10zM1391.3 804.1h10v6.7h-10zM1394.8 800.6h10v6.7h-10zM1384.9 801.6h10v6.7h-10zM1383.1 814.3h10v6.7h-10zM1406.5 804.6h10v6.7h-10zM1419.8 806.8h10v6.7h-10zM1404.6 812.8h10v6.7h-10zM1413.1 816.5h10v6.7h-10zM1429.5 813.0h10v6.7h-10zM1458.3 797.5h10v6.7h-10zM1445.9 799.0h10v6.7h-10zM1443.8 816.1h10v6.7h-10zM1375.6 835.6h10v6.7h-10zM1372.4 821.0h10v6.7h-10zM1385.1 828.6h10v6.7h-10zM1393.0 820.7h10v6.7h-10zM1380.2 823.2h10v6.7h-10zM1393.6 820.4h10v6.7h-10zM1404.1 832.6h10v6.7h-10zM1411.0 817.9h10v6.7h-10zM1402.0 824.6h10v6.7h-10zM1411.0 829.4h10v6.7h-10zM1401.8 819.9h10v6.7h-10zM1413.9 824.8h10v6.7h-10zM1426.2 835.7h10v6.7h-10zM1426.2 828.0h10v6.7h-10zM1427.1 825.0h10v6.7h-10zM1459.9 823.9h10v6.7h-10zM1443.9 831.2h10v6.7h-10zM1444.1 816.8h10v6.7h-10zM1468.5 833.1h10v6.7h-10zM1468.1 834.3h10v6.7h-10zM1469.2 819.9h10v6.7h-10zM1460.3 827.7h10v6.7h-10zM1378.2 838.4h10v6.7h-10zM1372.4 844.1h10v6.7h-10zM1378.5 838.8h10v6.7h-10zM1379.3 840.6h10v6.7h-10zM1398.9 856.2h10v6.7h-10zM1389.7 837.7h10v6.7h-10zM1398.5 844.4h10v6.7h-10zM1398.1 849.1h10v6.7h-10zM1396.5 839.9h10v6.7h-10zM1395.7 841.1h10v6.7h-10zM1388.1 853.6h10v6.7h-10zM1396.6 840.3h10v6.7h-10zM1408.0 847.0h10v6.7h-10zM1407.7 839.1h10v6.7h-10zM1404.9 851.1h10v6.7h-10zM1417.9 837.5h10v6.7h-10zM1435.1 837.4h10v6.7h-10zM1436.8 839.0h10v6.7h-10zM1432.0 847.7h10v6.7h-10zM1432.5 842.8h10v6.7h-10zM1451.7 845.2h10v6.7h-10zM1453.2 845.6h10v6.7h-10zM1448.8 837.1h10v6.7h-10zM1452.4 846.4h10v6.7h-10zM1475.3 852.2h10v6.7h-10zM1469.2 840.2h10v6.7h-10zM1375.6 866.9h10v6.7h-10zM1379.9 871.3h10v6.7h-10zM1383.9 876.3h10v6.7h-10zM1389.8 875.8h10v6.7h-10zM1398.3 860.0h10v6.7h-10zM1395.8 875.3h10v6.7h-10zM1381.3 863.7h10v6.7h-10zM1395.1 859.8h10v6.7h-10zM1397.9 862.1h10v6.7h-10zM1396.3 859.5h10v6.7h-10zM1390.0 875.0h10v6.7h-10zM1405.3 866.8h10v6.7h-10zM1406.4 857.4h10v6.7h-10zM1403.6 859.9h10v6.7h-10zM1418.7 870.2h10v6.7h-10zM1417.9 860.0h10v6.7h-10zM1415.7 859.0h10v6.7h-10zM1410.6 869.4h10v6.7h-10zM1437.5 867.8h10v6.7h-10zM1431.6 874.3h10v6.7h-10zM1422.1 876.5h10v6.7h-10zM1432.6 864.5h10v6.7h-10zM1436.0 861.9h10v6.7h-10zM1439.8 868.2h10v6.7h-10zM1455.3 865.5h10v6.7h-10zM1443.5 871.5h10v6.7h-10zM1441.0 873.0h10v6.7h-10zM1445.1 869.4h10v6.7h-10zM1459.7 868.4h10v6.7h-10zM1453.3 862.9h10v6.7h-10zM1460.7 859.6h10v6.7h-10zM1472.3 865.3h10v6.7h-10zM1470.3 874.6h10v6.7h-10zM1378.7 881.5h10v6.7h-10zM1372.8 894.1h10v6.7h-10zM1388.0 881.9h10v6.7h-10zM1380.2 889.5h10v6.7h-10zM1391.2 883.7h10v6.7h-10zM1392.9 885.5h10v6.7h-10zM1398.7 891.3h10v6.7h-10zM1385.0 894.7h10v6.7h-10zM1380.9 887.3h10v6.7h-10zM1388.1 881.4h10v6.7h-10zM1381.2 892.2h10v6.7h-10zM1380.2 887.7h10v6.7h-10zM1398.8 879.5h10v6.7h-10zM1412.2 886.8h10v6.7h-10zM1412.8 892.9h10v6.7h-10zM1403.5 882.8h10v6.7h-10zM1406.0 877.6h10v6.7h-10zM1417.8 892.3h10v6.7h-10zM1414.3 876.8h10v6.7h-10zM1416.9 891.6h10v6.7h-10zM1409.3 891.5h10v6.7h-10zM1409.0 881.2h10v6.7h-10zM1424.6 877.4h10v6.7h-10zM1426.7 891.6h10v6.7h-10zM1433.9 893.6h10v6.7h-10zM1434.2 882.0h10v6.7h-10zM1431.1 885.4h10v6.7h-10zM1450.5 882.0h10v6.7h-10zM1452.8 896.0h10v6.7h-10zM1444.3 894.3h10v6.7h-10zM1440.3 881.9h10v6.7h-10zM1474.9 895.5h10v6.7h-10zM1474.9 883.2h10v6.7h-10zM1464.8 894.8h10v6.7h-10zM1373.9 910.0h10v6.7h-10zM1379.6 906.0h10v6.7h-10zM1376.8 910.6h10v6.7h-10zM1377.2 905.4h10v6.7h-10zM1374.5 908.1h10v6.7h-10zM1372.5 898.2h10v6.7h-10zM1378.2 899.5h10v6.7h-10zM1386.9 899.5h10v6.7h-10zM1380.6 897.5h10v6.7h-10zM1393.9 909.3h10v6.7h-10zM1393.9 911.4h10v6.7h-10zM1381.3 908.5h10v6.7h-10zM1387.3 913.0h10v6.7h-10zM1396.4 914.5h10v6.7h-10zM1381.3 914.0h10v6.7h-10zM1398.3 915.5h10v6.7h-10zM1382.1 900.8h10v6.7h-10zM1382.2 897.3h10v6.7h-10zM1397.0 912.9h10v6.7h-10zM1392.7 913.2h10v6.7h-10zM1405.7 898.6h10v6.7h-10zM1402.0 911.8h10v6.7h-10zM1404.1 903.0h10v6.7h-10zM1408.5 897.1h10v6.7h-10zM1405.1 902.3h10v6.7h-10zM1414.3 904.0h10v6.7h-10zM1406.4 915.9h10v6.7h-10zM1410.1 913.7h10v6.7h-10zM1412.4 897.3h10v6.7h-10zM1408.3 905.4h10v6.7h-10zM1415.5 903.6h10v6.7h-10zM1430.8 901.0h10v6.7h-10zM1437.2 898.5h10v6.7h-10zM1436.4 900.1h10v6.7h-10zM1420.0 900.7h10v6.7h-10zM1435.2 916.2h10v6.7h-10zM1420.1 906.5h10v6.7h-10zM1429.8 912.6h10v6.7h-10zM1423.7 906.5h10v6.7h-10zM1456.6 901.9h10v6.7h-10zM1458.9 902.3h10v6.7h-10zM1444.3 910.6h10v6.7h-10zM1450.0 898.8h10v6.7h-10zM1452.7 898.3h10v6.7h-10zM1455.8 910.6h10v6.7h-10zM1455.7 909.2h10v6.7h-10zM1468.0 904.5h10v6.7h-10zM1464.1 901.9h10v6.7h-10zM1467.6 914.3h10v6.7h-10zM1464.7 905.9h10v6.7h-10zM1375.1 931.7h10v6.7h-10zM1372.9 923.6h10v6.7h-10zM1376.9 929.9h10v6.7h-10zM1374.8 920.0h10v6.7h-10zM1376.9 919.7h10v6.7h-10zM1399.5 931.2h10v6.7h-10zM1382.0 935.9h10v6.7h-10zM1382.0 924.3h10v6.7h-10zM1399.7 932.5h10v6.7h-10zM1394.7 925.3h10v6.7h-10zM1383.9 929.4h10v6.7h-10zM1382.1 920.8h10v6.7h-10zM1387.8 917.3h10v6.7h-10zM1388.0 932.5h10v6.7h-10zM1393.9 926.7h10v6.7h-10zM1392.6 925.9h10v6.7h-10zM1382.8 928.7h10v6.7h-10zM1388.1 931.5h10v6.7h-10zM1398.2 925.3h10v6.7h-10zM1415.0 925.1h10v6.7h-10zM1404.6 931.1h10v6.7h-10zM1417.6 932.1h10v6.7h-10zM1414.0 933.7h10v6.7h-10zM1413.6 929.5h10v6.7h-10zM1409.1 922.9h10v6.7h-10zM1412.6 918.6h10v6.7h-10zM1408.4 932.3h10v6.7h-10zM1414.3 929.2h10v6.7h-10zM1405.0 925.1h10v6.7h-10zM1409.1 929.1h10v6.7h-10zM1408.2 930.2h10v6.7h-10zM1418.6 920.3h10v6.7h-10zM1413.1 932.2h10v6.7h-10zM1429.8 936.1h10v6.7h-10zM1420.8 927.5h10v6.7h-10zM1423.2 932.3h10v6.7h-10zM1438.8 927.0h10v6.7h-10zM1422.0 928.1h10v6.7h-10zM1430.8 931.0h10v6.7h-10zM1430.2 929.4h10v6.7h-10zM1436.6 927.1h10v6.7h-10zM1428.2 935.6h10v6.7h-10zM1424.2 930.3h10v6.7h-10zM1455.3 919.1h10v6.7h-10zM1459.7 923.8h10v6.7h-10zM1441.1 922.1h10v6.7h-10zM1448.0 916.9h10v6.7h-10zM1448.4 925.1h10v6.7h-10zM1454.0 923.7h10v6.7h-10zM1445.3 921.1h10v6.7h-10zM1454.8 935.4h10v6.7h-10zM1450.5 921.0h10v6.7h-10zM1456.0 924.5h10v6.7h-10zM1462.6 932.2h10v6.7h-10zM1476.2 929.3h10v6.7h-10zM1469.4 927.9h10v6.7h-10zM1464.5 935.9h10v6.7h-10zM1467.1 929.4h10v6.7h-10zM1476.4 933.0h10v6.7h-10zM1469.4 922.5h10v6.7h-10zM1471.0 919.2h10v6.7h-10zM1476.7 923.7h10v6.7h-10zM1374.4 942.3h10v6.7h-10zM1372.7 949.8h10v6.7h-10zM1377.1 937.8h10v6.7h-10zM1376.6 954.8h10v6.7h-10zM1375.7 939.5h10v6.7h-10zM1376.6 949.3h10v6.7h-10zM1380.2 955.7h10v6.7h-10zM1393.1 941.7h10v6.7h-10zM1382.0 939.5h10v6.7h-10zM1384.7 952.2h10v6.7h-10zM1386.9 939.7h10v6.7h-10zM1398.1 952.5h10v6.7h-10zM1383.4 954.5h10v6.7h-10zM1392.2 952.3h10v6.7h-10zM1393.4 954.5h10v6.7h-10zM1395.8 953.4h10v6.7h-10zM1383.9 950.5h10v6.7h-10zM1390.6 951.5h10v6.7h-10zM1388.8 954.3h10v6.7h-10zM1391.1 941.9h10v6.7h-10zM1402.8 946.5h10v6.7h-10zM1401.2 946.0h10v6.7h-10zM1402.9 946.5h10v6.7h-10zM1410.0 947.4h10v6.7h-10zM1417.3 936.8h10v6.7h-10zM1416.8 946.0h10v6.7h-10zM1411.3 950.0h10v6.7h-10zM1416.8 944.1h10v6.7h-10zM1408.4 955.9h10v6.7h-10zM1401.5 949.4h10v6.7h-10zM1412.7 937.2h10v6.7h-10zM1412.2 950.3h10v6.7h-10zM1426.6 956.3h10v6.7h-10zM1430.2 946.3h10v6.7h-10zM1438.0 937.3h10v6.7h-10zM1434.4 949.2h10v6.7h-10zM1426.8 953.9h10v6.7h-10zM1427.3 946.1h10v6.7h-10zM1430.5 952.1h10v6.7h-10zM1424.2 945.4h10v6.7h-10zM1428.4 947.7h10v6.7h-10zM1436.5 942.5h10v6.7h-10zM1436.6 944.7h10v6.7h-10zM1445.4 946.8h10v6.7h-10zM1459.5 949.7h10v6.7h-10zM1455.8 943.3h10v6.7h-10zM1446.3 942.6h10v6.7h-10zM1451.7 949.3h10v6.7h-10zM1455.7 937.5h10v6.7h-10zM1454.5 954.4h10v6.7h-10zM1450.9 937.6h10v6.7h-10zM1446.0 936.8h10v6.7h-10zM1443.8 955.1h10v6.7h-10zM1473.2 952.4h10v6.7h-10zM1472.3 949.2h10v6.7h-10zM1473.9 948.6h10v6.7h-10zM1473.6 940.9h10v6.7h-10zM1473.3 945.8h10v6.7h-10zM1475.3 938.7h10v6.7h-10zM1375.7 967.9h10v6.7h-10zM1378.7 957.7h10v6.7h-10zM1399.6 966.2h10v6.7h-10zM1388.2 958.7h10v6.7h-10zM1392.9 960.9h10v6.7h-10zM1383.0 957.0h10v6.7h-10zM1382.6 957.0h10v6.7h-10zM1394.4 961.5h10v6.7h-10zM1394.7 960.4h10v6.7h-10zM1394.6 958.3h10v6.7h-10zM1414.2 965.9h10v6.7h-10zM1418.6 961.7h10v6.7h-10zM1400.2 956.9h10v6.7h-10zM1401.6 962.9h10v6.7h-10zM1414.6 960.0h10v6.7h-10zM1417.2 966.4h10v6.7h-10zM1401.2 964.0h10v6.7h-10zM1411.5 965.4h10v6.7h-10zM1413.5 959.5h10v6.7h-10zM1415.9 963.9h10v6.7h-10zM1408.4 964.4h10v6.7h-10zM1431.3 962.5h10v6.7h-10zM1432.0 962.8h10v6.7h-10zM1445.7 956.7h10v6.7h-10zM1445.3 965.1h10v6.7h-10zM1457.7 957.5h10v6.7h-10zM1457.3 968.1h10v6.7h-10zM1466.9 958.4h10v6.7h-10z"/><rect x="1890.6" y="799.4" width="10" height="31.4"/><rect x="1890.6" y="853.5" width="10" height="58.5"/><rect x="1890.6" y="926.0" width="10" height="51.5"/></g>
<rect x="536" y="124" width="1410.8" height="920.6" fill="none" stroke="#111" stroke-width="3"/>
<line x1="1110.8" y1="125.5" x2="1110.8" y2="1043" stroke="#8a8a8a" stroke-width="2.6" stroke-dasharray="12.4 6.1" stroke-dashoffset="14.5"/>
<line x1="1372.4" y1="125.5" x2="1372.4" y2="1043" stroke="#b4b4b4" stroke-width="2.6" stroke-dasharray="12.4 6.1" stroke-dashoffset="14.5"/>
<line x1="537.5" y1="973.2" x2="1945.3" y2="973.2" stroke="#959595" stroke-width="2.6" stroke-dasharray="14.6 10.1" stroke-dashoffset="2.5"/>
<line x1="505" y1="1009.8" x2="535" y2="1009.8" stroke="#333" stroke-width="3"/>
<text transform="translate(466.00,1009.80) scale(1.4100,1) rotate(-90)" font-family="'Liberation Sans', Arial, sans-serif" font-size="36" font-weight="normal" text-anchor="middle" fill="#000">0</text>
<line x1="505" y1="868.0" x2="535" y2="868.0" stroke="#333" stroke-width="3"/>
<text transform="translate(466.00,868.00) scale(1.4100,1) rotate(-90)" font-family="'Liberation Sans', Arial, sans-serif" font-size="36" font-weight="normal" text-anchor="middle" fill="#000">5</text>
<line x1="505" y1="726.2" x2="535" y2="726.2" stroke="#333" stroke-width="3"/>
<text transform="translate(466.00,726.20) scale(1.4100,1) rotate(-90)" font-family="'Liberation Sans', Arial, sans-serif" font-size="36" font-weight="normal" text-anchor="middle" fill="#000">10</text>
<line x1="505" y1="584.4" x2="535" y2="584.4" stroke="#333" stroke-width="3"/>
<text transform="translate(466.00,584.40) scale(1.4100,1) rotate(-90)" font-family="'Liberation Sans', Arial, sans-serif" font-size="36" font-weight="normal" text-anchor="middle" fill="#000">15</text>
<line x1="505" y1="442.6" x2="535" y2="442.6" stroke="#333" stroke-width="3"/>
<text transform="translate(466.00,442.60) scale(1.4100,1) rotate(-90)" font-family="'Liberation Sans', Arial, sans-serif" font-size="36" font-weight="normal" text-anchor="middle" fill="#000">20</text>
<line x1="505" y1="300.8" x2="535" y2="300.8" stroke="#333" stroke-width="3"/>
<text transform="translate(466.00,300.80) scale(1.4100,1) rotate(-90)" font-family="'Liberation Sans', Arial, sans-serif" font-size="36" font-weight="normal" text-anchor="middle" fill="#000">25</text>
<line x1="505" y1="159.0" x2="535" y2="159.0" stroke="#333" stroke-width="3"/>
<text transform="translate(466.00,159.00) scale(1.4100,1) rotate(-90)" font-family="'Liberation Sans', Arial, sans-serif" font-size="36" font-weight="normal" text-anchor="middle" fill="#000">30</text>
<line x1="718.4" y1="1046" x2="718.4" y2="1068.6" stroke="#333" stroke-width="3"/>
<text transform="translate(718.40,1124.30) scale(1.4100,1)" font-family="'Liberation Sans', Arial, sans-serif" font-size="36" font-weight="normal" text-anchor="middle" fill="#000">-4</text>
<line x1="980.0" y1="1046" x2="980.0" y2="1068.6" stroke="#333" stroke-width="3"/>
<text transform="translate(980.00,1124.30) scale(1.4100,1)" font-family="'Liberation Sans', Arial, sans-serif" font-size="36" font-weight="normal" text-anchor="middle" fill="#000">-2</text>
<line x1="1241.6" y1="1046" x2="1241.6" y2="1068.6" stroke="#333" stroke-width="3"/>
<text transform="translate(1241.60,1124.30) scale(1.4100,1)" font-family="'Liberation Sans', Arial, sans-serif" font-size="36" font-weight="normal" text-anchor="middle" fill="#000">0</text>
<line x1="1503.2" y1="1046" x2="1503.2" y2="1068.6" stroke="#333" stroke-width="3"/>
<text transform="translate(1503.20,1124.30) scale(1.4100,1)" font-family="'Liberation Sans', Arial, sans-serif" font-size="36" font-weight="normal" text-anchor="middle" fill="#000">2</text>
<line x1="1764.8" y1="1046" x2="1764.8" y2="1068.6" stroke="#333" stroke-width="3"/>
<text transform="translate(1764.80,1124.30) scale(1.4100,1)" font-family="'Liberation Sans', Arial, sans-serif" font-size="36" font-weight="normal" text-anchor="middle" fill="#000">4</text>
<text transform="translate(1241.30,1211.70) scale(1.3640,1)" font-family="'Liberation Serif', 'Times New Roman', serif" font-size="44" font-weight="normal" text-anchor="middle" fill="#000">Log FC</text>
<text transform="translate(351.40,561.50) scale(1.3000,1) rotate(-90)" font-family="'Liberation Serif', 'Times New Roman', serif" font-size="44.7" font-weight="normal" text-anchor="middle" fill="#000">-1*log (FDR)</text>
<text transform="translate(201.20,1299.00) scale(1.4100,1)" font-family="'Liberation Serif', 'Times New Roman', serif" font-size="71" font-weight="bold" text-anchor="start" fill="#000">B</text>
<rect x="246.6" y="1376.5" width="2122.5" height="504" fill="none" stroke="#111" stroke-width="3"/>
<line x1="239" y1="1383.1" x2="245" y2="1383.1" stroke="#ccc" stroke-width="2"/>
<text transform="translate(219.00,1380.58) scale(1.4100,1)" font-family="'Liberation Sans', Arial, sans-serif" font-size="18" font-weight="normal" text-anchor="end" fill="#444">56</text>
<line x1="239" y1="1506.6" x2="245" y2="1506.6" stroke="#ccc" stroke-width="2"/>
<text transform="translate(219.00,1504.06) scale(1.4100,1)" font-family="'Liberation Sans', Arial, sans-serif" font-size="18" font-weight="normal" text-anchor="end" fill="#444">42</text>
<line x1="239" y1="1630.0" x2="245" y2="1630.0" stroke="#ccc" stroke-width="2"/>
<text transform="translate(219.00,1627.54) scale(1.4100,1)" font-family="'Liberation Sans', Arial, sans-serif" font-size="18" font-weight="normal" text-anchor="end" fill="#444">28</text>
<line x1="239" y1="1753.5" x2="245" y2="1753.5" stroke="#ccc" stroke-width="2"/>
<text transform="translate(219.00,1751.02) scale(1.4100,1)" font-family="'Liberation Sans', Arial, sans-serif" font-size="18" font-weight="normal" text-anchor="end" fill="#444">14</text>
<line x1="239" y1="1877.0" x2="245" y2="1877.0" stroke="#ccc" stroke-width="2"/>
<text transform="translate(219.00,1874.50) scale(1.4100,1)" font-family="'Liberation Sans', Arial, sans-serif" font-size="18" font-weight="normal" text-anchor="end" fill="#444">0</text>
<rect x="268.3" y="1804.3" width="22.6" height="71.7" fill="#ff0000"/>
<rect x="290.9" y="1735.6" width="22.6" height="140.4" fill="#008000"/>
<line x1="290.9" y1="1882" x2="290.9" y2="1887" stroke="#222" stroke-width="2"/>
<rect x="336.0" y="1788.0" width="22.6" height="88.0" fill="#ff0000"/>
<rect x="358.6" y="1849.6" width="22.6" height="26.4" fill="#008000"/>
<line x1="358.6" y1="1882" x2="358.6" y2="1887" stroke="#222" stroke-width="2"/>
<rect x="403.8" y="1540.7" width="22.6" height="335.3" fill="#ff0000"/>
<rect x="426.4" y="1618.9" width="22.6" height="257.1" fill="#008000"/>
<line x1="426.4" y1="1882" x2="426.4" y2="1887" stroke="#222" stroke-width="2"/>
<rect x="471.5" y="1859.1" width="22.6" height="16.9" fill="#ff0000"/>
<rect x="494.1" y="1849.6" width="22.6" height="26.4" fill="#008000"/>
<line x1="494.1" y1="1882" x2="494.1" y2="1887" stroke="#222" stroke-width="2"/>
<rect x="539.3" y="1804.3" width="22.6" height="71.7" fill="#ff0000"/>
<rect x="561.9" y="1849.6" width="22.6" height="26.4" fill="#008000"/>
<line x1="561.9" y1="1882" x2="561.9" y2="1887" stroke="#222" stroke-width="2"/>
<rect x="607.0" y="1866.0" width="22.6" height="10.0" fill="#ff0000"/>
<line x1="629.6" y1="1882" x2="629.6" y2="1887" stroke="#222" stroke-width="2"/>
<rect x="674.7" y="1426.7" width="22.6" height="449.3" fill="#ff0000"/>
<rect x="697.3" y="1540.7" width="22.6" height="335.3" fill="#008000"/>
<line x1="697.3" y1="1882" x2="697.3" y2="1887" stroke="#222" stroke-width="2"/>
<rect x="742.5" y="1866.0" width="22.6" height="10.0" fill="#ff0000"/>
<line x1="765.1" y1="1882" x2="765.1" y2="1887" stroke="#222" stroke-width="2"/>
<rect x="810.2" y="1859.1" width="22.6" height="16.9" fill="#ff0000"/>
<rect x="832.8" y="1859.1" width="22.6" height="16.9" fill="#008000"/>
<line x1="832.8" y1="1882" x2="832.8" y2="1887" stroke="#222" stroke-width="2"/>
<rect x="878.0" y="1839.8" width="22.6" height="36.2" fill="#ff0000"/>
<rect x="900.6" y="1813.9" width="22.6" height="62.1" fill="#008000"/>
<line x1="900.6" y1="1882" x2="900.6" y2="1887" stroke="#222" stroke-width="2"/>
<rect x="945.7" y="1866.0" width="22.6" height="10.0" fill="#ff0000"/>
<rect x="968.3" y="1839.8" width="22.6" height="36.2" fill="#008000"/>
<line x1="968.3" y1="1882" x2="968.3" y2="1887" stroke="#222" stroke-width="2"/>
<rect x="1013.4" y="1576.4" width="22.6" height="299.6" fill="#ff0000"/>
<rect x="1036.0" y="1557.0" width="22.6" height="319.0" fill="#008000"/>
<line x1="1036.0" y1="1882" x2="1036.0" y2="1887" stroke="#222" stroke-width="2"/>
<rect x="1081.2" y="1602.6" width="22.6" height="273.4" fill="#ff0000"/>
<rect x="1103.8" y="1699.9" width="22.6" height="176.1" fill="#008000"/>
<line x1="1103.8" y1="1882" x2="1103.8" y2="1887" stroke="#222" stroke-width="2"/>
<rect x="1148.9" y="1602.6" width="22.6" height="273.4" fill="#ff0000"/>
<rect x="1171.5" y="1699.9" width="22.6" height="176.1" fill="#008000"/>
<line x1="1171.5" y1="1882" x2="1171.5" y2="1887" stroke="#222" stroke-width="2"/>
<rect x="1216.7" y="1866.0" width="22.6" height="10.0" fill="#ff0000"/>
<line x1="1239.3" y1="1882" x2="1239.3" y2="1887" stroke="#222" stroke-width="2"/>
<rect x="1284.4" y="1742.4" width="22.6" height="133.6" fill="#ff0000"/>
<rect x="1307.0" y="1813.9" width="22.6" height="62.1" fill="#008000"/>
<line x1="1307.0" y1="1882" x2="1307.0" y2="1887" stroke="#222" stroke-width="2"/>
<rect x="1352.1" y="1788.0" width="22.6" height="88.0" fill="#ff0000"/>
<rect x="1374.7" y="1823.4" width="22.6" height="52.6" fill="#008000"/>
<line x1="1374.7" y1="1882" x2="1374.7" y2="1887" stroke="#222" stroke-width="2"/>
<rect x="1419.9" y="1823.4" width="22.6" height="52.6" fill="#ff0000"/>
<rect x="1442.5" y="1823.4" width="22.6" height="52.6" fill="#008000"/>
<line x1="1442.5" y1="1882" x2="1442.5" y2="1887" stroke="#222" stroke-width="2"/>
<rect x="1487.6" y="1866.0" width="22.6" height="10.0" fill="#ff0000"/>
<line x1="1510.2" y1="1882" x2="1510.2" y2="1887" stroke="#222" stroke-width="2"/>
<rect x="1555.4" y="1706.7" width="22.6" height="169.3" fill="#ff0000"/>
<rect x="1578.0" y="1752.3" width="22.6" height="123.7" fill="#008000"/>
<line x1="1578.0" y1="1882" x2="1578.0" y2="1887" stroke="#222" stroke-width="2"/>
<rect x="1623.1" y="1813.9" width="22.6" height="62.1" fill="#ff0000"/>
<rect x="1645.7" y="1849.6" width="22.6" height="26.4" fill="#008000"/>
<line x1="1645.7" y1="1882" x2="1645.7" y2="1887" stroke="#222" stroke-width="2"/>
<rect x="1690.8" y="1866.0" width="22.6" height="10.0" fill="#ff0000"/>
<line x1="1713.4" y1="1882" x2="1713.4" y2="1887" stroke="#222" stroke-width="2"/>
<rect x="1758.6" y="1859.1" width="22.6" height="16.9" fill="#ff0000"/>
<line x1="1781.2" y1="1882" x2="1781.2" y2="1887" stroke="#222" stroke-width="2"/>
<rect x="1826.3" y="1859.1" width="22.6" height="16.9" fill="#ff0000"/>
<line x1="1848.9" y1="1882" x2="1848.9" y2="1887" stroke="#222" stroke-width="2"/>
<rect x="1894.1" y="1540.7" width="22.6" height="335.3" fill="#ff0000"/>
<rect x="1916.7" y="1583.2" width="22.6" height="292.8" fill="#008000"/>
<line x1="1916.7" y1="1882" x2="1916.7" y2="1887" stroke="#222" stroke-width="2"/>
<rect x="1961.8" y="1390.7" width="22.6" height="485.3" fill="#ff0000"/>
<rect x="1984.4" y="1453.1" width="22.6" height="422.9" fill="#008000"/>
<line x1="1984.4" y1="1882" x2="1984.4" y2="1887" stroke="#222" stroke-width="2"/>
<rect x="2052.1" y="1858.1" width="22.6" height="17.9" fill="#008000"/>
<line x1="2052.1" y1="1882" x2="2052.1" y2="1887" stroke="#222" stroke-width="2"/>
<rect x="2097.3" y="1866.1" width="22.6" height="9.9" fill="#ff0000"/>
<rect x="2119.9" y="1866.1" width="22.6" height="9.9" fill="#008000"/>
<line x1="2119.9" y1="1882" x2="2119.9" y2="1887" stroke="#222" stroke-width="2"/>
<rect x="2187.6" y="1858.1" width="22.6" height="17.9" fill="#008000"/>
<line x1="2187.6" y1="1882" x2="2187.6" y2="1887" stroke="#222" stroke-width="2"/>
<rect x="2255.4" y="1866.1" width="22.6" height="9.9" fill="#008000"/>
<line x1="2255.4" y1="1882" x2="2255.4" y2="1887" stroke="#222" stroke-width="2"/>
<rect x="2300.5" y="1858.1" width="22.6" height="17.9" fill="#ff0000"/>
<rect x="2323.1" y="1866.1" width="22.6" height="9.9" fill="#008000"/>
<line x1="2323.1" y1="1882" x2="2323.1" y2="1887" stroke="#222" stroke-width="2"/>
<text transform="translate(287.90,1897.00) scale(1.4100,1) rotate(-60)" font-family="'Liberation Sans', Arial, sans-serif" font-size="13.6" font-weight="normal" text-anchor="end" fill="#444">biological regulation</text>
<text transform="translate(355.64,1897.00) scale(1.4100,1) rotate(-60)" font-family="'Liberation Sans', Arial, sans-serif" font-size="13.6" font-weight="normal" text-anchor="end" fill="#444">cellular component organization or biogenesis</text>
<text transform="translate(423.38,1897.00) scale(1.4100,1) rotate(-60)" font-family="'Liberation Sans', Arial, sans-serif" font-size="13.6" font-weight="normal" text-anchor="end" fill="#444">cellular process</text>
<text transform="translate(491.12,1897.00) scale(1.4100,1) rotate(-60)" font-family="'Liberation Sans', Arial, sans-serif" font-size="13.6" font-weight="normal" text-anchor="end" fill="#444">developmental process</text>
<text transform="translate(558.86,1897.00) scale(1.4100,1) rotate(-60)" font-family="'Liberation Sans', Arial, sans-serif" font-size="13.6" font-weight="normal" text-anchor="end" fill="#444">localization</text>
<text transform="translate(626.60,1897.00) scale(1.4100,1) rotate(-60)" font-family="'Liberation Sans', Arial, sans-serif" font-size="13.6" font-weight="normal" text-anchor="end" fill="#444">locomotion</text>
<text transform="translate(694.34,1897.00) scale(1.4100,1) rotate(-60)" font-family="'Liberation Sans', Arial, sans-serif" font-size="13.6" font-weight="normal" text-anchor="end" fill="#444">metabolic process</text>
<text transform="translate(762.08,1897.00) scale(1.4100,1) rotate(-60)" font-family="'Liberation Sans', Arial, sans-serif" font-size="13.6" font-weight="normal" text-anchor="end" fill="#444">multi-organism process</text>
<text transform="translate(829.82,1897.00) scale(1.4100,1) rotate(-60)" font-family="'Liberation Sans', Arial, sans-serif" font-size="13.6" font-weight="normal" text-anchor="end" fill="#444">multicellular organismal process</text>
<text transform="translate(897.56,1897.00) scale(1.4100,1) rotate(-60)" font-family="'Liberation Sans', Arial, sans-serif" font-size="13.6" font-weight="normal" text-anchor="end" fill="#444">response to stimulus</text>
<text transform="translate(965.30,1897.00) scale(1.4100,1) rotate(-60)" font-family="'Liberation Sans', Arial, sans-serif" font-size="13.6" font-weight="normal" text-anchor="end" fill="#444">signaling</text>
<text transform="translate(1033.04,1897.00) scale(1.4100,1) rotate(-60)" font-family="'Liberation Sans', Arial, sans-serif" font-size="13.6" font-weight="normal" text-anchor="end" fill="#444">single-organism process</text>
<text transform="translate(1100.78,1897.00) scale(1.4100,1) rotate(-60)" font-family="'Liberation Sans', Arial, sans-serif" font-size="13.6" font-weight="normal" text-anchor="end" fill="#444">cell</text>
<text transform="translate(1168.52,1897.00) scale(1.4100,1) rotate(-60)" font-family="'Liberation Sans', Arial, sans-serif" font-size="13.6" font-weight="normal" text-anchor="end" fill="#444">cell part</text>
<text transform="translate(1236.26,1897.00) scale(1.4100,1) rotate(-60)" font-family="'Liberation Sans', Arial, sans-serif" font-size="13.6" font-weight="normal" text-anchor="end" fill="#444">extracellular region</text>
<text transform="translate(1304.00,1897.00) scale(1.4100,1) rotate(-60)" font-family="'Liberation Sans', Arial, sans-serif" font-size="13.6" font-weight="normal" text-anchor="end" fill="#444">macromolecular complex</text>
<text transform="translate(1371.74,1897.00) scale(1.4100,1) rotate(-60)" font-family="'Liberation Sans', Arial, sans-serif" font-size="13.6" font-weight="normal" text-anchor="end" fill="#444">membrane</text>
<text transform="translate(1439.48,1897.00) scale(1.4100,1) rotate(-60)" font-family="'Liberation Sans', Arial, sans-serif" font-size="13.6" font-weight="normal" text-anchor="end" fill="#444">membrane part</text>
<text transform="translate(1507.22,1897.00) scale(1.4100,1) rotate(-60)" font-family="'Liberation Sans', Arial, sans-serif" font-size="13.6" font-weight="normal" text-anchor="end" fill="#444">membrane-enclosed lumen</text>
<text transform="translate(1574.96,1897.00) scale(1.4100,1) rotate(-60)" font-family="'Liberation Sans', Arial, sans-serif" font-size="13.6" font-weight="normal" text-anchor="end" fill="#444">organelle</text>
<text transform="translate(1642.70,1897.00) scale(1.4100,1) rotate(-60)" font-family="'Liberation Sans', Arial, sans-serif" font-size="13.6" font-weight="normal" text-anchor="end" fill="#444">organelle part</text>
<text transform="translate(1710.44,1897.00) scale(1.4100,1) rotate(-60)" font-family="'Liberation Sans', Arial, sans-serif" font-size="13.6" font-weight="normal" text-anchor="end" fill="#444">supramolecular complex</text>
<text transform="translate(1778.18,1897.00) scale(1.4100,1) rotate(-60)" font-family="'Liberation Sans', Arial, sans-serif" font-size="13.6" font-weight="normal" text-anchor="end" fill="#444">virion</text>
<text transform="translate(1845.92,1897.00) scale(1.4100,1) rotate(-60)" font-family="'Liberation Sans', Arial, sans-serif" font-size="13.6" font-weight="normal" text-anchor="end" fill="#444">virion part</text>
<text transform="translate(1913.66,1897.00) scale(1.4100,1) rotate(-60)" font-family="'Liberation Sans', Arial, sans-serif" font-size="13.6" font-weight="normal" text-anchor="end" fill="#444">binding</text>
<text transform="translate(1981.40,1897.00) scale(1.4100,1) rotate(-60)" font-family="'Liberation Sans', Arial, sans-serif" font-size="13.6" font-weight="normal" text-anchor="end" fill="#444">catalytic activity</text>
<text transform="translate(2049.14,1897.00) scale(1.4100,1) rotate(-60)" font-family="'Liberation Sans', Arial, sans-serif" font-size="13.6" font-weight="normal" text-anchor="end" fill="#444">molecular transducer activity</text>
<text transform="translate(2116.88,1897.00) scale(1.4100,1) rotate(-60)" font-family="'Liberation Sans', Arial, sans-serif" font-size="13.6" font-weight="normal" text-anchor="end" fill="#444">nucleic acid binding transcription factor activity</text>
<text transform="translate(2184.62,1897.00) scale(1.4100,1) rotate(-60)" font-family="'Liberation Sans', Arial, sans-serif" font-size="13.6" font-weight="normal" text-anchor="end" fill="#444">signal transducer activity</text>
<text transform="translate(2252.36,1897.00) scale(1.4100,1) rotate(-60)" font-family="'Liberation Sans', Arial, sans-serif" font-size="13.6" font-weight="normal" text-anchor="end" fill="#444">structural molecule activity</text>
<text transform="translate(2320.10,1897.00) scale(1.4100,1) rotate(-60)" font-family="'Liberation Sans', Arial, sans-serif" font-size="13.6" font-weight="normal" text-anchor="end" fill="#444">transporter activity</text>
<g stroke="#2a2a2a" stroke-width="2.2" fill="none">
<line x1="12" y1="2173.4" x2="2138" y2="2173.4"/>
<line x1="246" y1="1881" x2="13.6" y2="2173.4"/>
<line x1="1070.8" y1="1881" x2="849.5" y2="2173.4"/>
<line x1="1881.5" y1="1881" x2="1662.7" y2="2173.4"/>
<line x1="2369.5" y1="1881" x2="2137" y2="2173.4"/>
</g>
<text transform="translate(409.60,2236.80) scale(1.3750,1)" font-family="'Liberation Serif', 'Times New Roman', serif" font-size="43" font-weight="normal" text-anchor="middle" fill="#000">Biological Process</text>
<text transform="translate(1204.20,2236.80) scale(1.3870,1)" font-family="'Liberation Serif', 'Times New Roman', serif" font-size="43" font-weight="normal" text-anchor="middle" fill="#000">Cellular Component</text>
<text transform="translate(1897.70,2236.80) scale(1.3660,1)" font-family="'Liberation Serif', 'Times New Roman', serif" font-size="43" font-weight="normal" text-anchor="middle" fill="#000">Molecular Function</text>
<text transform="translate(127.80,1658.80) scale(1.3250,1) rotate(-90)" font-family="'Liberation Serif', 'Times New Roman', serif" font-size="45" font-weight="normal" text-anchor="middle" fill="#000">Number of Genes</text>
<rect x="2394.1" y="1381.2" width="22.1" height="16.4" fill="#ff0000"/>
<rect x="2394.1" y="1410.9" width="22.1" height="15.8" fill="#008000"/>
<text transform="translate(2423.00,1393.60) scale(1.4100,1)" font-family="'Liberation Sans', Arial, sans-serif" font-size="17" font-weight="normal" text-anchor="start" fill="#000">up</text>
<text transform="translate(2423.00,1423.50) scale(1.4100,1)" font-family="'Liberation Sans', Arial, sans-serif" font-size="17" font-weight="normal" text-anchor="start" fill="#000">down</text>
</svg></body></html>
